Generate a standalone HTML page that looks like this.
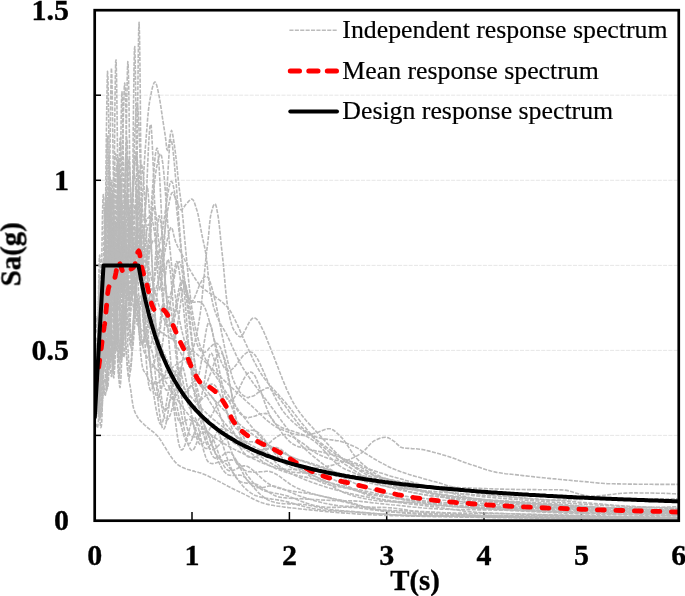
<!DOCTYPE html>
<html><head><meta charset="utf-8"><title>Response spectrum</title>
<style>
html,body{margin:0;padding:0;background:#fff;}
svg{display:block;font-family:"Liberation Serif",serif;}
.b{font-weight:bold;font-size:30px;fill:#000;stroke:#000;stroke-width:0.35px;}
.t{font-weight:bold;font-size:28.8px;fill:#000;stroke:#000;stroke-width:0.35px;}
.lg{font-size:25.8px;fill:#000;stroke:#000;stroke-width:0.2px;}
</style></head><body>
<svg width="685" height="596" viewBox="0 0 685 596">
<rect width="685" height="596" fill="#fff"/>
<g stroke="#dfdfdf" stroke-width="0.8" stroke-dasharray="4 1.3" fill="none"><line x1="96" x2="678" y1="435.4" y2="435.4"/><line x1="96" x2="678" y1="350.4" y2="350.4"/><line x1="96" x2="678" y1="265.4" y2="265.4"/><line x1="96" x2="678" y1="180.3" y2="180.3"/><line x1="96" x2="678" y1="95.2" y2="95.2"/></g>
<g stroke="#000" stroke-width="1.5" fill="none"><line x1="95" x2="101" y1="435.4" y2="435.4"/><line x1="95" x2="101" y1="350.4" y2="350.4"/><line x1="95" x2="101" y1="265.4" y2="265.4"/><line x1="95" x2="101" y1="180.3" y2="180.3"/><line x1="95" x2="101" y1="95.2" y2="95.2"/><line x1="192.0" x2="192.0" y1="512" y2="520"/><line x1="289.4" x2="289.4" y1="512" y2="520"/><line x1="386.7" x2="386.7" y1="512" y2="520"/><line x1="484.0" x2="484.0" y1="512" y2="520"/><line x1="581.4" x2="581.4" y1="512" y2="520"/></g>
<filter id="gs" x="-5%" y="-5%" width="110%" height="110%" color-interpolation-filters="sRGB"><feColorMatrix type="saturate" values="0"/></filter>
<clipPath id="cp"><rect x="94.7" y="10.2" width="584.05" height="510.5"/></clipPath>
<g clip-path="url(#cp)">
<g stroke="#b9b9b9" stroke-width="1.6" stroke-dasharray="4.1 1.3" fill="none" stroke-linejoin="round">
<path d="M94.7 397.9 L95.1 397.8 L95.5 397.3 L95.9 396.7 L96.3 395.8 L96.6 395.3 L97.0 394.9 L97.4 389.5 L97.8 381.5 L98.2 370.9 L98.6 358.7 L99.0 350.7 L99.4 344.1 L99.8 339.0 L100.2 335.6 L100.5 334.1 L100.9 335.8 L101.3 339.9 L101.7 345.1 L102.1 350.3 L102.5 354.6 L102.9 357.0 L103.3 356.1 L103.7 351.0 L104.0 340.2 L104.4 324.6 L104.8 306.0 L105.2 286.4 L105.6 269.1 L106.0 258.1 L106.4 256.7 L106.8 262.9 L107.2 274.3 L107.5 288.5 L107.9 303.3 L108.3 316.9 L108.7 328.1 L109.1 335.9 L109.5 339.2 L109.9 337.5 L110.3 331.6 L110.7 322.5 L111.1 310.9 L111.4 298.1 L111.8 285.2 L112.2 274.1 L112.6 266.6 L113.0 264.4 L113.4 266.7 L113.8 272.3 L114.2 279.9 L114.6 288.5 L114.9 296.9 L115.3 304.2 L115.7 309.6 L116.1 312.4 L116.5 312.4 L116.9 310.7 L117.3 307.5 L117.7 303.3 L118.1 298.2 L118.4 292.5 L118.8 286.5 L119.2 280.6 L119.6 275.1 L120.0 270.5 L120.4 267.3 L120.8 265.7 L121.2 266.5 L121.6 270.4 L122.0 276.4 L122.3 283.7 L122.7 291.5 L123.1 299.1 L123.5 306.0 L123.9 311.4 L124.3 314.9 L124.7 316.1 L125.1 315.3 L125.5 313.0 L125.8 309.6 L126.2 305.3 L126.6 300.2 L127.0 294.6 L127.4 288.8 L127.8 283.0 L128.2 277.5 L128.6 272.8 L129.0 269.0 L129.3 266.7 L129.7 266.1 L130.1 267.7 L130.5 270.3 L130.9 273.6 L131.3 277.1 L131.7 280.7 L132.1 284.0 L132.5 286.9 L132.9 289.2 L133.2 290.8 L133.6 291.7 L134.0 291.9 L134.4 291.3 L134.8 289.9 L135.2 287.9 L135.6 285.2 L136.0 282.5 L136.4 279.8 L136.7 277.5 L137.1 275.9 L137.5 275.0 L137.9 273.7 L138.3 271.0 L138.7 267.3 L139.1 262.8 L139.5 257.7 L139.9 248.9 L140.3 239.6 L140.6 230.4 L141.0 221.8 L141.4 214.3 L141.8 207.6 L142.2 200.8 L142.6 194.6 L143.0 189.0 L143.4 180.1 L143.8 173.3 L144.1 166.7 L144.5 160.3 L144.9 154.2 L145.3 148.5 L145.7 143.2 L146.1 138.2 L146.5 133.2 L146.9 128.4 L147.3 123.6 L147.6 119.1 L148.0 114.8 L148.4 110.8 L148.8 107.3 L149.2 104.1 L149.6 101.5 L150.0 99.3 L150.4 97.3 L150.8 95.2 L151.2 93.3 L151.5 91.4 L151.9 89.7 L152.3 88.0 L152.7 86.6 L153.1 85.3 L153.5 84.1 L153.9 83.2 L154.3 82.5 L154.7 82.1 L155.0 82.0 L155.4 82.2 L155.8 82.8 L156.2 83.8 L156.6 85.0 L157.0 86.4 L157.4 88.1 L157.8 89.8 L158.2 91.6 L158.5 93.5 L158.9 95.2 L159.3 97.2 L159.7 99.4 L160.1 101.8 L160.5 104.4 L160.9 107.0 L161.3 109.7 L161.7 112.3 L162.1 114.9 L162.4 117.4 L162.8 119.9 L163.8 126.3 L164.8 132.9 L165.8 139.8 L166.7 149.0 L167.7 150.5 L168.7 145.6 L169.6 139.9 L170.6 133.0 L171.6 130.4 L172.6 133.9 L173.5 139.5 L174.5 145.8 L175.5 153.6 L176.5 161.9 L177.4 171.0 L178.4 180.7 L179.4 189.6 L180.4 197.1 L181.3 204.2 L182.3 212.6 L183.3 222.5 L184.2 233.3 L185.2 244.4 L186.2 255.3 L187.2 265.4 L188.1 275.2 L189.1 285.1 L190.1 294.4 L191.1 302.7 L192.0 309.6 L193.0 315.3 L194.0 320.6 L194.9 325.5 L195.9 330.0 L196.9 334.2 L197.9 338.0 L198.8 341.5 L199.8 344.7 L200.8 347.7 L201.8 350.4 L202.7 352.9 L203.7 355.2 L204.7 357.4 L205.7 359.5 L206.6 361.4 L207.6 363.2 L208.6 365.0 L209.5 366.6 L210.5 368.2 L211.5 369.8 L212.5 371.3 L213.4 372.7 L214.4 374.2 L215.4 375.6 L216.4 377.0 L217.3 378.5 L218.3 379.9 L219.3 381.4 L220.3 382.9 L221.2 384.4 L222.2 386.0 L223.2 387.5 L224.1 389.1 L225.1 390.6 L226.1 392.1 L227.1 393.6 L228.0 395.0 L229.0 396.5 L230.0 397.9 L231.0 399.4 L231.9 400.8 L232.9 402.2 L233.9 403.6 L234.9 405.0 L235.8 406.4 L236.8 407.7 L237.8 409.1 L238.7 410.4 L239.7 411.7 L240.7 413.0 L241.7 414.3 L242.6 415.6 L243.6 416.8 L244.6 418.1 L245.6 419.3 L246.5 420.5 L247.5 421.7 L248.5 422.9 L249.5 424.1 L250.4 425.2 L251.4 426.4 L252.4 427.6 L253.3 428.7 L254.3 429.8 L255.3 431.0 L256.3 432.1 L257.2 433.2 L258.2 434.4 L259.2 435.5 L260.2 436.6 L261.1 437.6 L262.1 438.7 L263.1 439.8 L264.1 440.8 L265.0 441.9 L266.0 442.9 L267.0 443.9 L267.9 444.9 L268.9 445.9 L269.9 446.8 L270.9 447.8 L271.8 448.7 L272.8 449.7 L273.8 450.6 L274.8 451.4 L275.7 452.3 L276.7 453.2 L277.7 454.0 L278.7 454.8 L279.6 455.6 L280.6 456.4 L281.6 457.2 L282.5 457.9 L283.5 458.7 L284.5 459.4 L285.5 460.1 L286.4 460.7 L287.4 461.4 L288.4 462.0 L289.4 462.7 L292.3 464.5 L295.2 466.2 L298.1 467.9 L301.0 469.5 L304.0 471.1 L306.9 472.6 L309.8 474.1 L312.7 475.5 L315.6 476.8 L318.6 478.1 L321.5 479.4 L324.4 480.5 L327.3 481.7 L330.2 482.8 L333.2 483.9 L336.1 484.9 L339.0 485.8 L341.9 486.8 L344.8 487.7 L347.8 488.5 L350.7 489.3 L353.6 490.1 L356.5 490.8 L359.4 491.5 L362.4 492.2 L365.3 492.9 L368.2 493.5 L371.1 494.1 L374.0 494.6 L377.0 495.1 L379.9 495.6 L382.8 496.1 L385.7 496.5 L388.6 497.0 L391.6 497.4 L394.5 497.7 L397.4 498.1 L400.3 498.5 L403.2 498.8 L406.2 499.1 L409.1 499.4 L412.0 499.7 L414.9 500.0 L417.8 500.3 L420.8 500.6 L423.7 500.8 L426.6 501.1 L429.5 501.3 L432.4 501.6 L435.4 501.8 L438.3 502.0 L441.2 502.2 L444.1 502.5 L447.0 502.7 L450.0 502.9 L452.9 503.1 L455.8 503.3 L458.7 503.5 L461.6 503.7 L464.6 503.9 L467.5 504.1 L470.4 504.3 L473.3 504.5 L476.2 504.7 L479.2 504.9 L482.1 505.1 L485.0 505.3 L487.9 505.4 L490.8 505.6 L493.8 505.8 L496.7 506.0 L499.6 506.2 L502.5 506.4 L505.4 506.6 L508.4 506.7 L511.3 506.9 L514.2 507.1 L517.1 507.2 L520.0 507.4 L523.0 507.6 L525.9 507.7 L528.8 507.9 L531.7 508.0 L534.6 508.2 L537.6 508.4 L540.5 508.5 L543.4 508.7 L546.3 508.8 L549.2 508.9 L552.2 509.1 L555.1 509.2 L558.0 509.4 L560.9 509.5 L563.8 509.6 L566.8 509.8 L569.7 509.9 L572.6 510.0 L575.5 510.2 L578.4 510.3 L581.3 510.4 L584.3 510.5 L587.2 510.6 L590.1 510.8 L593.0 510.9 L595.9 511.0 L598.9 511.1 L601.8 511.2 L604.7 511.3 L607.6 511.4 L610.5 511.6 L613.5 511.7 L616.4 511.8 L619.3 511.9 L622.2 512.0 L625.1 512.1 L628.1 512.2 L631.0 512.3 L633.9 512.4 L636.8 512.5 L639.7 512.6 L642.7 512.7 L645.6 512.7 L648.5 512.8 L651.4 512.9 L654.3 513.0 L657.3 513.1 L660.2 513.2 L663.1 513.3 L666.0 513.3 L668.9 513.4 L671.9 513.5 L674.8 513.6 L677.7 513.7"/>
<path d="M94.7 373.2 L95.1 371.7 L95.5 370.2 L95.9 368.9 L96.3 367.8 L96.6 365.7 L97.0 362.6 L97.4 359.8 L97.8 357.3 L98.2 357.9 L98.6 379.5 L99.0 396.6 L99.4 409.1 L99.8 417.8 L100.2 423.5 L100.5 426.7 L100.9 427.6 L101.3 426.5 L101.7 422.5 L102.1 412.5 L102.5 399.5 L102.9 384.7 L103.3 369.9 L103.7 358.0 L104.0 352.4 L104.4 355.1 L104.8 363.3 L105.2 373.1 L105.6 381.4 L106.0 385.5 L106.4 383.3 L106.8 375.1 L107.2 362.4 L107.5 346.5 L107.9 329.8 L108.3 315.2 L108.7 306.8 L109.1 305.9 L109.5 309.1 L109.9 314.8 L110.3 322.0 L110.7 329.7 L111.1 337.0 L111.4 343.3 L111.8 347.8 L112.2 350.0 L112.6 349.3 L113.0 343.6 L113.4 333.1 L113.8 319.2 L114.2 303.7 L114.6 288.9 L114.9 277.8 L115.3 273.6 L115.7 278.0 L116.1 286.8 L116.5 298.9 L116.9 312.8 L117.3 327.3 L117.7 341.4 L118.1 354.4 L118.4 365.7 L118.8 375.0 L119.2 381.9 L119.6 386.1 L120.0 387.5 L120.4 385.4 L120.8 380.2 L121.2 372.1 L121.6 361.6 L122.0 349.1 L122.3 335.2 L122.7 320.7 L123.1 306.7 L123.5 294.7 L123.9 286.3 L124.3 283.1 L124.7 284.1 L125.1 287.8 L125.5 293.6 L125.8 301.1 L126.2 309.6 L126.6 318.7 L127.0 327.9 L127.4 336.9 L127.8 345.3 L128.2 352.8 L128.6 359.3 L129.0 364.6 L129.3 368.4 L129.7 370.7 L130.1 371.2 L130.5 370.2 L130.9 367.7 L131.3 364.0 L131.7 359.3 L132.1 353.6 L132.5 347.2 L132.9 340.2 L133.2 333.0 L133.6 325.8 L134.0 318.8 L134.4 312.6 L134.8 307.4 L135.2 303.8 L135.6 302.0 L136.0 303.6 L136.4 306.2 L136.7 309.3 L137.1 312.9 L137.5 316.8 L137.9 320.7 L138.3 324.6 L138.7 328.3 L139.1 331.8 L139.5 334.9 L139.9 337.7 L140.3 340.0 L140.6 341.9 L141.0 343.3 L141.4 344.3 L141.8 344.7 L142.2 344.7 L142.6 344.3 L143.0 343.4 L143.4 342.2 L143.8 340.1 L144.1 336.6 L144.5 332.0 L144.9 326.4 L145.3 319.9 L145.7 314.7 L146.1 308.9 L146.5 302.6 L146.9 295.9 L147.3 288.8 L147.6 281.7 L148.0 274.5 L148.4 267.6 L148.8 261.1 L149.2 255.1 L149.6 249.5 L150.0 243.5 L150.4 237.4 L150.8 231.2 L151.2 224.9 L151.5 218.7 L151.9 212.6 L152.3 206.8 L152.7 201.3 L153.1 196.2 L153.5 191.7 L153.9 187.9 L154.3 184.4 L154.7 181.1 L155.0 178.0 L155.4 175.1 L155.8 172.4 L156.2 169.9 L156.6 167.6 L157.0 165.6 L157.4 163.7 L157.8 162.0 L158.2 160.3 L158.5 158.6 L158.9 157.1 L159.3 155.8 L159.7 154.7 L160.1 154.0 L160.5 153.8 L160.9 154.1 L161.3 155.2 L161.7 156.8 L162.1 158.7 L162.4 161.0 L162.8 163.3 L163.8 172.7 L164.8 184.5 L165.8 197.2 L166.7 210.4 L167.7 223.2 L168.7 234.7 L169.6 245.1 L170.6 255.2 L171.6 264.8 L172.6 273.8 L173.5 282.3 L174.5 290.1 L175.5 297.3 L176.5 303.8 L177.4 309.6 L178.4 314.8 L179.4 319.7 L180.4 324.2 L181.3 328.5 L182.3 332.6 L183.3 336.4 L184.2 340.0 L185.2 343.4 L186.2 346.7 L187.2 349.9 L188.1 352.9 L189.1 355.8 L190.1 358.6 L191.1 361.3 L192.0 364.0 L193.0 366.6 L194.0 369.1 L194.9 371.6 L195.9 374.0 L196.9 376.3 L197.9 378.5 L198.8 380.7 L199.8 382.8 L200.8 384.9 L201.8 386.9 L202.7 388.8 L203.7 390.7 L204.7 392.6 L205.7 394.4 L206.6 396.2 L207.6 397.9 L208.6 399.6 L209.5 401.2 L210.5 402.8 L211.5 404.4 L212.5 405.9 L213.4 407.4 L214.4 408.9 L215.4 410.3 L216.4 411.7 L217.3 413.1 L218.3 414.5 L219.3 415.8 L220.3 417.1 L221.2 418.4 L222.2 419.7 L223.2 421.0 L224.1 422.2 L225.1 423.4 L226.1 424.6 L227.1 425.8 L228.0 426.9 L229.0 428.0 L230.0 429.1 L231.0 430.2 L231.9 431.3 L232.9 432.4 L233.9 433.4 L234.9 434.4 L235.8 435.4 L236.8 436.4 L237.8 437.4 L238.7 438.4 L239.7 439.3 L240.7 440.2 L241.7 441.1 L242.6 442.0 L243.6 442.9 L244.6 443.8 L245.6 444.7 L246.5 445.5 L247.5 446.3 L248.5 447.2 L249.5 448.0 L250.4 448.8 L251.4 449.5 L252.4 450.3 L253.3 451.1 L254.3 451.8 L255.3 452.6 L256.3 453.3 L257.2 454.0 L258.2 454.7 L259.2 455.4 L260.2 456.1 L261.1 456.8 L262.1 457.4 L263.1 458.1 L264.1 458.8 L265.0 459.4 L266.0 460.0 L267.0 460.6 L267.9 461.3 L268.9 461.9 L269.9 462.5 L270.9 463.0 L271.8 463.6 L272.8 464.2 L273.8 464.8 L274.8 465.3 L275.7 465.9 L276.7 466.4 L277.7 467.0 L278.7 467.5 L279.6 468.0 L280.6 468.5 L281.6 469.0 L282.5 469.5 L283.5 470.0 L284.5 470.5 L285.5 471.0 L286.4 471.5 L287.4 471.9 L288.4 472.4 L289.4 472.9 L292.3 474.2 L295.2 475.5 L298.1 476.8 L301.0 478.0 L304.0 479.2 L306.9 480.4 L309.8 481.5 L312.7 482.6 L315.6 483.6 L318.6 484.6 L321.5 485.6 L324.4 486.5 L327.3 487.4 L330.2 488.3 L333.2 489.1 L336.1 489.9 L339.0 490.7 L341.9 491.5 L344.8 492.2 L347.8 492.9 L350.7 493.6 L353.6 494.2 L356.5 494.9 L359.4 495.5 L362.4 496.1 L365.3 496.6 L368.2 497.2 L371.1 497.7 L374.0 498.2 L377.0 498.6 L379.9 499.1 L382.8 499.5 L385.7 500.0 L388.6 500.4 L391.6 500.7 L394.5 501.1 L397.4 501.5 L400.3 501.8 L403.2 502.2 L406.2 502.5 L409.1 502.8 L412.0 503.1 L414.9 503.4 L417.8 503.7 L420.8 504.0 L423.7 504.2 L426.6 504.5 L429.5 504.8 L432.4 505.0 L435.4 505.3 L438.3 505.5 L441.2 505.7 L444.1 505.9 L447.0 506.2 L450.0 506.4 L452.9 506.6 L455.8 506.8 L458.7 507.0 L461.6 507.2 L464.6 507.4 L467.5 507.6 L470.4 507.8 L473.3 507.9 L476.2 508.1 L479.2 508.3 L482.1 508.5 L485.0 508.7 L487.9 508.8 L490.8 509.0 L493.8 509.1 L496.7 509.3 L499.6 509.5 L502.5 509.6 L505.4 509.8 L508.4 509.9 L511.3 510.1 L514.2 510.2 L517.1 510.4 L520.0 510.5 L523.0 510.6 L525.9 510.8 L528.8 510.9 L531.7 511.0 L534.6 511.2 L537.6 511.3 L540.5 511.4 L543.4 511.5 L546.3 511.7 L549.2 511.8 L552.2 511.9 L555.1 512.0 L558.0 512.1 L560.9 512.2 L563.8 512.3 L566.8 512.5 L569.7 512.6 L572.6 512.7 L575.5 512.8 L578.4 512.9 L581.3 513.0 L584.3 513.1 L587.2 513.2 L590.1 513.2 L593.0 513.3 L595.9 513.4 L598.9 513.5 L601.8 513.6 L604.7 513.7 L607.6 513.8 L610.5 513.9 L613.5 513.9 L616.4 514.0 L619.3 514.1 L622.2 514.2 L625.1 514.2 L628.1 514.3 L631.0 514.4 L633.9 514.5 L636.8 514.5 L639.7 514.6 L642.7 514.7 L645.6 514.7 L648.5 514.8 L651.4 514.9 L654.3 514.9 L657.3 515.0 L660.2 515.0 L663.1 515.1 L666.0 515.2 L668.9 515.2 L671.9 515.3 L674.8 515.3 L677.7 515.4"/>
<path d="M94.7 376.2 L95.1 375.7 L95.5 375.0 L95.9 374.2 L96.3 373.2 L96.6 374.1 L97.0 376.7 L97.4 379.2 L97.8 364.3 L98.2 335.9 L98.6 303.1 L99.0 285.2 L99.4 278.1 L99.8 281.7 L100.2 290.9 L100.5 299.4 L100.9 310.2 L101.3 322.2 L101.7 334.8 L102.1 346.4 L102.5 356.2 L102.9 363.9 L103.3 368.7 L103.7 370.5 L104.0 368.0 L104.4 357.7 L104.8 341.2 L105.2 321.5 L105.6 302.8 L106.0 291.1 L106.4 292.2 L106.8 304.0 L107.2 320.0 L107.5 334.9 L107.9 344.4 L108.3 345.1 L108.7 333.3 L109.1 309.3 L109.5 276.1 L109.9 238.7 L110.3 206.2 L110.7 192.7 L111.1 194.5 L111.4 204.1 L111.8 219.8 L112.2 238.3 L112.6 257.2 L113.0 274.7 L113.4 289.5 L113.8 300.5 L114.2 306.8 L114.6 307.7 L114.9 304.3 L115.3 297.3 L115.7 287.8 L116.1 276.6 L116.5 264.5 L116.9 253.0 L117.3 243.3 L117.7 237.1 L118.1 236.1 L118.4 243.1 L118.8 258.8 L119.2 279.1 L119.6 300.6 L120.0 320.9 L120.4 337.9 L120.8 350.7 L121.2 358.4 L121.6 360.0 L122.0 357.0 L122.3 350.3 L122.7 340.4 L123.1 328.2 L123.5 314.3 L123.9 300.1 L124.3 286.8 L124.7 276.4 L125.1 271.0 L125.5 269.9 L125.8 271.7 L126.2 275.6 L126.6 281.0 L127.0 287.0 L127.4 292.9 L127.8 298.2 L128.2 302.1 L128.6 304.3 L129.0 304.0 L129.3 301.3 L129.7 297.7 L130.1 292.9 L130.5 286.8 L130.9 279.8 L131.3 271.9 L131.7 263.1 L132.1 254.1 L132.5 245.0 L132.9 236.2 L133.2 228.0 L133.6 220.6 L134.0 214.2 L134.4 209.3 L134.8 206.2 L135.2 205.0 L135.6 206.1 L136.0 213.7 L136.4 223.5 L136.7 235.0 L137.1 247.3 L137.5 259.9 L137.9 272.2 L138.3 284.1 L138.7 295.1 L139.1 305.1 L139.5 314.0 L139.9 321.7 L140.3 328.3 L140.6 333.7 L141.0 337.9 L141.4 341.1 L141.8 343.2 L142.2 344.3 L142.6 344.4 L143.0 343.7 L143.4 342.3 L143.8 340.6 L144.1 338.6 L144.5 336.6 L144.9 334.6 L145.3 332.5 L145.7 332.1 L146.1 331.7 L146.5 331.2 L146.9 330.7 L147.3 330.1 L147.6 329.5 L148.0 328.8 L148.4 328.0 L148.8 327.2 L149.2 326.4 L149.6 325.5 L150.0 324.6 L150.4 323.7 L150.8 322.7 L151.2 321.7 L151.5 320.7 L151.9 319.7 L152.3 318.6 L152.7 317.5 L153.1 316.4 L153.5 315.1 L153.9 313.6 L154.3 311.9 L154.7 309.9 L155.0 307.7 L155.4 305.3 L155.8 302.7 L156.2 300.0 L156.6 297.1 L157.0 294.1 L157.4 291.0 L157.8 287.8 L158.2 284.5 L158.5 281.2 L158.9 277.9 L159.3 274.5 L159.7 271.3 L160.1 268.1 L160.5 264.9 L160.9 261.9 L161.3 259.0 L161.7 256.0 L162.1 252.9 L162.4 249.7 L162.8 246.6 L163.8 238.6 L164.8 230.7 L165.8 223.2 L166.7 216.4 L167.7 210.1 L168.7 204.8 L169.6 200.4 L170.6 196.1 L171.6 193.1 L172.6 192.5 L173.5 193.7 L174.5 195.9 L175.5 198.4 L176.5 200.7 L177.4 203.0 L178.4 205.6 L179.4 207.9 L180.4 209.5 L181.3 209.9 L182.3 209.3 L183.3 208.1 L184.2 206.7 L185.2 205.3 L186.2 204.1 L187.2 203.1 L188.1 201.9 L189.1 200.8 L190.1 199.9 L191.1 199.2 L192.0 199.0 L193.0 199.8 L194.0 201.5 L194.9 204.1 L195.9 207.1 L196.9 210.3 L197.9 213.7 L198.8 218.2 L199.8 223.4 L200.8 228.9 L201.8 234.1 L202.7 238.6 L203.7 243.0 L204.7 247.5 L205.7 252.8 L206.6 259.5 L207.6 269.0 L208.6 278.5 L209.5 285.7 L210.5 291.9 L211.5 297.4 L212.5 302.2 L213.4 306.2 L214.4 309.5 L215.4 312.3 L216.4 314.9 L217.3 317.2 L218.3 319.4 L219.3 321.5 L220.3 323.4 L221.2 325.2 L222.2 326.8 L223.2 328.4 L224.1 330.0 L225.1 331.6 L226.1 333.4 L227.1 335.3 L228.0 337.3 L229.0 339.4 L230.0 341.5 L231.0 343.6 L231.9 345.8 L232.9 348.0 L233.9 350.1 L234.9 352.3 L235.8 354.4 L236.8 356.4 L237.8 358.4 L238.7 360.4 L239.7 362.2 L240.7 364.0 L241.7 365.7 L242.6 367.4 L243.6 369.0 L244.6 370.5 L245.6 372.0 L246.5 373.5 L247.5 375.0 L248.5 376.4 L249.5 377.8 L250.4 379.2 L251.4 380.5 L252.4 381.9 L253.3 383.2 L254.3 384.5 L255.3 385.8 L256.3 387.1 L257.2 388.3 L258.2 389.6 L259.2 390.8 L260.2 392.1 L261.1 393.3 L262.1 394.6 L263.1 395.9 L264.1 397.1 L265.0 398.4 L266.0 399.7 L267.0 400.9 L267.9 402.2 L268.9 403.5 L269.9 404.8 L270.9 406.2 L271.8 407.5 L272.8 408.8 L273.8 410.2 L274.8 411.5 L275.7 412.9 L276.7 414.2 L277.7 415.6 L278.7 416.9 L279.6 418.3 L280.6 419.6 L281.6 421.0 L282.5 422.3 L283.5 423.6 L284.5 424.9 L285.5 426.2 L286.4 427.5 L287.4 428.8 L288.4 430.1 L289.4 431.3 L292.3 435.0 L295.2 438.5 L298.1 441.8 L301.0 445.0 L304.0 448.0 L306.9 450.7 L309.8 453.3 L312.7 455.8 L315.6 458.2 L318.6 460.6 L321.5 462.9 L324.4 465.1 L327.3 467.2 L330.2 469.3 L333.2 471.2 L336.1 473.1 L339.0 474.9 L341.9 476.6 L344.8 478.3 L347.8 479.8 L350.7 481.3 L353.6 482.7 L356.5 484.0 L359.4 485.2 L362.4 486.4 L365.3 487.5 L368.2 488.5 L371.1 489.4 L374.0 490.3 L377.0 491.1 L379.9 491.8 L382.8 492.5 L385.7 493.1 L388.6 493.6 L391.6 494.2 L394.5 494.7 L397.4 495.1 L400.3 495.6 L403.2 496.0 L406.2 496.4 L409.1 496.8 L412.0 497.1 L414.9 497.5 L417.8 497.8 L420.8 498.1 L423.7 498.4 L426.6 498.7 L429.5 499.0 L432.4 499.3 L435.4 499.5 L438.3 499.8 L441.2 500.1 L444.1 500.3 L447.0 500.6 L450.0 500.8 L452.9 501.0 L455.8 501.3 L458.7 501.5 L461.6 501.7 L464.6 501.9 L467.5 502.2 L470.4 502.4 L473.3 502.6 L476.2 502.9 L479.2 503.1 L482.1 503.3 L485.0 503.6 L487.9 503.8 L490.8 504.0 L493.8 504.3 L496.7 504.5 L499.6 504.7 L502.5 504.9 L505.4 505.1 L508.4 505.4 L511.3 505.6 L514.2 505.8 L517.1 506.0 L520.0 506.2 L523.0 506.4 L525.9 506.6 L528.8 506.8 L531.7 506.9 L534.6 507.1 L537.6 507.3 L540.5 507.5 L543.4 507.7 L546.3 507.9 L549.2 508.0 L552.2 508.2 L555.1 508.4 L558.0 508.5 L560.9 508.7 L563.8 508.9 L566.8 509.0 L569.7 509.2 L572.6 509.3 L575.5 509.5 L578.4 509.6 L581.3 509.8 L584.3 509.9 L587.2 510.1 L590.1 510.2 L593.0 510.4 L595.9 510.5 L598.9 510.6 L601.8 510.8 L604.7 510.9 L607.6 511.0 L610.5 511.2 L613.5 511.3 L616.4 511.4 L619.3 511.5 L622.2 511.7 L625.1 511.8 L628.1 511.9 L631.0 512.0 L633.9 512.1 L636.8 512.2 L639.7 512.3 L642.7 512.5 L645.6 512.6 L648.5 512.7 L651.4 512.8 L654.3 512.9 L657.3 513.0 L660.2 513.1 L663.1 513.2 L666.0 513.3 L668.9 513.4 L671.9 513.5 L674.8 513.6 L677.7 513.7"/>
<path d="M94.7 415.9 L95.1 415.8 L95.5 415.4 L95.9 414.8 L96.3 414.1 L96.6 411.8 L97.0 407.9 L97.4 403.8 L97.8 399.4 L98.2 403.7 L98.6 408.8 L99.0 412.2 L99.4 413.4 L99.8 412.9 L100.2 410.6 L100.5 406.8 L100.9 401.8 L101.3 396.3 L101.7 390.0 L102.1 383.4 L102.5 377.0 L102.9 371.1 L103.3 365.5 L103.7 360.7 L104.0 357.0 L104.4 354.9 L104.8 354.4 L105.2 355.4 L105.6 357.2 L106.0 359.4 L106.4 361.7 L106.8 363.5 L107.2 364.5 L107.5 364.1 L107.9 362.1 L108.3 356.8 L108.7 348.7 L109.1 339.0 L109.5 329.1 L109.9 320.5 L110.3 315.3 L110.7 315.4 L111.1 322.2 L111.4 333.2 L111.8 345.5 L112.2 356.4 L112.6 364.1 L113.0 366.9 L113.4 363.1 L113.8 352.4 L114.2 336.5 L114.6 317.7 L114.9 299.2 L115.3 285.6 L115.7 281.7 L116.1 285.9 L116.5 294.6 L116.9 306.1 L117.3 318.8 L117.7 331.4 L118.1 342.7 L118.4 352.1 L118.8 358.7 L119.2 362.0 L119.6 361.9 L120.0 359.4 L120.4 354.9 L120.8 348.9 L121.2 341.8 L121.6 334.2 L122.0 326.6 L122.3 319.8 L122.7 314.5 L123.1 311.6 L123.5 311.8 L123.9 314.2 L124.3 318.2 L124.7 323.4 L125.1 329.5 L125.5 336.2 L125.8 343.0 L126.2 349.8 L126.6 356.2 L127.0 362.1 L127.4 367.3 L127.8 371.6 L128.2 374.9 L128.6 377.1 L129.0 377.9 L129.3 377.4 L129.7 375.7 L130.1 372.9 L130.5 369.2 L130.9 364.7 L131.3 359.3 L131.7 353.1 L132.1 346.4 L132.5 339.3 L132.9 332.0 L133.2 324.6 L133.6 317.3 L134.0 310.3 L134.4 303.8 L134.8 298.1 L135.2 293.4 L135.6 290.1 L136.0 290.6 L136.4 293.0 L136.7 297.0 L137.1 302.0 L137.5 307.6 L137.9 313.6 L138.3 319.7 L138.7 325.9 L139.1 331.9 L139.5 337.7 L139.9 343.1 L140.3 348.0 L140.6 352.6 L141.0 356.6 L141.4 360.1 L141.8 363.1 L142.2 365.6 L142.6 367.6 L143.0 369.1 L143.4 370.2 L143.8 370.9 L144.1 371.4 L144.5 371.7 L144.9 371.9 L145.3 372.0 L145.7 373.0 L146.1 373.9 L146.5 374.8 L146.9 375.7 L147.3 376.6 L147.6 377.5 L148.0 378.3 L148.4 379.1 L148.8 379.9 L149.2 380.6 L149.6 381.3 L150.0 381.9 L150.4 382.4 L150.8 382.9 L151.2 383.4 L151.5 383.7 L151.9 384.0 L152.3 384.2 L152.7 384.4 L153.1 384.4 L153.5 384.4 L153.9 384.4 L154.3 384.3 L154.7 384.2 L155.0 384.1 L155.4 384.0 L155.8 383.8 L156.2 383.6 L156.6 383.4 L157.0 383.2 L157.4 383.0 L157.8 382.7 L158.2 382.5 L158.5 382.2 L158.9 381.9 L159.3 381.6 L159.7 381.2 L160.1 380.9 L160.5 380.5 L160.9 380.2 L161.3 379.8 L161.7 379.4 L162.1 379.0 L162.4 378.6 L162.8 378.2 L163.8 377.1 L164.8 376.0 L165.8 374.8 L166.7 373.7 L167.7 372.5 L168.7 371.4 L169.6 370.3 L170.6 369.3 L171.6 368.3 L172.6 367.4 L173.5 366.6 L174.5 365.8 L175.5 365.1 L176.5 364.4 L177.4 363.8 L178.4 363.2 L179.4 362.6 L180.4 361.9 L181.3 361.3 L182.3 360.7 L183.3 360.0 L184.2 359.3 L185.2 358.5 L186.2 357.6 L187.2 356.7 L188.1 355.7 L189.1 354.5 L190.1 353.3 L191.1 351.9 L192.0 350.4 L193.0 348.4 L194.0 345.6 L194.9 342.0 L195.9 337.8 L196.9 333.1 L197.9 327.9 L198.8 322.3 L199.8 316.4 L200.8 309.5 L201.8 301.0 L202.7 291.3 L203.7 280.9 L204.7 270.4 L205.7 260.4 L206.6 251.6 L207.6 243.9 L208.6 235.3 L209.5 224.5 L210.5 216.4 L211.5 212.1 L212.5 208.4 L213.4 205.6 L214.4 204.1 L215.4 204.1 L216.4 207.0 L217.3 211.9 L218.3 217.5 L219.3 225.5 L220.3 235.3 L221.2 244.9 L222.2 253.8 L223.2 262.9 L224.1 272.9 L225.1 284.3 L226.1 294.9 L227.1 302.8 L228.0 308.5 L229.0 313.6 L230.0 318.2 L231.0 322.1 L231.9 325.4 L232.9 328.1 L233.9 330.0 L234.9 331.5 L235.8 332.9 L236.8 334.2 L237.8 335.3 L238.7 336.1 L239.7 336.6 L240.7 336.8 L241.7 336.3 L242.6 334.9 L243.6 333.1 L244.6 331.1 L245.6 329.3 L246.5 327.5 L247.5 325.5 L248.5 323.6 L249.5 321.8 L250.4 320.5 L251.4 319.4 L252.4 318.4 L253.3 317.8 L254.3 317.8 L255.3 318.2 L256.3 318.9 L257.2 319.8 L258.2 320.9 L259.2 322.5 L260.2 324.3 L261.1 326.3 L262.1 328.3 L263.1 330.3 L264.1 332.5 L265.0 334.7 L266.0 337.0 L267.0 339.4 L267.9 341.9 L268.9 344.3 L269.9 346.8 L270.9 349.2 L271.8 351.6 L272.8 354.0 L273.8 356.5 L274.8 359.1 L275.7 361.6 L276.7 364.1 L277.7 366.7 L278.7 369.2 L279.6 371.8 L280.6 374.3 L281.6 376.8 L282.5 379.2 L283.5 381.6 L284.5 384.0 L285.5 386.3 L286.4 388.6 L287.4 390.8 L288.4 392.9 L289.4 395.0 L292.3 400.8 L295.2 405.9 L298.1 410.3 L301.0 414.3 L304.0 418.0 L306.9 421.4 L309.8 424.6 L312.7 427.8 L315.6 430.9 L318.6 434.0 L321.5 437.2 L324.4 440.4 L327.3 443.6 L330.2 446.7 L333.2 449.8 L336.1 452.7 L339.0 455.5 L341.9 458.1 L344.8 460.5 L347.8 462.7 L350.7 464.7 L353.6 466.7 L356.5 468.6 L359.4 470.5 L362.4 472.2 L365.3 473.9 L368.2 475.4 L371.1 476.9 L374.0 478.2 L377.0 479.5 L379.9 480.7 L382.8 481.8 L385.7 482.8 L388.6 483.7 L391.6 484.5 L394.5 485.4 L397.4 486.2 L400.3 486.9 L403.2 487.7 L406.2 488.4 L409.1 489.0 L412.0 489.7 L414.9 490.3 L417.8 490.9 L420.8 491.5 L423.7 492.0 L426.6 492.6 L429.5 493.1 L432.4 493.6 L435.4 494.1 L438.3 494.5 L441.2 495.0 L444.1 495.4 L447.0 495.8 L450.0 496.2 L452.9 496.6 L455.8 497.0 L458.7 497.4 L461.6 497.7 L464.6 498.0 L467.5 498.4 L470.4 498.7 L473.3 499.0 L476.2 499.3 L479.2 499.6 L482.1 499.9 L485.0 500.2 L487.9 500.5 L490.8 500.7 L493.8 501.0 L496.7 501.3 L499.6 501.5 L502.5 501.8 L505.4 502.0 L508.4 502.3 L511.3 502.5 L514.2 502.7 L517.1 503.0 L520.0 503.2 L523.0 503.4 L525.9 503.6 L528.8 503.8 L531.7 504.0 L534.6 504.3 L537.6 504.5 L540.5 504.7 L543.4 504.9 L546.3 505.0 L549.2 505.2 L552.2 505.4 L555.1 505.6 L558.0 505.8 L560.9 505.9 L563.8 506.1 L566.8 506.3 L569.7 506.4 L572.6 506.6 L575.5 506.7 L578.4 506.9 L581.3 507.0 L584.3 507.2 L587.2 507.3 L590.1 507.5 L593.0 507.6 L595.9 507.7 L598.9 507.9 L601.8 508.0 L604.7 508.1 L607.6 508.2 L610.5 508.4 L613.5 508.5 L616.4 508.6 L619.3 508.7 L622.2 508.8 L625.1 508.9 L628.1 509.0 L631.0 509.1 L633.9 509.2 L636.8 509.3 L639.7 509.4 L642.7 509.4 L645.6 509.5 L648.5 509.6 L651.4 509.7 L654.3 509.8 L657.3 509.8 L660.2 509.9 L663.1 510.0 L666.0 510.0 L668.9 510.1 L671.9 510.2 L674.8 510.2 L677.7 510.3"/>
<path d="M94.7 357.6 L95.1 355.9 L95.5 354.3 L95.9 352.8 L96.3 351.6 L96.6 349.7 L97.0 347.1 L97.4 344.8 L97.8 342.8 L98.2 352.5 L98.6 373.1 L99.0 386.2 L99.4 394.0 L99.8 397.2 L100.2 396.6 L100.5 392.6 L100.9 385.2 L101.3 375.3 L101.7 362.6 L102.1 348.6 L102.5 334.4 L102.9 321.6 L103.3 311.8 L103.7 307.3 L104.0 309.9 L104.4 320.5 L104.8 335.6 L105.2 351.9 L105.6 366.7 L106.0 378.3 L106.4 385.4 L106.8 386.8 L107.2 382.5 L107.5 373.7 L107.9 361.3 L108.3 346.1 L108.7 329.2 L109.1 312.6 L109.5 298.6 L109.9 289.5 L110.3 288.4 L110.7 296.6 L111.1 310.9 L111.4 327.5 L111.8 343.6 L112.2 357.0 L112.6 366.0 L113.0 369.5 L113.4 367.2 L113.8 360.6 L114.2 350.4 L114.6 337.3 L114.9 322.3 L115.3 306.7 L115.7 292.2 L116.1 280.9 L116.5 275.7 L116.9 275.0 L117.3 277.0 L117.7 281.3 L118.1 287.1 L118.4 293.8 L118.8 300.7 L119.2 307.5 L119.6 313.5 L120.0 318.4 L120.4 321.8 L120.8 323.3 L121.2 322.6 L121.6 319.8 L122.0 315.3 L122.3 309.3 L122.7 302.2 L123.1 294.1 L123.5 285.5 L123.9 276.8 L124.3 268.6 L124.7 261.2 L125.1 255.4 L125.5 251.7 L125.8 250.8 L126.2 252.9 L126.6 257.5 L127.0 264.2 L127.4 272.4 L127.8 281.6 L128.2 291.4 L128.6 301.2 L129.0 310.8 L129.3 319.8 L129.7 328.1 L130.1 335.3 L130.5 341.3 L130.9 345.9 L131.3 349.0 L131.7 350.5 L132.1 350.3 L132.5 348.9 L132.9 346.5 L133.2 343.1 L133.6 339.0 L134.0 334.2 L134.4 328.8 L134.8 323.1 L135.2 317.1 L135.6 311.0 L136.0 305.9 L136.4 301.8 L136.7 298.9 L137.1 297.3 L137.5 297.0 L137.9 298.2 L138.3 300.9 L138.7 304.5 L139.1 308.6 L139.5 313.0 L139.9 317.5 L140.3 322.0 L140.6 326.4 L141.0 330.7 L141.4 334.6 L141.8 338.2 L142.2 341.5 L142.6 344.3 L143.0 346.7 L143.4 348.7 L143.8 350.4 L144.1 351.7 L144.5 352.7 L144.9 353.5 L145.3 354.1 L145.7 354.7 L146.1 355.4 L146.5 356.0 L146.9 356.7 L147.3 357.3 L147.6 357.9 L148.0 358.5 L148.4 359.1 L148.8 359.6 L149.2 360.2 L149.6 360.7 L150.0 361.3 L150.4 361.8 L150.8 362.3 L151.2 362.8 L151.5 363.3 L151.9 363.8 L152.3 364.3 L152.7 364.8 L153.1 365.3 L153.5 365.8 L153.9 366.2 L154.3 366.7 L154.7 367.2 L155.0 367.7 L155.4 368.1 L155.8 368.6 L156.2 369.1 L156.6 369.5 L157.0 370.0 L157.4 370.5 L157.8 371.0 L158.2 371.5 L158.5 371.9 L158.9 372.4 L159.3 372.9 L159.7 373.4 L160.1 373.9 L160.5 374.4 L160.9 374.9 L161.3 375.5 L161.7 376.0 L162.1 376.5 L162.4 377.1 L162.8 377.6 L163.8 379.0 L164.8 380.5 L165.8 381.9 L166.7 383.4 L167.7 384.9 L168.7 386.4 L169.6 387.9 L170.6 389.4 L171.6 390.9 L172.6 392.4 L173.5 393.9 L174.5 395.4 L175.5 396.9 L176.5 398.4 L177.4 399.8 L178.4 401.3 L179.4 402.7 L180.4 404.1 L181.3 405.5 L182.3 406.8 L183.3 408.1 L184.2 409.4 L185.2 410.7 L186.2 411.9 L187.2 413.1 L188.1 414.2 L189.1 415.3 L190.1 416.4 L191.1 417.4 L192.0 418.4 L193.0 419.4 L194.0 420.4 L194.9 421.3 L195.9 422.2 L196.9 423.1 L197.9 424.0 L198.8 424.9 L199.8 425.8 L200.8 426.6 L201.8 427.5 L202.7 428.3 L203.7 429.1 L204.7 429.9 L205.7 430.7 L206.6 431.5 L207.6 432.2 L208.6 433.0 L209.5 433.7 L210.5 434.5 L211.5 435.2 L212.5 435.9 L213.4 436.6 L214.4 437.3 L215.4 438.0 L216.4 438.6 L217.3 439.3 L218.3 439.9 L219.3 440.6 L220.3 441.2 L221.2 441.8 L222.2 442.4 L223.2 443.0 L224.1 443.6 L225.1 444.2 L226.1 444.8 L227.1 445.3 L228.0 445.9 L229.0 446.5 L230.0 447.0 L231.0 447.5 L231.9 448.1 L232.9 448.6 L233.9 449.1 L234.9 449.6 L235.8 450.1 L236.8 450.6 L237.8 451.1 L238.7 451.5 L239.7 452.0 L240.7 452.5 L241.7 452.9 L242.6 453.4 L243.6 453.9 L244.6 454.3 L245.6 454.8 L246.5 455.3 L247.5 455.8 L248.5 456.3 L249.5 456.8 L250.4 457.2 L251.4 457.7 L252.4 458.2 L253.3 458.7 L254.3 459.2 L255.3 459.6 L256.3 460.1 L257.2 460.6 L258.2 461.0 L259.2 461.5 L260.2 461.9 L261.1 462.4 L262.1 462.8 L263.1 463.2 L264.1 463.6 L265.0 464.0 L266.0 464.4 L267.0 464.8 L267.9 465.1 L268.9 465.5 L269.9 465.8 L270.9 466.2 L271.8 466.5 L272.8 466.8 L273.8 467.1 L274.8 467.3 L275.7 467.6 L276.7 467.8 L277.7 468.1 L278.7 468.3 L279.6 468.5 L280.6 468.7 L281.6 468.8 L282.5 469.0 L283.5 469.1 L284.5 469.2 L285.5 469.3 L286.4 469.4 L287.4 469.4 L288.4 469.5 L289.4 469.5 L292.3 469.4 L295.2 469.4 L298.1 469.3 L301.0 469.1 L304.0 468.9 L306.9 468.7 L309.8 468.5 L312.7 468.2 L315.6 467.9 L318.6 467.6 L321.5 467.3 L324.4 466.9 L327.3 466.3 L330.2 465.7 L333.2 464.9 L336.1 464.1 L339.0 463.2 L341.9 462.3 L344.8 461.3 L347.8 460.2 L350.7 459.0 L353.6 457.6 L356.5 456.1 L359.4 454.4 L362.4 452.4 L365.3 449.6 L368.2 446.3 L371.1 443.1 L374.0 440.9 L377.0 439.5 L379.9 438.3 L382.8 437.5 L385.7 437.2 L388.6 437.9 L391.6 439.6 L394.5 441.6 L397.4 444.3 L400.3 447.1 L403.2 447.9 L406.2 448.2 L409.1 448.4 L412.0 448.6 L414.9 448.7 L417.8 449.0 L420.8 449.3 L423.7 449.8 L426.6 450.4 L429.5 451.1 L432.4 451.9 L435.4 452.7 L438.3 453.5 L441.2 454.4 L444.1 455.2 L447.0 456.1 L450.0 457.1 L452.9 458.1 L455.8 459.1 L458.7 460.2 L461.6 461.3 L464.6 462.4 L467.5 463.4 L470.4 464.4 L473.3 465.3 L476.2 466.3 L479.2 467.3 L482.1 468.3 L485.0 469.3 L487.9 470.2 L490.8 471.0 L493.8 471.7 L496.7 472.4 L499.6 472.8 L502.5 473.3 L505.4 473.7 L508.4 474.0 L511.3 474.3 L514.2 474.6 L517.1 474.9 L520.0 475.3 L523.0 475.6 L525.9 475.9 L528.8 476.2 L531.7 476.5 L534.6 476.9 L537.6 477.2 L540.5 477.5 L543.4 477.8 L546.3 478.1 L549.2 478.4 L552.2 478.7 L555.1 478.9 L558.0 479.2 L560.9 479.5 L563.8 479.8 L566.8 480.1 L569.7 480.3 L572.6 480.6 L575.5 480.9 L578.4 481.1 L581.3 481.4 L584.3 481.6 L587.2 481.9 L590.1 482.2 L593.0 482.5 L595.9 482.8 L598.9 483.1 L601.8 483.3 L604.7 483.5 L607.6 483.7 L610.5 483.8 L613.5 483.8 L616.4 483.9 L619.3 483.9 L622.2 484.0 L625.1 484.0 L628.1 484.1 L631.0 484.1 L633.9 484.1 L636.8 484.2 L639.7 484.2 L642.7 484.2 L645.6 484.3 L648.5 484.3 L651.4 484.3 L654.3 484.4 L657.3 484.4 L660.2 484.4 L663.1 484.4 L666.0 484.4 L668.9 484.4 L671.9 484.4 L674.8 484.4 L677.7 484.4"/>
<path d="M94.7 370.2 L95.1 369.9 L95.5 369.4 L95.9 368.6 L96.3 367.5 L96.6 368.4 L97.0 371.1 L97.4 373.8 L97.8 375.9 L98.2 363.1 L98.6 345.9 L99.0 329.1 L99.4 314.3 L99.8 302.1 L100.2 293.2 L100.5 288.0 L100.9 286.4 L101.3 289.5 L101.7 298.0 L102.1 308.4 L102.5 318.6 L102.9 326.9 L103.3 331.9 L103.7 332.3 L104.0 326.7 L104.4 314.9 L104.8 298.6 L105.2 280.3 L105.6 263.1 L106.0 251.1 L106.4 248.6 L106.8 253.6 L107.2 263.7 L107.5 276.3 L107.9 289.4 L108.3 301.2 L108.7 310.4 L109.1 315.7 L109.5 315.8 L109.9 310.7 L110.3 301.1 L110.7 288.2 L111.1 272.8 L111.4 256.3 L111.8 240.5 L112.2 227.4 L112.6 219.4 L113.0 219.0 L113.4 229.2 L113.8 248.7 L114.2 272.5 L114.6 296.7 L114.9 318.3 L115.3 335.3 L115.7 346.7 L116.1 351.3 L116.5 348.7 L116.9 340.8 L117.3 328.2 L117.7 311.2 L118.1 290.4 L118.4 266.7 L118.8 241.3 L119.2 216.3 L119.6 194.8 L120.0 182.1 L120.4 176.8 L120.8 181.2 L121.2 193.1 L121.6 212.6 L122.0 235.1 L122.3 256.7 L122.7 275.2 L123.1 289.1 L123.5 297.0 L123.9 298.4 L124.3 296.7 L124.7 292.6 L125.1 286.4 L125.5 278.5 L125.8 269.2 L126.2 259.0 L126.6 248.4 L127.0 237.9 L127.4 228.1 L127.8 219.9 L128.2 213.9 L128.6 211.1 L129.0 212.0 L129.3 216.4 L129.7 223.6 L130.1 232.8 L130.5 243.2 L130.9 254.3 L131.3 265.4 L131.7 276.1 L132.1 285.8 L132.5 294.4 L132.9 301.5 L133.2 306.8 L133.6 310.1 L134.0 310.9 L134.4 309.8 L134.8 307.7 L135.2 304.6 L135.6 300.4 L136.0 294.0 L136.4 287.2 L136.7 280.3 L137.1 273.4 L137.5 266.8 L137.9 260.6 L138.3 255.0 L138.7 250.2 L139.1 246.3 L139.5 243.5 L139.9 241.7 L140.3 241.0 L140.6 241.5 L141.0 243.0 L141.4 245.6 L141.8 248.9 L142.2 253.0 L142.6 257.7 L143.0 262.8 L143.4 268.1 L143.8 273.3 L144.1 278.1 L144.5 282.4 L144.9 286.0 L145.3 288.8 L145.7 290.2 L146.1 291.6 L146.5 293.0 L146.9 294.4 L147.3 295.9 L147.6 297.4 L148.0 298.9 L148.4 300.4 L148.8 301.9 L149.2 303.4 L149.6 305.0 L150.0 306.5 L150.4 308.1 L150.8 309.6 L151.2 311.1 L151.5 312.7 L151.9 314.2 L152.3 315.8 L152.7 317.3 L153.1 318.8 L153.5 320.3 L153.9 321.8 L154.3 323.3 L154.7 324.7 L155.0 326.2 L155.4 327.6 L155.8 329.1 L156.2 330.5 L156.6 331.8 L157.0 333.2 L157.4 334.5 L157.8 335.8 L158.2 337.1 L158.5 338.4 L158.9 339.6 L159.3 340.8 L159.7 342.0 L160.1 343.2 L160.5 344.3 L160.9 345.4 L161.3 346.5 L161.7 347.5 L162.1 348.5 L162.4 349.5 L162.8 350.4 L163.8 352.7 L164.8 354.8 L165.8 357.0 L166.7 359.0 L167.7 361.0 L168.7 363.0 L169.6 364.9 L170.6 366.7 L171.6 368.5 L172.6 370.2 L173.5 371.9 L174.5 373.6 L175.5 375.2 L176.5 376.8 L177.4 378.3 L178.4 379.8 L179.4 381.3 L180.4 382.7 L181.3 384.1 L182.3 385.5 L183.3 386.9 L184.2 388.2 L185.2 389.5 L186.2 390.8 L187.2 392.0 L188.1 393.3 L189.1 394.5 L190.1 395.7 L191.1 396.9 L192.0 398.0 L193.0 399.2 L194.0 400.3 L194.9 401.4 L195.9 402.5 L196.9 403.6 L197.9 404.6 L198.8 405.6 L199.8 406.7 L200.8 407.7 L201.8 408.6 L202.7 409.6 L203.7 410.6 L204.7 411.5 L205.7 412.4 L206.6 413.3 L207.6 414.2 L208.6 415.1 L209.5 416.0 L210.5 416.8 L211.5 417.7 L212.5 418.5 L213.4 419.3 L214.4 420.1 L215.4 420.9 L216.4 421.7 L217.3 422.5 L218.3 423.3 L219.3 424.0 L220.3 424.8 L221.2 425.5 L222.2 426.3 L223.2 427.0 L224.1 427.7 L225.1 428.4 L226.1 429.1 L227.1 429.8 L228.0 430.5 L229.0 431.2 L230.0 431.8 L231.0 432.5 L231.9 433.2 L232.9 433.8 L233.9 434.5 L234.9 435.1 L235.8 435.7 L236.8 436.4 L237.8 437.0 L238.7 437.6 L239.7 438.2 L240.7 438.9 L241.7 439.5 L242.6 440.1 L243.6 440.7 L244.6 441.2 L245.6 441.8 L246.5 442.4 L247.5 443.0 L248.5 443.5 L249.5 444.1 L250.4 444.7 L251.4 445.2 L252.4 445.8 L253.3 446.3 L254.3 446.8 L255.3 447.4 L256.3 447.9 L257.2 448.4 L258.2 448.9 L259.2 449.4 L260.2 449.9 L261.1 450.4 L262.1 450.9 L263.1 451.4 L264.1 451.9 L265.0 452.4 L266.0 452.9 L267.0 453.3 L267.9 453.8 L268.9 454.2 L269.9 454.7 L270.9 455.1 L271.8 455.6 L272.8 456.0 L273.8 456.5 L274.8 456.9 L275.7 457.3 L276.7 457.7 L277.7 458.1 L278.7 458.5 L279.6 458.9 L280.6 459.3 L281.6 459.7 L282.5 460.1 L283.5 460.5 L284.5 460.9 L285.5 461.2 L286.4 461.6 L287.4 462.0 L288.4 462.3 L289.4 462.7 L292.3 463.7 L295.2 464.7 L298.1 465.7 L301.0 466.7 L304.0 467.6 L306.9 468.5 L309.8 469.4 L312.7 470.3 L315.6 471.1 L318.6 471.9 L321.5 472.6 L324.4 473.3 L327.3 474.0 L330.2 474.7 L333.2 475.3 L336.1 475.9 L339.0 476.5 L341.9 477.0 L344.8 477.5 L347.8 478.0 L350.7 478.5 L353.6 478.9 L356.5 479.4 L359.4 479.8 L362.4 480.2 L365.3 480.6 L368.2 481.0 L371.1 481.4 L374.0 481.7 L377.0 482.1 L379.9 482.4 L382.8 482.7 L385.7 483.0 L388.6 483.3 L391.6 483.5 L394.5 483.8 L397.4 484.0 L400.3 484.3 L403.2 484.5 L406.2 484.7 L409.1 484.9 L412.0 485.1 L414.9 485.3 L417.8 485.5 L420.8 485.7 L423.7 485.9 L426.6 486.0 L429.5 486.2 L432.4 486.3 L435.4 486.5 L438.3 486.6 L441.2 486.8 L444.1 486.9 L447.0 487.0 L450.0 487.2 L452.9 487.3 L455.8 487.4 L458.7 487.6 L461.6 487.7 L464.6 487.8 L467.5 487.9 L470.4 488.1 L473.3 488.2 L476.2 488.3 L479.2 488.4 L482.1 488.5 L485.0 488.6 L487.9 488.7 L490.8 488.8 L493.8 488.9 L496.7 489.0 L499.6 489.1 L502.5 489.1 L505.4 489.2 L508.4 489.3 L511.3 489.3 L514.2 489.4 L517.1 489.5 L520.0 489.5 L523.0 489.5 L525.9 489.6 L528.8 489.6 L531.7 489.6 L534.6 489.6 L537.6 489.7 L540.5 489.7 L543.4 489.7 L546.3 489.7 L549.2 489.7 L552.2 489.8 L555.1 489.8 L558.0 489.8 L560.9 489.9 L563.8 490.0 L566.8 490.4 L569.7 491.1 L572.6 492.0 L575.5 492.9 L578.4 493.8 L581.3 494.6 L584.3 495.3 L587.2 495.7 L590.1 496.0 L593.0 496.0 L595.9 495.9 L598.9 495.7 L601.8 495.5 L604.7 495.2 L607.6 494.9 L610.5 494.5 L613.5 494.2 L616.4 493.8 L619.3 493.5 L622.2 493.3 L625.1 493.1 L628.1 493.0 L631.0 492.9 L633.9 492.9 L636.8 492.9 L639.7 493.0 L642.7 493.0 L645.6 493.0 L648.5 493.0 L651.4 493.0 L654.3 493.1 L657.3 493.2 L660.2 493.2 L663.1 493.3 L666.0 493.4 L668.9 493.5 L671.9 493.7 L674.8 493.8 L677.7 494.0"/>
<path d="M94.7 341.8 L95.1 340.6 L95.5 339.4 L95.9 338.3 L96.3 337.1 L96.6 339.5 L97.0 345.3 L97.4 351.0 L97.8 347.6 L98.2 321.2 L98.6 289.6 L99.0 267.7 L99.4 256.1 L99.8 255.1 L100.2 263.4 L100.5 278.1 L100.9 296.2 L101.3 314.9 L101.7 331.3 L102.1 343.0 L102.5 348.6 L102.9 347.0 L103.3 340.2 L103.7 329.3 L104.0 315.1 L104.4 298.5 L104.8 280.8 L105.2 263.7 L105.6 249.5 L106.0 240.7 L106.4 239.3 L106.8 244.2 L107.2 253.5 L107.5 265.3 L107.9 278.0 L108.3 290.0 L108.7 300.1 L109.1 307.3 L109.5 310.6 L109.9 308.6 L110.3 301.0 L110.7 289.2 L111.1 275.0 L111.4 260.3 L111.8 247.7 L112.2 240.1 L112.6 240.0 L113.0 246.4 L113.4 257.2 L113.8 270.3 L114.2 284.1 L114.6 297.1 L114.9 308.1 L115.3 316.2 L115.7 320.6 L116.1 320.5 L116.5 316.9 L116.9 310.4 L117.3 301.6 L117.7 290.9 L118.1 278.9 L118.4 266.4 L118.8 254.2 L119.2 243.6 L119.6 235.6 L120.0 231.5 L120.4 232.2 L120.8 236.9 L121.2 244.6 L121.6 254.4 L122.0 265.3 L122.3 276.5 L122.7 287.2 L123.1 296.9 L123.5 305.0 L123.9 311.2 L124.3 315.0 L124.7 315.9 L125.1 314.2 L125.5 310.3 L125.8 304.5 L126.2 297.0 L126.6 288.0 L127.0 278.1 L127.4 267.4 L127.8 256.4 L128.2 245.6 L128.6 235.7 L129.0 227.3 L129.3 221.2 L129.7 218.0 L130.1 217.7 L130.5 218.6 L130.9 220.8 L131.3 223.9 L131.7 227.9 L132.1 232.7 L132.5 238.4 L132.9 244.7 L133.2 251.4 L133.6 258.3 L134.0 265.3 L134.4 272.2 L134.8 278.9 L135.2 285.2 L135.6 290.9 L136.0 295.4 L136.4 298.9 L136.7 301.7 L137.1 303.6 L137.5 304.8 L137.9 304.7 L138.3 303.8 L138.7 302.3 L139.1 300.6 L139.5 298.8 L139.9 297.1 L140.3 295.8 L140.6 295.0 L141.0 294.8 L141.4 295.2 L141.8 296.3 L142.2 298.0 L142.6 300.2 L143.0 302.8 L143.4 305.6 L143.8 308.6 L144.1 311.6 L144.5 314.5 L144.9 317.1 L145.3 319.2 L145.7 319.7 L146.1 320.2 L146.5 320.7 L146.9 321.2 L147.3 321.6 L147.6 322.1 L148.0 322.5 L148.4 322.9 L148.8 323.3 L149.2 323.7 L149.6 324.1 L150.0 324.4 L150.4 324.8 L150.8 325.1 L151.2 325.4 L151.5 325.8 L151.9 326.1 L152.3 326.4 L152.7 326.7 L153.1 327.0 L153.5 327.2 L153.9 327.5 L154.3 327.8 L154.7 328.1 L155.0 328.3 L155.4 328.6 L155.8 328.8 L156.2 329.1 L156.6 329.3 L157.0 329.6 L157.4 329.8 L157.8 330.1 L158.2 330.3 L158.5 330.6 L158.9 330.8 L159.3 331.1 L159.7 331.3 L160.1 331.6 L160.5 331.8 L160.9 332.1 L161.3 332.3 L161.7 332.6 L162.1 332.8 L162.4 333.1 L162.8 333.4 L163.8 334.1 L164.8 334.7 L165.8 335.4 L166.7 336.0 L167.7 336.6 L168.7 337.1 L169.6 337.7 L170.6 338.2 L171.6 338.8 L172.6 339.3 L173.5 339.8 L174.5 340.3 L175.5 340.8 L176.5 341.3 L177.4 341.8 L178.4 342.3 L179.4 342.8 L180.4 343.4 L181.3 343.9 L182.3 344.4 L183.3 344.9 L184.2 345.5 L185.2 346.0 L186.2 346.6 L187.2 347.2 L188.1 347.8 L189.1 348.4 L190.1 349.0 L191.1 349.7 L192.0 350.4 L193.0 351.1 L194.0 351.9 L194.9 352.6 L195.9 353.4 L196.9 354.2 L197.9 355.1 L198.8 355.9 L199.8 356.8 L200.8 357.7 L201.8 358.6 L202.7 359.5 L203.7 360.4 L204.7 361.4 L205.7 362.3 L206.6 363.3 L207.6 364.2 L208.6 365.2 L209.5 366.2 L210.5 367.1 L211.5 368.1 L212.5 369.1 L213.4 370.1 L214.4 371.0 L215.4 372.0 L216.4 372.9 L217.3 373.9 L218.3 374.8 L219.3 375.8 L220.3 376.7 L221.2 377.6 L222.2 378.5 L223.2 379.4 L224.1 380.4 L225.1 381.3 L226.1 382.2 L227.1 383.1 L228.0 384.1 L229.0 385.0 L230.0 385.9 L231.0 386.8 L231.9 387.8 L232.9 388.7 L233.9 389.6 L234.9 390.5 L235.8 391.5 L236.8 392.4 L237.8 393.3 L238.7 394.2 L239.7 395.1 L240.7 396.0 L241.7 396.9 L242.6 397.8 L243.6 398.7 L244.6 399.6 L245.6 400.5 L246.5 401.4 L247.5 402.3 L248.5 403.1 L249.5 404.0 L250.4 404.8 L251.4 405.7 L252.4 406.6 L253.3 407.5 L254.3 408.4 L255.3 409.3 L256.3 410.3 L257.2 411.2 L258.2 412.1 L259.2 413.1 L260.2 414.0 L261.1 415.0 L262.1 415.9 L263.1 416.8 L264.1 417.7 L265.0 418.6 L266.0 419.4 L267.0 420.3 L267.9 421.1 L268.9 421.9 L269.9 422.7 L270.9 423.4 L271.8 424.2 L272.8 424.9 L273.8 425.5 L274.8 426.1 L275.7 426.7 L276.7 427.3 L277.7 427.8 L278.7 428.2 L279.6 428.6 L280.6 429.0 L281.6 429.4 L282.5 429.8 L283.5 430.2 L284.5 430.6 L285.5 431.0 L286.4 431.4 L287.4 431.8 L288.4 432.1 L289.4 432.5 L292.3 433.5 L295.2 434.3 L298.1 434.9 L301.0 435.3 L304.0 435.5 L306.9 435.2 L309.8 434.6 L312.7 433.8 L315.6 433.0 L318.6 432.1 L321.5 430.9 L324.4 429.7 L327.3 428.8 L330.2 428.7 L333.2 430.0 L336.1 432.2 L339.0 435.0 L341.9 437.8 L344.8 441.5 L347.8 445.9 L350.7 450.4 L353.6 454.6 L356.5 458.2 L359.4 461.2 L362.4 463.8 L365.3 466.3 L368.2 468.7 L371.1 470.8 L374.0 472.8 L377.0 474.7 L379.9 476.3 L382.8 477.9 L385.7 479.2 L388.6 480.5 L391.6 481.7 L394.5 482.8 L397.4 483.9 L400.3 484.8 L403.2 485.8 L406.2 486.7 L409.1 487.5 L412.0 488.3 L414.9 489.0 L417.8 489.7 L420.8 490.4 L423.7 491.1 L426.6 491.7 L429.5 492.2 L432.4 492.8 L435.4 493.3 L438.3 493.8 L441.2 494.2 L444.1 494.7 L447.0 495.1 L450.0 495.6 L452.9 496.0 L455.8 496.4 L458.7 496.7 L461.6 497.1 L464.6 497.5 L467.5 497.8 L470.4 498.1 L473.3 498.5 L476.2 498.8 L479.2 499.1 L482.1 499.4 L485.0 499.6 L487.9 499.9 L490.8 500.2 L493.8 500.5 L496.7 500.7 L499.6 501.0 L502.5 501.2 L505.4 501.5 L508.4 501.7 L511.3 501.9 L514.2 502.1 L517.1 502.4 L520.0 502.6 L523.0 502.8 L525.9 503.0 L528.8 503.2 L531.7 503.4 L534.6 503.6 L537.6 503.8 L540.5 504.0 L543.4 504.2 L546.3 504.4 L549.2 504.6 L552.2 504.8 L555.1 505.0 L558.0 505.1 L560.9 505.3 L563.8 505.5 L566.8 505.7 L569.7 505.8 L572.6 506.0 L575.5 506.1 L578.4 506.3 L581.3 506.5 L584.3 506.6 L587.2 506.8 L590.1 506.9 L593.0 507.1 L595.9 507.2 L598.9 507.3 L601.8 507.5 L604.7 507.6 L607.6 507.7 L610.5 507.9 L613.5 508.0 L616.4 508.1 L619.3 508.3 L622.2 508.4 L625.1 508.5 L628.1 508.6 L631.0 508.7 L633.9 508.8 L636.8 508.9 L639.7 509.1 L642.7 509.2 L645.6 509.3 L648.5 509.4 L651.4 509.5 L654.3 509.6 L657.3 509.7 L660.2 509.7 L663.1 509.8 L666.0 509.9 L668.9 510.0 L671.9 510.1 L674.8 510.2 L677.7 510.3"/>
<path d="M94.7 338.5 L95.1 336.2 L95.5 334.2 L95.9 332.6 L96.3 331.3 L96.6 326.2 L97.0 316.9 L97.4 320.1 L97.8 331.4 L98.2 345.3 L98.6 358.5 L99.0 365.4 L99.4 368.8 L99.8 369.3 L100.2 367.6 L100.5 364.5 L100.9 359.9 L101.3 353.9 L101.7 346.9 L102.1 339.7 L102.5 332.7 L102.9 327.0 L103.3 323.5 L103.7 322.9 L104.0 324.9 L104.4 328.7 L104.8 333.8 L105.2 339.4 L105.6 345.0 L106.0 349.9 L106.4 353.7 L106.8 356.0 L107.2 356.4 L107.5 353.9 L107.9 348.1 L108.3 340.1 L108.7 331.4 L109.1 323.5 L109.5 318.4 L109.9 317.6 L110.3 321.8 L110.7 329.0 L111.1 336.9 L111.4 343.6 L111.8 347.4 L112.2 346.7 L112.6 339.8 L113.0 327.5 L113.4 311.6 L113.8 294.9 L114.2 280.8 L114.6 273.6 L114.9 276.5 L115.3 284.5 L115.7 296.1 L116.1 309.7 L116.5 324.0 L116.9 337.9 L117.3 350.5 L117.7 361.3 L118.1 369.8 L118.4 375.6 L118.8 378.4 L119.2 377.7 L119.6 373.4 L120.0 366.3 L120.4 356.8 L120.8 345.8 L121.2 334.0 L121.6 322.8 L122.0 313.6 L122.3 308.0 L122.7 307.2 L123.1 308.2 L123.5 310.6 L123.9 313.7 L124.3 318.0 L124.7 323.7 L125.1 330.2 L125.5 337.0 L125.8 343.8 L126.2 350.4 L126.6 356.4 L127.0 361.8 L127.4 366.6 L127.8 370.6 L128.2 374.1 L128.6 377.0 L129.0 379.6 L129.3 381.9 L129.7 383.8 L130.1 385.8 L130.5 388.2 L130.9 391.0 L131.3 394.0 L131.7 397.3 L132.1 400.1 L132.5 402.6 L132.9 404.9 L133.2 406.7 L133.6 408.2 L134.0 409.5 L134.4 410.6 L134.8 411.6 L135.2 412.6 L135.6 413.5 L136.0 414.3 L136.4 415.0 L136.7 415.7 L137.1 416.4 L137.5 417.0 L137.9 417.6 L138.3 418.2 L138.7 418.7 L139.1 419.2 L139.5 419.7 L139.9 420.2 L140.3 420.7 L140.6 421.1 L141.0 421.5 L141.4 421.9 L141.8 422.3 L142.2 422.7 L142.6 423.1 L143.0 423.4 L143.4 423.8 L143.8 424.1 L144.1 424.5 L144.5 424.9 L144.9 425.2 L145.3 425.6 L145.7 425.9 L146.1 426.3 L146.5 426.6 L146.9 427.0 L147.3 427.3 L147.6 427.6 L148.0 428.0 L148.4 428.3 L148.8 428.6 L149.2 428.9 L149.6 429.2 L150.0 429.5 L150.4 429.8 L150.8 430.1 L151.2 430.4 L151.5 430.7 L151.9 431.0 L152.3 431.3 L152.7 431.6 L153.1 431.9 L153.5 432.2 L153.9 432.5 L154.3 432.9 L154.7 433.2 L155.0 433.6 L155.4 433.9 L155.8 434.3 L156.2 434.7 L156.6 435.1 L157.0 435.4 L157.4 435.9 L157.8 436.3 L158.2 436.8 L158.5 437.2 L158.9 437.8 L159.3 438.3 L159.7 438.8 L160.1 439.4 L160.5 439.9 L160.9 440.5 L161.3 441.1 L161.7 441.7 L162.1 442.3 L162.4 442.9 L162.8 443.6 L163.8 445.2 L164.8 446.8 L165.8 448.4 L166.7 450.0 L167.7 451.6 L168.7 453.2 L169.6 454.7 L170.6 456.1 L171.6 457.5 L172.6 458.9 L173.5 460.1 L174.5 461.3 L175.5 462.4 L176.5 463.4 L177.4 464.3 L178.4 465.1 L179.4 465.7 L180.4 466.3 L181.3 466.8 L182.3 467.3 L183.3 467.7 L184.2 468.1 L185.2 468.5 L186.2 468.8 L187.2 469.2 L188.1 469.5 L189.1 469.8 L190.1 470.1 L191.1 470.3 L192.0 470.6 L193.0 470.9 L194.0 471.1 L194.9 471.4 L195.9 471.7 L196.9 471.9 L197.9 472.2 L198.8 472.5 L199.8 472.8 L200.8 473.1 L201.8 473.5 L202.7 473.8 L203.7 474.2 L204.7 474.6 L205.7 475.0 L206.6 475.4 L207.6 475.8 L208.6 476.3 L209.5 476.7 L210.5 477.2 L211.5 477.6 L212.5 478.1 L213.4 478.6 L214.4 479.1 L215.4 479.6 L216.4 480.1 L217.3 480.6 L218.3 481.1 L219.3 481.6 L220.3 482.1 L221.2 482.6 L222.2 483.1 L223.2 483.6 L224.1 484.1 L225.1 484.6 L226.1 485.2 L227.1 485.7 L228.0 486.2 L229.0 486.7 L230.0 487.2 L231.0 487.7 L231.9 488.2 L232.9 488.7 L233.9 489.2 L234.9 489.7 L235.8 490.1 L236.8 490.6 L237.8 491.1 L238.7 491.6 L239.7 492.0 L240.7 492.5 L241.7 492.9 L242.6 493.4 L243.6 493.9 L244.6 494.4 L245.6 494.9 L246.5 495.4 L247.5 495.9 L248.5 496.4 L249.5 497.0 L250.4 497.5 L251.4 498.0 L252.4 498.5 L253.3 499.0 L254.3 499.5 L255.3 500.0 L256.3 500.4 L257.2 500.8 L258.2 501.3 L259.2 501.7 L260.2 502.1 L261.1 502.4 L262.1 502.8 L263.1 503.1 L264.1 503.4 L265.0 503.7 L266.0 503.9 L267.0 504.2 L267.9 504.4 L268.9 504.6 L269.9 504.8 L270.9 505.0 L271.8 505.2 L272.8 505.3 L273.8 505.5 L274.8 505.7 L275.7 505.8 L276.7 506.0 L277.7 506.2 L278.7 506.3 L279.6 506.4 L280.6 506.6 L281.6 506.7 L282.5 506.8 L283.5 507.0 L284.5 507.1 L285.5 507.2 L286.4 507.3 L287.4 507.4 L288.4 507.6 L289.4 507.7 L292.3 508.0 L295.2 508.3 L298.1 508.6 L301.0 509.0 L304.0 509.3 L306.9 509.6 L309.8 509.9 L312.7 510.2 L315.6 510.5 L318.6 510.8 L321.5 511.1 L324.4 511.4 L327.3 511.7 L330.2 511.9 L333.2 512.2 L336.1 512.4 L339.0 512.7 L341.9 512.9 L344.8 513.1 L347.8 513.3 L350.7 513.5 L353.6 513.7 L356.5 513.9 L359.4 514.1 L362.4 514.3 L365.3 514.4 L368.2 514.6 L371.1 514.7 L374.0 514.9 L377.0 515.0 L379.9 515.1 L382.8 515.3 L385.7 515.4 L388.6 515.5 L391.6 515.6 L394.5 515.7 L397.4 515.7 L400.3 515.8 L403.2 515.9 L406.2 516.0 L409.1 516.1 L412.0 516.1 L414.9 516.2 L417.8 516.3 L420.8 516.3 L423.7 516.4 L426.6 516.5 L429.5 516.5 L432.4 516.6 L435.4 516.6 L438.3 516.7 L441.2 516.8 L444.1 516.8 L447.0 516.9 L450.0 516.9 L452.9 517.0 L455.8 517.0 L458.7 517.1 L461.6 517.1 L464.6 517.1 L467.5 517.2 L470.4 517.2 L473.3 517.3 L476.2 517.3 L479.2 517.4 L482.1 517.4 L485.0 517.5 L487.9 517.5 L490.8 517.5 L493.8 517.6 L496.7 517.6 L499.6 517.7 L502.5 517.7 L505.4 517.7 L508.4 517.8 L511.3 517.8 L514.2 517.8 L517.1 517.9 L520.0 517.9 L523.0 517.9 L525.9 518.0 L528.8 518.0 L531.7 518.0 L534.6 518.1 L537.6 518.1 L540.5 518.1 L543.4 518.2 L546.3 518.2 L549.2 518.2 L552.2 518.3 L555.1 518.3 L558.0 518.3 L560.9 518.3 L563.8 518.4 L566.8 518.4 L569.7 518.4 L572.6 518.4 L575.5 518.5 L578.4 518.5 L581.3 518.5 L584.3 518.5 L587.2 518.6 L590.1 518.6 L593.0 518.6 L595.9 518.6 L598.9 518.7 L601.8 518.7 L604.7 518.7 L607.6 518.7 L610.5 518.7 L613.5 518.8 L616.4 518.8 L619.3 518.8 L622.2 518.8 L625.1 518.8 L628.1 518.9 L631.0 518.9 L633.9 518.9 L636.8 518.9 L639.7 518.9 L642.7 519.0 L645.6 519.0 L648.5 519.0 L651.4 519.0 L654.3 519.0 L657.3 519.0 L660.2 519.0 L663.1 519.1 L666.0 519.1 L668.9 519.1 L671.9 519.1 L674.8 519.1 L677.7 519.1"/>
<path d="M94.7 395.1 L95.1 394.9 L95.5 394.5 L95.9 393.8 L96.3 392.9 L96.6 393.6 L97.0 395.9 L97.4 388.4 L97.8 375.5 L98.2 358.6 L98.6 339.6 L99.0 329.3 L99.4 322.9 L99.8 320.7 L100.2 322.2 L100.5 326.5 L100.9 333.0 L101.3 340.7 L101.7 348.7 L102.1 355.5 L102.5 360.3 L102.9 362.1 L103.3 359.8 L103.7 353.3 L104.0 343.3 L104.4 330.5 L104.8 315.6 L105.2 300.0 L105.6 285.1 L106.0 272.9 L106.4 265.5 L106.8 265.7 L107.2 276.0 L107.5 292.4 L107.9 310.9 L108.3 328.1 L108.7 341.8 L109.1 350.3 L109.5 351.9 L109.9 346.2 L110.3 334.5 L110.7 318.4 L111.1 299.9 L111.4 281.5 L111.8 267.2 L112.2 261.1 L112.6 264.8 L113.0 275.3 L113.4 289.6 L113.8 305.2 L114.2 319.7 L114.6 331.7 L114.9 339.8 L115.3 342.9 L115.7 341.1 L116.1 336.3 L116.5 328.9 L116.9 319.4 L117.3 308.1 L117.7 295.7 L118.1 282.8 L118.4 270.4 L118.8 259.5 L119.2 251.4 L119.6 247.3 L120.0 248.5 L120.4 256.8 L120.8 270.2 L121.2 286.6 L121.6 303.8 L122.0 320.1 L122.3 334.5 L122.7 345.9 L123.1 353.9 L123.5 357.6 L123.9 357.0 L124.3 354.2 L124.7 349.4 L125.1 342.8 L125.5 334.6 L125.8 324.8 L126.2 313.7 L126.6 301.3 L127.0 288.0 L127.4 274.0 L127.8 259.9 L128.2 246.1 L128.6 233.2 L129.0 222.0 L129.3 213.1 L129.7 207.4 L130.1 205.4 L130.5 206.1 L130.9 209.0 L131.3 213.8 L131.7 220.2 L132.1 227.9 L132.5 236.7 L132.9 246.1 L133.2 255.9 L133.6 265.9 L134.0 275.7 L134.4 285.1 L134.8 294.0 L135.2 302.2 L135.6 309.6 L136.0 315.3 L136.4 319.6 L136.7 322.6 L137.1 324.3 L137.5 324.8 L137.9 323.9 L138.3 321.8 L138.7 319.1 L139.1 315.9 L139.5 312.5 L139.9 309.3 L140.3 306.3 L140.6 303.8 L141.0 301.8 L141.4 300.6 L141.8 300.1 L142.2 300.3 L142.6 301.1 L143.0 302.4 L143.4 304.0 L143.8 305.5 L144.1 306.8 L144.5 307.9 L144.9 308.6 L145.3 308.8 L145.7 308.5 L146.1 308.1 L146.5 307.7 L146.9 307.2 L147.3 306.7 L147.6 306.1 L148.0 305.5 L148.4 304.9 L148.8 304.3 L149.2 303.6 L149.6 302.9 L150.0 302.2 L150.4 301.4 L150.8 300.7 L151.2 299.9 L151.5 299.1 L151.9 298.3 L152.3 297.5 L152.7 296.7 L153.1 296.0 L153.5 295.2 L153.9 294.3 L154.3 293.3 L154.7 292.3 L155.0 291.3 L155.4 290.2 L155.8 289.0 L156.2 287.8 L156.6 286.5 L157.0 285.2 L157.4 283.8 L157.8 282.4 L158.2 281.0 L158.5 279.5 L158.9 278.0 L159.3 276.5 L159.7 274.9 L160.1 273.4 L160.5 271.8 L160.9 270.1 L161.3 268.5 L161.7 266.9 L162.1 265.2 L162.4 263.6 L162.8 261.9 L163.8 257.5 L164.8 252.4 L165.8 247.2 L166.7 242.3 L167.7 238.1 L168.7 234.2 L169.6 230.4 L170.6 227.8 L171.6 227.5 L172.6 229.9 L173.5 233.9 L174.5 238.2 L175.5 241.5 L176.5 243.9 L177.4 246.0 L178.4 247.9 L179.4 249.7 L180.4 251.5 L181.3 253.3 L182.3 255.1 L183.3 257.1 L184.2 259.0 L185.2 261.0 L186.2 262.9 L187.2 264.8 L188.1 266.6 L189.1 268.4 L190.1 270.1 L191.1 271.8 L192.0 273.4 L193.0 275.0 L194.0 276.6 L194.9 278.2 L195.9 279.7 L196.9 281.1 L197.9 282.5 L198.8 283.8 L199.8 285.0 L200.8 286.1 L201.8 287.1 L202.7 288.0 L203.7 288.8 L204.7 289.6 L205.7 290.3 L206.6 291.0 L207.6 291.7 L208.6 292.3 L209.5 293.0 L210.5 293.6 L211.5 294.2 L212.5 294.9 L213.4 295.5 L214.4 296.2 L215.4 296.9 L216.4 297.7 L217.3 298.4 L218.3 299.2 L219.3 299.9 L220.3 300.7 L221.2 301.4 L222.2 302.2 L223.2 303.0 L224.1 303.9 L225.1 304.8 L226.1 305.7 L227.1 306.8 L228.0 307.9 L229.0 309.1 L230.0 310.5 L231.0 312.1 L231.9 313.9 L232.9 315.7 L233.9 317.6 L234.9 319.6 L235.8 321.5 L236.8 323.5 L237.8 325.6 L238.7 327.7 L239.7 329.9 L240.7 332.2 L241.7 334.4 L242.6 336.7 L243.6 338.8 L244.6 341.0 L245.6 343.1 L246.5 345.2 L247.5 347.3 L248.5 349.4 L249.5 351.6 L250.4 353.6 L251.4 355.7 L252.4 357.8 L253.3 359.8 L254.3 361.7 L255.3 363.6 L256.3 365.5 L257.2 367.3 L258.2 369.0 L259.2 370.7 L260.2 372.2 L261.1 373.8 L262.1 375.2 L263.1 376.6 L264.1 378.0 L265.0 379.3 L266.0 380.5 L267.0 381.8 L267.9 383.0 L268.9 384.1 L269.9 385.3 L270.9 386.4 L271.8 387.5 L272.8 388.6 L273.8 389.6 L274.8 390.7 L275.7 391.7 L276.7 392.8 L277.7 393.8 L278.7 394.9 L279.6 396.0 L280.6 397.0 L281.6 398.1 L282.5 399.2 L283.5 400.3 L284.5 401.4 L285.5 402.5 L286.4 403.7 L287.4 404.8 L288.4 406.0 L289.4 407.2 L292.3 410.9 L295.2 414.7 L298.1 418.4 L301.0 422.2 L304.0 425.8 L306.9 429.4 L309.8 432.9 L312.7 436.2 L315.6 439.3 L318.6 442.3 L321.5 445.1 L324.4 447.8 L327.3 450.4 L330.2 452.9 L333.2 455.3 L336.1 457.6 L339.0 459.9 L341.9 462.0 L344.8 464.1 L347.8 466.1 L350.7 468.0 L353.6 469.9 L356.5 471.8 L359.4 473.7 L362.4 475.5 L365.3 477.2 L368.2 478.8 L371.1 480.3 L374.0 481.7 L377.0 483.0 L379.9 484.2 L382.8 485.2 L385.7 486.2 L388.6 487.0 L391.6 487.8 L394.5 488.6 L397.4 489.3 L400.3 490.0 L403.2 490.7 L406.2 491.3 L409.1 491.9 L412.0 492.5 L414.9 493.0 L417.8 493.6 L420.8 494.1 L423.7 494.6 L426.6 495.0 L429.5 495.5 L432.4 495.9 L435.4 496.3 L438.3 496.7 L441.2 497.1 L444.1 497.5 L447.0 497.9 L450.0 498.2 L452.9 498.6 L455.8 498.9 L458.7 499.2 L461.6 499.6 L464.6 499.9 L467.5 500.2 L470.4 500.5 L473.3 500.8 L476.2 501.0 L479.2 501.3 L482.1 501.6 L485.0 501.9 L487.9 502.1 L490.8 502.4 L493.8 502.7 L496.7 502.9 L499.6 503.2 L502.5 503.4 L505.4 503.7 L508.4 503.9 L511.3 504.1 L514.2 504.4 L517.1 504.6 L520.0 504.8 L523.0 505.0 L525.9 505.2 L528.8 505.4 L531.7 505.7 L534.6 505.9 L537.6 506.0 L540.5 506.2 L543.4 506.4 L546.3 506.6 L549.2 506.8 L552.2 507.0 L555.1 507.2 L558.0 507.3 L560.9 507.5 L563.8 507.7 L566.8 507.8 L569.7 508.0 L572.6 508.1 L575.5 508.3 L578.4 508.4 L581.3 508.6 L584.3 508.7 L587.2 508.9 L590.1 509.0 L593.0 509.1 L595.9 509.3 L598.9 509.4 L601.8 509.5 L604.7 509.7 L607.6 509.8 L610.5 509.9 L613.5 510.0 L616.4 510.1 L619.3 510.2 L622.2 510.3 L625.1 510.4 L628.1 510.5 L631.0 510.6 L633.9 510.7 L636.8 510.8 L639.7 510.9 L642.7 511.0 L645.6 511.1 L648.5 511.2 L651.4 511.3 L654.3 511.4 L657.3 511.5 L660.2 511.5 L663.1 511.6 L666.0 511.7 L668.9 511.8 L671.9 511.8 L674.8 511.9 L677.7 512.0"/>
<path d="M94.7 385.7 L95.1 385.6 L95.5 385.1 L95.9 384.4 L96.3 383.5 L96.6 384.9 L97.0 388.5 L97.4 384.5 L97.8 374.8 L98.2 359.8 L98.6 340.7 L99.0 324.9 L99.4 310.5 L99.8 298.4 L100.2 289.3 L100.5 283.8 L100.9 282.1 L101.3 285.9 L101.7 293.6 L102.1 303.4 L102.5 314.1 L102.9 323.9 L103.3 330.8 L103.7 334.3 L104.0 333.5 L104.4 327.5 L104.8 313.6 L105.2 292.0 L105.6 263.6 L106.0 230.0 L106.4 194.5 L106.8 167.0 L107.2 145.7 L107.5 136.1 L107.9 144.0 L108.3 165.9 L108.7 194.3 L109.1 229.0 L109.5 259.2 L109.9 280.4 L110.3 290.4 L110.7 287.5 L111.1 273.5 L111.4 252.1 L111.8 227.4 L112.2 205.3 L112.6 194.1 L113.0 197.7 L113.4 214.5 L113.8 237.0 L114.2 259.1 L114.6 276.4 L114.9 285.5 L115.3 283.6 L115.7 270.9 L116.1 250.0 L116.5 223.6 L116.9 196.0 L117.3 177.0 L117.7 166.9 L118.1 169.1 L118.4 178.0 L118.8 191.4 L119.2 209.6 L119.6 229.9 L120.0 249.0 L120.4 265.7 L120.8 278.7 L121.2 287.4 L121.6 290.7 L122.0 288.4 L122.3 281.7 L122.7 271.3 L123.1 257.6 L123.5 241.3 L123.9 223.0 L124.3 203.7 L124.7 187.3 L125.1 173.5 L125.5 162.7 L125.8 156.2 L126.2 155.6 L126.6 161.3 L127.0 172.1 L127.4 186.7 L127.8 205.0 L128.2 227.2 L128.6 249.3 L129.0 270.2 L129.3 289.2 L129.7 305.8 L130.1 319.5 L130.5 330.3 L130.9 337.8 L131.3 341.9 L131.7 342.5 L132.1 341.3 L132.5 338.8 L132.9 334.9 L133.2 329.9 L133.6 323.8 L134.0 316.5 L134.4 308.3 L134.8 299.0 L135.2 288.9 L135.6 278.0 L136.0 264.8 L136.4 252.0 L136.7 239.9 L137.1 228.9 L137.5 219.3 L137.9 211.3 L138.3 205.2 L138.7 200.9 L139.1 198.7 L139.5 198.7 L139.9 200.4 L140.3 203.2 L140.6 206.8 L141.0 211.0 L141.4 215.6 L141.8 220.4 L142.2 225.2 L142.6 229.9 L143.0 234.4 L143.4 238.7 L143.8 242.6 L144.1 246.3 L144.5 249.6 L144.9 252.5 L145.3 255.1 L145.7 256.5 L146.1 257.9 L146.5 259.3 L146.9 260.8 L147.3 262.2 L147.6 263.7 L148.0 265.2 L148.4 266.7 L148.8 268.2 L149.2 269.7 L149.6 271.2 L150.0 272.7 L150.4 274.2 L150.8 275.7 L151.2 277.2 L151.5 278.7 L151.9 280.2 L152.3 281.7 L152.7 283.1 L153.1 284.6 L153.5 286.1 L153.9 287.5 L154.3 289.0 L154.7 290.4 L155.0 291.8 L155.4 293.2 L155.8 294.6 L156.2 296.0 L156.6 297.4 L157.0 298.7 L157.4 300.0 L157.8 301.4 L158.2 302.6 L158.5 303.9 L158.9 305.2 L159.3 306.4 L159.7 307.6 L160.1 308.8 L160.5 309.9 L160.9 311.1 L161.3 312.2 L161.7 313.3 L162.1 314.3 L162.4 315.4 L162.8 316.4 L163.8 318.8 L164.8 321.2 L165.8 323.5 L166.7 325.8 L167.7 328.0 L168.7 330.1 L169.6 332.2 L170.6 334.2 L171.6 336.2 L172.6 338.2 L173.5 340.1 L174.5 341.9 L175.5 343.8 L176.5 345.6 L177.4 347.3 L178.4 349.0 L179.4 350.7 L180.4 352.4 L181.3 354.0 L182.3 355.6 L183.3 357.2 L184.2 358.8 L185.2 360.4 L186.2 361.9 L187.2 363.4 L188.1 364.9 L189.1 366.4 L190.1 367.9 L191.1 369.4 L192.0 370.8 L193.0 372.3 L194.0 373.7 L194.9 375.1 L195.9 376.5 L196.9 377.9 L197.9 379.2 L198.8 380.6 L199.8 381.9 L200.8 383.2 L201.8 384.5 L202.7 385.8 L203.7 387.0 L204.7 388.3 L205.7 389.5 L206.6 390.7 L207.6 391.9 L208.6 393.1 L209.5 394.3 L210.5 395.4 L211.5 396.6 L212.5 397.7 L213.4 398.8 L214.4 399.9 L215.4 401.0 L216.4 402.1 L217.3 403.2 L218.3 404.2 L219.3 405.3 L220.3 406.3 L221.2 407.3 L222.2 408.3 L223.2 409.3 L224.1 410.3 L225.1 411.2 L226.1 412.2 L227.1 413.1 L228.0 414.1 L229.0 415.0 L230.0 415.9 L231.0 416.8 L231.9 417.7 L232.9 418.6 L233.9 419.4 L234.9 420.3 L235.8 421.1 L236.8 422.0 L237.8 422.8 L238.7 423.6 L239.7 424.4 L240.7 425.2 L241.7 426.0 L242.6 426.8 L243.6 427.6 L244.6 428.4 L245.6 429.1 L246.5 429.9 L247.5 430.6 L248.5 431.4 L249.5 432.1 L250.4 432.8 L251.4 433.5 L252.4 434.2 L253.3 434.9 L254.3 435.6 L255.3 436.3 L256.3 437.0 L257.2 437.7 L258.2 438.3 L259.2 439.0 L260.2 439.6 L261.1 440.3 L262.1 440.9 L263.1 441.5 L264.1 442.2 L265.0 442.8 L266.0 443.4 L267.0 444.0 L267.9 444.6 L268.9 445.2 L269.9 445.7 L270.9 446.3 L271.8 446.9 L272.8 447.4 L273.8 448.0 L274.8 448.5 L275.7 449.0 L276.7 449.6 L277.7 450.1 L278.7 450.6 L279.6 451.1 L280.6 451.6 L281.6 452.1 L282.5 452.6 L283.5 453.1 L284.5 453.6 L285.5 454.0 L286.4 454.5 L287.4 455.0 L288.4 455.4 L289.4 455.9 L292.3 457.2 L295.2 458.4 L298.1 459.6 L301.0 460.7 L304.0 461.8 L306.9 462.8 L309.8 463.8 L312.7 464.8 L315.6 465.8 L318.6 466.8 L321.5 467.7 L324.4 468.6 L327.3 469.5 L330.2 470.4 L333.2 471.4 L336.1 472.3 L339.0 473.2 L341.9 474.1 L344.8 475.1 L347.8 476.0 L350.7 477.0 L353.6 478.0 L356.5 478.9 L359.4 479.9 L362.4 480.8 L365.3 481.6 L368.2 482.4 L371.1 483.2 L374.0 484.0 L377.0 484.6 L379.9 485.3 L382.8 485.8 L385.7 486.3 L388.6 486.8 L391.6 487.2 L394.5 487.6 L397.4 487.9 L400.3 488.3 L403.2 488.6 L406.2 488.9 L409.1 489.2 L412.0 489.5 L414.9 489.8 L417.8 490.0 L420.8 490.3 L423.7 490.6 L426.6 490.8 L429.5 491.1 L432.4 491.3 L435.4 491.6 L438.3 491.8 L441.2 492.1 L444.1 492.3 L447.0 492.6 L450.0 492.8 L452.9 493.0 L455.8 493.3 L458.7 493.5 L461.6 493.7 L464.6 493.9 L467.5 494.1 L470.4 494.3 L473.3 494.6 L476.2 494.8 L479.2 495.0 L482.1 495.2 L485.0 495.4 L487.9 495.6 L490.8 495.8 L493.8 496.0 L496.7 496.2 L499.6 496.4 L502.5 496.6 L505.4 496.8 L508.4 497.1 L511.3 497.3 L514.2 497.6 L517.1 497.9 L520.0 498.1 L523.0 498.4 L525.9 498.7 L528.8 498.9 L531.7 499.2 L534.6 499.4 L537.6 499.6 L540.5 499.8 L543.4 499.9 L546.3 500.0 L549.2 500.1 L552.2 500.1 L555.1 500.1 L558.0 500.1 L560.9 500.0 L563.8 500.0 L566.8 499.9 L569.7 499.8 L572.6 499.7 L575.5 499.6 L578.4 499.5 L581.3 499.4 L584.3 499.3 L587.2 499.2 L590.1 499.1 L593.0 499.0 L595.9 498.9 L598.9 498.9 L601.8 498.8 L604.7 498.8 L607.6 498.7 L610.5 498.7 L613.5 498.7 L616.4 498.7 L619.3 498.7 L622.2 498.7 L625.1 498.7 L628.1 498.7 L631.0 498.7 L633.9 498.7 L636.8 498.7 L639.7 498.7 L642.7 498.7 L645.6 498.7 L648.5 498.7 L651.4 498.7 L654.3 498.7 L657.3 498.7 L660.2 498.7 L663.1 498.7 L666.0 498.7 L668.9 498.7 L671.9 498.7 L674.8 498.7 L677.7 498.7"/>
<path d="M94.7 356.8 L95.1 356.5 L95.5 355.8 L95.9 354.9 L96.3 353.8 L96.6 350.1 L97.0 343.8 L97.4 338.8 L97.8 342.3 L98.2 348.7 L98.6 356.8 L99.0 362.6 L99.4 366.9 L99.8 369.7 L100.2 371.2 L100.5 371.5 L100.9 370.7 L101.3 368.7 L101.7 364.9 L102.1 359.3 L102.5 352.9 L102.9 345.5 L103.3 336.7 L103.7 326.6 L104.0 315.1 L104.4 294.7 L104.8 267.5 L105.2 236.3 L105.6 202.1 L106.0 167.0 L106.4 132.6 L106.8 102.5 L107.2 80.9 L107.5 71.4 L107.9 76.9 L108.3 95.5 L108.7 122.8 L109.1 154.5 L109.5 186.4 L109.9 215.8 L110.3 241.2 L110.7 261.0 L111.1 274.6 L111.4 280.2 L111.8 281.7 L112.2 280.7 L112.6 277.5 L113.0 272.5 L113.4 266.2 L113.8 258.8 L114.2 250.9 L114.6 243.0 L114.9 235.7 L115.3 229.6 L115.7 225.3 L116.1 223.5 L116.5 226.1 L116.9 233.6 L117.3 244.3 L117.7 256.4 L118.1 268.4 L118.4 279.0 L118.8 287.3 L119.2 292.1 L119.6 292.9 L120.0 291.2 L120.4 287.9 L120.8 283.2 L121.2 277.3 L121.6 270.6 L122.0 263.3 L122.3 255.9 L122.7 248.6 L123.1 242.0 L123.5 236.5 L123.9 232.5 L124.3 230.7 L124.7 231.4 L125.1 234.3 L125.5 239.2 L125.8 245.4 L126.2 252.6 L126.6 260.1 L127.0 267.8 L127.4 275.1 L127.8 281.8 L128.2 287.5 L128.6 292.0 L129.0 295.1 L129.3 296.4 L129.7 295.7 L130.1 292.7 L130.5 287.2 L130.9 279.3 L131.3 269.4 L131.7 257.6 L132.1 244.3 L132.5 229.8 L132.9 214.4 L133.2 198.7 L133.6 186.2 L134.0 174.9 L134.4 165.1 L134.8 157.6 L135.2 153.1 L135.6 152.2 L136.0 153.3 L136.4 155.7 L136.7 159.2 L137.1 163.8 L137.5 169.2 L137.9 175.3 L138.3 181.9 L138.7 188.9 L139.1 196.4 L139.5 206.1 L139.9 216.2 L140.3 226.5 L140.6 236.7 L141.0 246.7 L141.4 256.4 L141.8 265.6 L142.2 274.4 L142.6 282.6 L143.0 290.1 L143.4 296.9 L143.8 303.0 L144.1 308.4 L144.5 312.9 L144.9 316.7 L145.3 319.2 L145.7 320.4 L146.1 320.6 L146.5 319.9 L146.9 318.5 L147.3 316.4 L147.6 313.8 L148.0 310.9 L148.4 307.7 L148.8 304.4 L149.2 301.2 L149.6 298.3 L150.0 295.8 L150.4 294.0 L150.8 293.0 L151.2 293.0 L151.5 294.3 L151.9 296.2 L152.3 298.3 L152.7 300.7 L153.1 303.2 L153.5 305.8 L153.9 308.8 L154.3 311.8 L154.7 315.1 L155.0 318.5 L155.4 321.9 L155.8 325.4 L156.2 329.0 L156.6 332.6 L157.0 336.1 L157.4 339.6 L157.8 343.1 L158.2 346.4 L158.5 349.7 L158.9 352.9 L159.3 355.9 L159.7 358.8 L160.1 361.5 L160.5 364.0 L160.9 366.4 L161.3 368.5 L161.7 370.4 L162.1 372.2 L162.4 373.6 L162.8 374.9 L163.8 376.9 L164.8 378.1 L165.8 378.5 L166.7 378.3 L167.7 377.6 L168.7 376.6 L169.6 375.4 L170.6 374.1 L171.6 372.9 L172.6 371.8 L173.5 371.3 L174.5 371.3 L175.5 372.1 L176.5 373.8 L177.4 376.3 L178.4 379.8 L179.4 384.4 L180.4 389.9 L181.3 395.9 L182.3 402.1 L183.3 408.2 L184.2 414.0 L185.2 419.4 L186.2 424.1 L187.2 428.1 L188.1 431.3 L189.1 433.6 L190.1 435.1 L191.1 436.0 L192.0 436.7 L193.0 436.9 L194.0 437.0 L194.9 436.9 L195.9 436.6 L196.9 436.2 L197.9 435.7 L198.8 435.2 L199.8 434.6 L200.8 434.0 L201.8 433.4 L202.7 432.9 L203.7 432.5 L204.7 432.2 L205.7 432.1 L206.6 432.1 L207.6 432.3 L208.6 432.8 L209.5 433.5 L210.5 434.4 L211.5 435.7 L212.5 437.4 L213.4 439.5 L214.4 441.9 L215.4 444.5 L216.4 447.3 L217.3 450.0 L218.3 452.8 L219.3 455.4 L220.3 457.9 L221.2 460.3 L222.2 462.5 L223.2 464.4 L224.1 466.1 L225.1 467.6 L226.1 468.8 L227.1 469.7 L228.0 470.3 L229.0 470.7 L230.0 470.9 L231.0 470.9 L231.9 470.7 L232.9 470.5 L233.9 470.1 L234.9 469.7 L235.8 469.3 L236.8 468.8 L237.8 468.2 L238.7 467.7 L239.7 467.3 L240.7 466.8 L241.7 466.4 L242.6 466.1 L243.6 465.9 L244.6 465.9 L245.6 465.9 L246.5 466.1 L247.5 466.4 L248.5 467.0 L249.5 467.6 L250.4 468.2 L251.4 469.0 L252.4 469.8 L253.3 470.6 L254.3 471.4 L255.3 472.3 L256.3 473.2 L257.2 474.2 L258.2 475.1 L259.2 476.0 L260.2 476.9 L261.1 477.8 L262.1 478.7 L263.1 479.5 L264.1 480.3 L265.0 481.1 L266.0 481.9 L267.0 482.6 L267.9 483.3 L268.9 483.9 L269.9 484.5 L270.9 485.1 L271.8 485.6 L272.8 486.1 L273.8 486.6 L274.8 487.0 L275.7 487.3 L276.7 487.6 L277.7 487.9 L278.7 488.2 L279.6 488.5 L280.6 488.7 L281.6 489.0 L282.5 489.2 L283.5 489.4 L284.5 489.6 L285.5 489.8 L286.4 490.0 L287.4 490.2 L288.4 490.4 L289.4 490.5 L292.3 491.1 L295.2 491.6 L298.1 492.0 L301.0 492.5 L304.0 492.9 L306.9 493.3 L309.8 493.8 L312.7 494.2 L315.6 494.7 L318.6 495.3 L321.5 495.9 L324.4 496.7 L327.3 497.4 L330.2 498.2 L333.2 499.0 L336.1 499.8 L339.0 500.6 L341.9 501.4 L344.8 502.1 L347.8 502.8 L350.7 503.6 L353.6 504.3 L356.5 505.1 L359.4 505.8 L362.4 506.5 L365.3 507.1 L368.2 507.7 L371.1 508.3 L374.0 508.8 L377.0 509.2 L379.9 509.6 L382.8 509.9 L385.7 510.1 L388.6 510.3 L391.6 510.4 L394.5 510.6 L397.4 510.7 L400.3 510.8 L403.2 510.9 L406.2 511.0 L409.1 511.1 L412.0 511.2 L414.9 511.3 L417.8 511.4 L420.8 511.5 L423.7 511.6 L426.6 511.7 L429.5 511.9 L432.4 512.0 L435.4 512.1 L438.3 512.3 L441.2 512.5 L444.1 512.8 L447.0 513.0 L450.0 513.3 L452.9 513.6 L455.8 513.9 L458.7 514.2 L461.6 514.4 L464.6 514.7 L467.5 514.9 L470.4 515.1 L473.3 515.3 L476.2 515.4 L479.2 515.6 L482.1 515.7 L485.0 515.7 L487.9 515.8 L490.8 515.8 L493.8 515.9 L496.7 515.9 L499.6 516.0 L502.5 516.0 L505.4 516.0 L508.4 516.1 L511.3 516.1 L514.2 516.2 L517.1 516.2 L520.0 516.2 L523.0 516.3 L525.9 516.3 L528.8 516.3 L531.7 516.3 L534.6 516.4 L537.6 516.4 L540.5 516.4 L543.4 516.4 L546.3 516.5 L549.2 516.5 L552.2 516.5 L555.1 516.5 L558.0 516.6 L560.9 516.6 L563.8 516.6 L566.8 516.6 L569.7 516.7 L572.6 516.7 L575.5 516.7 L578.4 516.8 L581.3 516.8 L584.3 516.8 L587.2 516.8 L590.1 516.9 L593.0 516.9 L595.9 516.9 L598.9 517.0 L601.8 517.0 L604.7 517.0 L607.6 517.1 L610.5 517.1 L613.5 517.1 L616.4 517.1 L619.3 517.2 L622.2 517.2 L625.1 517.2 L628.1 517.2 L631.0 517.3 L633.9 517.3 L636.8 517.3 L639.7 517.3 L642.7 517.4 L645.6 517.4 L648.5 517.4 L651.4 517.5 L654.3 517.5 L657.3 517.5 L660.2 517.5 L663.1 517.6 L666.0 517.6 L668.9 517.6 L671.9 517.6 L674.8 517.7 L677.7 517.7"/>
<path d="M94.7 359.8 L95.1 359.6 L95.5 359.0 L95.9 358.1 L96.3 357.0 L96.6 353.5 L97.0 347.5 L97.4 349.9 L97.8 358.1 L98.2 367.8 L98.6 377.1 L99.0 380.1 L99.4 380.4 L99.8 378.1 L100.2 373.6 L100.5 366.7 L100.9 356.9 L101.3 344.9 L101.7 330.7 L102.1 315.9 L102.5 302.1 L102.9 290.6 L103.3 282.4 L103.7 278.9 L104.0 278.2 L104.4 279.5 L104.8 282.2 L105.2 285.7 L105.6 289.2 L106.0 292.4 L106.4 294.6 L106.8 295.4 L107.2 294.1 L107.5 290.2 L107.9 283.0 L108.3 268.7 L108.7 248.2 L109.1 222.5 L109.5 192.7 L109.9 160.4 L110.3 127.7 L110.7 98.4 L111.1 77.0 L111.4 68.0 L111.8 74.2 L112.2 93.1 L112.6 120.1 L113.0 151.1 L113.4 182.0 L113.8 210.2 L114.2 234.4 L114.6 253.2 L114.9 265.4 L115.3 271.2 L115.7 266.3 L116.1 254.6 L116.5 239.8 L116.9 226.3 L117.3 219.5 L117.7 220.9 L118.1 225.1 L118.4 231.4 L118.8 239.2 L119.2 247.9 L119.6 257.0 L120.0 265.9 L120.4 274.2 L120.8 281.6 L121.2 287.7 L121.6 292.2 L122.0 294.8 L122.3 295.2 L122.7 293.1 L123.1 288.5 L123.5 281.9 L123.9 273.6 L124.3 263.9 L124.7 253.2 L125.1 242.0 L125.5 230.9 L125.8 220.4 L126.2 211.4 L126.6 204.5 L127.0 200.7 L127.4 200.2 L127.8 201.8 L128.2 205.0 L128.6 209.6 L129.0 215.3 L129.3 221.6 L129.7 228.4 L130.1 235.3 L130.5 242.0 L130.9 248.4 L131.3 254.2 L131.7 259.2 L132.1 263.3 L132.5 266.2 L132.9 267.8 L133.2 267.9 L133.6 266.6 L134.0 264.2 L134.4 260.9 L134.8 256.6 L135.2 251.4 L135.6 245.6 L136.0 239.0 L136.4 231.9 L136.7 224.4 L137.1 216.4 L137.5 208.3 L137.9 200.1 L138.3 193.1 L138.7 186.9 L139.1 181.0 L139.5 175.7 L139.9 171.2 L140.3 167.6 L140.6 165.0 L141.0 163.8 L141.4 163.9 L141.8 165.2 L142.2 167.6 L142.6 170.8 L143.0 174.9 L143.4 175.3 L143.8 181.7 L144.1 188.8 L144.5 196.2 L144.9 204.0 L145.3 212.0 L145.7 220.0 L146.1 227.9 L146.5 235.7 L146.9 243.3 L147.3 250.5 L147.6 257.2 L148.0 263.5 L148.4 269.3 L148.8 274.4 L149.2 278.9 L149.6 282.6 L150.0 285.6 L150.4 287.6 L150.8 288.9 L151.2 289.6 L151.5 289.9 L151.9 289.6 L152.3 289.0 L152.7 287.9 L153.1 286.4 L153.5 284.6 L153.9 282.6 L154.3 280.3 L154.7 277.9 L155.0 275.3 L155.4 272.6 L155.8 269.8 L156.2 267.0 L156.6 264.3 L157.0 261.6 L157.4 259.0 L157.8 256.6 L158.2 254.4 L158.5 252.5 L158.9 250.9 L159.3 249.8 L159.7 249.1 L160.1 249.0 L160.5 249.4 L160.9 250.5 L161.3 252.0 L161.7 253.8 L162.1 256.1 L162.4 258.6 L162.8 261.4 L163.8 269.5 L164.8 278.6 L165.8 288.2 L166.7 297.9 L167.7 307.2 L168.7 315.9 L169.6 323.6 L170.6 330.0 L171.6 335.0 L172.6 338.2 L173.5 339.2 L174.5 338.2 L175.5 335.3 L176.5 330.9 L177.4 325.3 L178.4 318.9 L179.4 311.9 L180.4 304.8 L181.3 298.0 L182.3 292.2 L183.3 288.0 L184.2 285.9 L185.2 286.4 L186.2 289.7 L187.2 295.4 L188.1 302.8 L189.1 311.4 L190.1 320.7 L191.1 330.2 L192.0 339.6 L193.0 348.6 L194.0 357.0 L194.9 364.5 L195.9 371.0 L196.9 376.3 L197.9 380.4 L198.8 383.2 L199.8 385.1 L200.8 386.4 L201.8 387.2 L202.7 387.6 L203.7 387.7 L204.7 387.5 L205.7 387.1 L206.6 386.6 L207.6 386.0 L208.6 385.4 L209.5 384.8 L210.5 384.4 L211.5 384.1 L212.5 384.1 L213.4 384.3 L214.4 385.0 L215.4 385.9 L216.4 387.4 L217.3 389.1 L218.3 391.0 L219.3 393.2 L220.3 395.5 L221.2 397.9 L222.2 400.4 L223.2 402.9 L224.1 405.5 L225.1 407.9 L226.1 410.4 L227.1 412.8 L228.0 415.0 L229.0 417.2 L230.0 419.2 L231.0 421.1 L231.9 422.9 L232.9 424.4 L233.9 425.9 L234.9 427.1 L235.8 428.2 L236.8 429.0 L237.8 429.7 L238.7 430.2 L239.7 430.6 L240.7 430.9 L241.7 431.0 L242.6 431.1 L243.6 431.0 L244.6 430.9 L245.6 430.8 L246.5 430.7 L247.5 430.5 L248.5 430.4 L249.5 430.3 L250.4 430.2 L251.4 430.2 L252.4 430.3 L253.3 430.4 L254.3 430.6 L255.3 430.9 L256.3 431.3 L257.2 431.9 L258.2 432.6 L259.2 433.4 L260.2 434.3 L261.1 435.4 L262.1 436.6 L263.1 437.7 L264.1 439.0 L265.0 440.3 L266.0 441.6 L267.0 442.9 L267.9 444.2 L268.9 445.6 L269.9 446.9 L270.9 448.2 L271.8 449.5 L272.8 450.8 L273.8 452.0 L274.8 453.3 L275.7 454.4 L276.7 455.6 L277.7 456.7 L278.7 457.8 L279.6 458.8 L280.6 459.8 L281.6 460.7 L282.5 461.6 L283.5 462.5 L284.5 463.3 L285.5 464.0 L286.4 464.8 L287.4 465.4 L288.4 466.1 L289.4 466.6 L292.3 468.1 L295.2 469.4 L298.1 470.4 L301.0 471.4 L304.0 472.3 L306.9 473.1 L309.8 474.1 L312.7 475.2 L315.6 476.5 L318.6 478.0 L321.5 479.6 L324.4 481.4 L327.3 483.2 L330.2 485.0 L333.2 486.8 L336.1 488.5 L339.0 490.1 L341.9 491.6 L344.8 492.9 L347.8 494.0 L350.7 494.9 L353.6 495.9 L356.5 496.7 L359.4 497.5 L362.4 498.2 L365.3 498.8 L368.2 499.3 L371.1 499.8 L374.0 500.3 L377.0 500.6 L379.9 500.9 L382.8 501.2 L385.7 501.4 L388.6 501.6 L391.6 501.7 L394.5 501.9 L397.4 502.0 L400.3 502.1 L403.2 502.1 L406.2 502.2 L409.1 502.3 L412.0 502.3 L414.9 502.4 L417.8 502.5 L420.8 502.6 L423.7 502.7 L426.6 502.8 L429.5 502.9 L432.4 503.1 L435.4 503.3 L438.3 503.5 L441.2 503.8 L444.1 504.0 L447.0 504.3 L450.0 504.6 L452.9 504.9 L455.8 505.2 L458.7 505.5 L461.6 505.7 L464.6 506.0 L467.5 506.3 L470.4 506.5 L473.3 506.7 L476.2 506.9 L479.2 507.0 L482.1 507.1 L485.0 507.2 L487.9 507.2 L490.8 507.3 L493.8 507.4 L496.7 507.4 L499.6 507.5 L502.5 507.5 L505.4 507.5 L508.4 507.6 L511.3 507.6 L514.2 507.6 L517.1 507.6 L520.0 507.6 L523.0 507.6 L525.9 507.6 L528.8 507.6 L531.7 507.6 L534.6 507.6 L537.6 507.6 L540.5 507.6 L543.4 507.6 L546.3 507.6 L549.2 507.6 L552.2 507.6 L555.1 507.6 L558.0 507.6 L560.9 507.6 L563.8 507.6 L566.8 507.6 L569.7 507.6 L572.6 507.6 L575.5 507.6 L578.4 507.6 L581.3 507.6 L584.3 507.7 L587.2 507.7 L590.1 507.7 L593.0 507.8 L595.9 507.8 L598.9 507.9 L601.8 508.0 L604.7 508.0 L607.6 508.1 L610.5 508.2 L613.5 508.3 L616.4 508.4 L619.3 508.5 L622.2 508.6 L625.1 508.7 L628.1 508.8 L631.0 508.9 L633.9 509.0 L636.8 509.1 L639.7 509.2 L642.7 509.3 L645.6 509.5 L648.5 509.6 L651.4 509.7 L654.3 509.8 L657.3 510.0 L660.2 510.1 L663.1 510.2 L666.0 510.3 L668.9 510.4 L671.9 510.6 L674.8 510.7 L677.7 510.8"/>
<path d="M94.7 400.7 L95.1 400.6 L95.5 400.2 L95.9 399.6 L96.3 398.8 L96.6 399.5 L97.0 401.7 L97.4 403.7 L97.8 405.5 L98.2 400.7 L98.6 370.9 L99.0 340.7 L99.4 315.4 L99.8 297.7 L100.2 288.8 L100.5 287.9 L100.9 292.1 L101.3 300.3 L101.7 310.0 L102.1 318.2 L102.5 322.8 L102.9 320.8 L103.3 313.1 L103.7 301.7 L104.0 287.1 L104.4 269.9 L104.8 251.0 L105.2 231.6 L105.6 213.3 L106.0 198.0 L106.4 189.7 L106.8 187.1 L107.2 188.1 L107.5 191.8 L107.9 197.6 L108.3 206.7 L108.7 217.0 L109.1 227.9 L109.5 238.8 L109.9 249.1 L110.3 258.3 L110.7 266.1 L111.1 272.3 L111.4 276.5 L111.8 278.3 L112.2 277.6 L112.6 272.1 L113.0 258.1 L113.4 236.8 L113.8 209.1 L114.2 176.9 L114.6 141.8 L114.9 107.5 L115.3 78.8 L115.7 61.2 L116.1 59.9 L116.5 74.9 L116.9 101.5 L117.3 134.4 L117.7 168.8 L118.1 200.8 L118.4 229.0 L118.8 251.4 L119.2 266.8 L119.6 273.3 L120.0 275.1 L120.4 275.3 L120.8 274.1 L121.2 271.5 L121.6 267.7 L122.0 263.0 L122.3 257.4 L122.7 251.0 L123.1 244.1 L123.5 236.8 L123.9 229.4 L124.3 221.9 L124.7 214.8 L125.1 208.1 L125.5 202.3 L125.8 197.6 L126.2 194.9 L126.6 193.6 L127.0 194.3 L127.4 197.4 L127.8 203.7 L128.2 211.7 L128.6 220.9 L129.0 230.6 L129.3 240.4 L129.7 249.7 L130.1 258.1 L130.5 265.4 L130.9 271.2 L131.3 275.2 L131.7 277.1 L132.1 276.5 L132.5 273.1 L132.9 267.4 L133.2 259.7 L133.6 250.4 L134.0 240.0 L134.4 228.9 L134.8 217.7 L135.2 207.0 L135.6 197.7 L136.0 191.9 L136.4 188.6 L136.7 188.3 L137.1 190.2 L137.5 193.8 L137.9 199.2 L138.3 206.8 L138.7 215.5 L139.1 225.3 L139.5 236.0 L139.9 247.1 L140.3 258.4 L140.6 269.4 L141.0 280.0 L141.4 290.0 L141.8 299.1 L142.2 307.1 L142.6 314.1 L143.0 319.9 L143.4 324.3 L143.8 328.0 L144.1 331.1 L144.5 333.9 L144.9 336.2 L145.3 338.1 L145.7 339.7 L146.1 341.1 L146.5 342.2 L146.9 343.1 L147.3 343.8 L147.6 344.4 L148.0 344.9 L148.4 345.3 L148.8 345.7 L149.2 346.0 L149.6 346.4 L150.0 346.8 L150.4 347.3 L150.8 348.0 L151.2 348.8 L151.5 349.7 L151.9 350.9 L152.3 352.3 L152.7 354.0 L153.1 356.0 L153.5 358.3 L153.9 361.0 L154.3 364.1 L154.7 367.4 L155.0 371.0 L155.4 374.8 L155.8 378.7 L156.2 382.6 L156.6 386.6 L157.0 390.5 L157.4 394.4 L157.8 398.2 L158.2 401.8 L158.5 405.3 L158.9 408.7 L159.3 411.8 L159.7 414.7 L160.1 417.4 L160.5 419.9 L160.9 422.1 L161.3 424.0 L161.7 425.6 L162.1 427.0 L162.4 428.0 L162.8 428.7 L163.8 429.1 L164.8 427.6 L165.8 424.5 L166.7 420.1 L167.7 414.6 L168.7 408.3 L169.6 401.6 L170.6 394.8 L171.6 388.6 L172.6 383.8 L173.5 381.1 L174.5 381.1 L175.5 383.3 L176.5 386.8 L177.4 391.1 L178.4 396.1 L179.4 401.6 L180.4 407.3 L181.3 413.1 L182.3 418.7 L183.3 424.1 L184.2 429.1 L185.2 433.7 L186.2 437.8 L187.2 441.4 L188.1 444.4 L189.1 446.8 L190.1 448.7 L191.1 449.9 L192.0 450.4 L193.0 450.0 L194.0 448.9 L194.9 447.1 L195.9 444.8 L196.9 442.1 L197.9 439.1 L198.8 436.1 L199.8 433.1 L200.8 430.4 L201.8 428.1 L202.7 426.6 L203.7 425.9 L204.7 426.4 L205.7 427.8 L206.6 429.6 L207.6 431.8 L208.6 434.2 L209.5 436.9 L210.5 439.6 L211.5 442.5 L212.5 445.4 L213.4 448.2 L214.4 451.0 L215.4 453.7 L216.4 456.3 L217.3 458.8 L218.3 461.1 L219.3 463.2 L220.3 465.2 L221.2 467.0 L222.2 468.7 L223.2 470.1 L224.1 471.4 L225.1 472.5 L226.1 473.4 L227.1 474.2 L228.0 474.7 L229.0 475.1 L230.0 475.3 L231.0 475.4 L231.9 475.5 L232.9 475.5 L233.9 475.4 L234.9 475.3 L235.8 475.2 L236.8 475.1 L237.8 475.1 L238.7 475.1 L239.7 475.1 L240.7 475.3 L241.7 475.5 L242.6 475.9 L243.6 476.5 L244.6 477.2 L245.6 478.0 L246.5 479.0 L247.5 480.1 L248.5 481.2 L249.5 482.3 L250.4 483.5 L251.4 484.7 L252.4 485.8 L253.3 487.0 L254.3 488.1 L255.3 489.2 L256.3 490.3 L257.2 491.4 L258.2 492.4 L259.2 493.3 L260.2 494.3 L261.1 495.1 L262.1 496.0 L263.1 496.7 L264.1 497.5 L265.0 498.1 L266.0 498.8 L267.0 499.3 L267.9 499.9 L268.9 500.3 L269.9 500.8 L270.9 501.2 L271.8 501.5 L272.8 501.8 L273.8 502.1 L274.8 502.4 L275.7 502.6 L276.7 502.8 L277.7 503.0 L278.7 503.2 L279.6 503.3 L280.6 503.4 L281.6 503.5 L282.5 503.6 L283.5 503.7 L284.5 503.7 L285.5 503.8 L286.4 503.8 L287.4 503.8 L288.4 503.9 L289.4 503.9 L292.3 503.9 L295.2 504.0 L298.1 504.1 L301.0 504.3 L304.0 504.5 L306.9 505.0 L309.8 505.5 L312.7 506.1 L315.6 506.7 L318.6 507.3 L321.5 507.9 L324.4 508.5 L327.3 509.0 L330.2 509.5 L333.2 509.9 L336.1 510.2 L339.0 510.4 L341.9 510.7 L344.8 510.9 L347.8 511.2 L350.7 511.4 L353.6 511.6 L356.5 511.9 L359.4 512.1 L362.4 512.4 L365.3 512.6 L368.2 512.9 L371.1 513.1 L374.0 513.4 L377.0 513.6 L379.9 513.9 L382.8 514.1 L385.7 514.3 L388.6 514.5 L391.6 514.7 L394.5 514.8 L397.4 515.0 L400.3 515.1 L403.2 515.3 L406.2 515.4 L409.1 515.5 L412.0 515.6 L414.9 515.6 L417.8 515.7 L420.8 515.8 L423.7 515.8 L426.6 515.9 L429.5 515.9 L432.4 516.0 L435.4 516.0 L438.3 516.0 L441.2 516.1 L444.1 516.1 L447.0 516.2 L450.0 516.2 L452.9 516.3 L455.8 516.3 L458.7 516.4 L461.6 516.4 L464.6 516.5 L467.5 516.5 L470.4 516.6 L473.3 516.6 L476.2 516.7 L479.2 516.7 L482.1 516.8 L485.0 516.8 L487.9 516.9 L490.8 516.9 L493.8 517.0 L496.7 517.0 L499.6 517.1 L502.5 517.1 L505.4 517.2 L508.4 517.2 L511.3 517.3 L514.2 517.3 L517.1 517.4 L520.0 517.4 L523.0 517.4 L525.9 517.5 L528.8 517.5 L531.7 517.6 L534.6 517.6 L537.6 517.7 L540.5 517.7 L543.4 517.7 L546.3 517.8 L549.2 517.8 L552.2 517.8 L555.1 517.9 L558.0 517.9 L560.9 517.9 L563.8 518.0 L566.8 518.0 L569.7 518.0 L572.6 518.1 L575.5 518.1 L578.4 518.1 L581.3 518.1 L584.3 518.2 L587.2 518.2 L590.1 518.2 L593.0 518.3 L595.9 518.3 L598.9 518.3 L601.8 518.3 L604.7 518.3 L607.6 518.4 L610.5 518.4 L613.5 518.4 L616.4 518.4 L619.3 518.5 L622.2 518.5 L625.1 518.5 L628.1 518.5 L631.0 518.5 L633.9 518.6 L636.8 518.6 L639.7 518.6 L642.7 518.6 L645.6 518.6 L648.5 518.7 L651.4 518.7 L654.3 518.7 L657.3 518.7 L660.2 518.7 L663.1 518.8 L666.0 518.8 L668.9 518.8 L671.9 518.8 L674.8 518.8 L677.7 518.9"/>
<path d="M94.7 371.1 L95.1 370.9 L95.5 370.4 L95.9 369.6 L96.3 368.5 L96.6 368.8 L97.0 369.9 L97.4 361.1 L97.8 348.0 L98.2 332.5 L98.6 317.5 L99.0 311.9 L99.4 310.6 L99.8 313.1 L100.2 318.7 L100.5 325.4 L100.9 331.4 L101.3 335.0 L101.7 333.8 L102.1 326.0 L102.5 313.4 L102.9 296.8 L103.3 276.6 L103.7 254.6 L104.0 233.5 L104.4 216.4 L104.8 207.2 L105.2 208.9 L105.6 219.9 L106.0 236.8 L106.4 256.1 L106.8 275.1 L107.2 291.5 L107.5 303.8 L107.9 310.6 L108.3 310.2 L108.7 299.8 L109.1 280.9 L109.5 256.2 L109.9 229.6 L110.3 206.5 L110.7 194.8 L111.1 193.7 L111.4 193.9 L111.8 195.4 L112.2 198.2 L112.6 202.5 L113.0 207.7 L113.4 213.6 L113.8 220.0 L114.2 226.6 L114.6 233.2 L114.9 239.7 L115.3 246.0 L115.7 251.8 L116.1 257.1 L116.5 261.6 L116.9 265.3 L117.3 267.8 L117.7 269.3 L118.1 269.4 L118.4 268.1 L118.8 259.7 L119.2 244.5 L119.6 223.6 L120.0 198.3 L120.4 170.4 L120.8 142.0 L121.2 116.7 L121.6 98.5 L122.0 91.8 L122.3 99.2 L122.7 117.9 L123.1 143.7 L123.5 172.2 L123.9 200.1 L124.3 225.2 L124.7 245.8 L125.1 260.4 L125.5 268.1 L125.8 268.9 L126.2 268.9 L126.6 268.1 L127.0 266.5 L127.4 264.2 L127.8 261.3 L128.2 257.8 L128.6 253.8 L129.0 249.2 L129.3 244.1 L129.7 238.5 L130.1 232.6 L130.5 226.4 L130.9 219.8 L131.3 213.1 L131.7 206.2 L132.1 199.2 L132.5 193.2 L132.9 187.7 L133.2 182.3 L133.6 177.2 L134.0 172.3 L134.4 167.9 L134.8 164.0 L135.2 160.6 L135.6 157.9 L136.0 155.9 L136.4 154.7 L136.7 155.3 L137.1 157.7 L137.5 161.3 L137.9 166.2 L138.3 171.8 L138.7 178.2 L139.1 185.8 L139.5 194.3 L139.9 205.1 L140.3 216.9 L140.6 228.8 L141.0 240.4 L141.4 251.5 L141.8 261.9 L142.2 271.3 L142.6 279.6 L143.0 286.9 L143.4 293.4 L143.8 299.3 L144.1 304.7 L144.5 309.5 L144.9 314.0 L145.3 318.2 L145.7 322.0 L146.1 325.7 L146.5 329.3 L146.9 332.7 L147.3 336.1 L147.6 339.5 L148.0 343.0 L148.4 346.6 L148.8 350.3 L149.2 354.2 L149.6 358.3 L150.0 362.6 L150.4 367.0 L150.8 371.2 L151.2 375.2 L151.5 379.0 L151.9 382.5 L152.3 385.7 L152.7 388.6 L153.1 391.1 L153.5 393.5 L153.9 395.9 L154.3 398.3 L154.7 400.6 L155.0 403.0 L155.4 405.3 L155.8 407.5 L156.2 409.6 L156.6 411.6 L157.0 413.6 L157.4 415.4 L157.8 417.0 L158.2 418.6 L158.5 419.9 L158.9 421.2 L159.3 422.2 L159.7 423.1 L160.1 423.7 L160.5 424.2 L160.9 424.4 L161.3 424.4 L161.7 424.1 L162.1 423.4 L162.4 422.5 L162.8 421.3 L163.8 417.5 L164.8 412.5 L165.8 406.8 L166.7 400.9 L167.7 395.4 L168.7 391.0 L169.6 388.5 L170.6 388.9 L171.6 392.2 L172.6 398.0 L173.5 405.6 L174.5 413.7 L175.5 421.9 L176.5 429.5 L177.4 436.2 L178.4 441.8 L179.4 446.0 L180.4 448.8 L181.3 450.0 L182.3 449.8 L183.3 448.7 L184.2 446.8 L185.2 444.3 L186.2 441.2 L187.2 437.7 L188.1 433.9 L189.1 430.1 L190.1 426.3 L191.1 422.9 L192.0 420.1 L193.0 418.1 L194.0 417.2 L194.9 417.5 L195.9 419.2 L196.9 422.0 L197.9 425.6 L198.8 429.7 L199.8 434.0 L200.8 438.5 L201.8 442.8 L202.7 447.0 L203.7 450.7 L204.7 454.1 L205.7 457.0 L206.6 459.3 L207.6 461.1 L208.6 462.2 L209.5 462.9 L210.5 463.3 L211.5 463.5 L212.5 463.6 L213.4 463.5 L214.4 463.3 L215.4 463.1 L216.4 462.8 L217.3 462.5 L218.3 462.2 L219.3 462.0 L220.3 461.8 L221.2 461.8 L222.2 461.8 L223.2 462.1 L224.1 462.5 L225.1 463.0 L226.1 463.8 L227.1 464.8 L228.0 466.0 L229.0 467.2 L230.0 468.5 L231.0 469.8 L231.9 471.2 L232.9 472.6 L233.9 474.0 L234.9 475.4 L235.8 476.9 L236.8 478.2 L237.8 479.6 L238.7 480.9 L239.7 482.2 L240.7 483.4 L241.7 484.6 L242.6 485.7 L243.6 486.7 L244.6 487.8 L245.6 488.7 L246.5 489.6 L247.5 490.5 L248.5 491.3 L249.5 492.0 L250.4 492.7 L251.4 493.4 L252.4 493.9 L253.3 494.5 L254.3 495.0 L255.3 495.4 L256.3 495.8 L257.2 496.1 L258.2 496.4 L259.2 496.7 L260.2 497.0 L261.1 497.3 L262.1 497.5 L263.1 497.7 L264.1 497.9 L265.0 498.1 L266.0 498.3 L267.0 498.4 L267.9 498.6 L268.9 498.7 L269.9 498.8 L270.9 498.9 L271.8 499.1 L272.8 499.2 L273.8 499.3 L274.8 499.5 L275.7 499.6 L276.7 499.7 L277.7 499.9 L278.7 500.1 L279.6 500.2 L280.6 500.4 L281.6 500.6 L282.5 500.8 L283.5 501.0 L284.5 501.2 L285.5 501.4 L286.4 501.6 L287.4 501.9 L288.4 502.1 L289.4 502.4 L292.3 503.2 L295.2 504.0 L298.1 504.9 L301.0 505.7 L304.0 506.5 L306.9 507.3 L309.8 507.9 L312.7 508.5 L315.6 509.0 L318.6 509.5 L321.5 509.8 L324.4 510.2 L327.3 510.4 L330.2 510.6 L333.2 510.8 L336.1 511.0 L339.0 511.1 L341.9 511.3 L344.8 511.5 L347.8 511.6 L350.7 511.8 L353.6 512.0 L356.5 512.2 L359.4 512.4 L362.4 512.6 L365.3 512.8 L368.2 513.0 L371.1 513.3 L374.0 513.5 L377.0 513.7 L379.9 513.9 L382.8 514.1 L385.7 514.3 L388.6 514.5 L391.6 514.7 L394.5 514.9 L397.4 515.0 L400.3 515.2 L403.2 515.3 L406.2 515.4 L409.1 515.5 L412.0 515.6 L414.9 515.7 L417.8 515.7 L420.8 515.8 L423.7 515.8 L426.6 515.9 L429.5 515.9 L432.4 515.9 L435.4 516.0 L438.3 516.0 L441.2 516.1 L444.1 516.1 L447.0 516.1 L450.0 516.2 L452.9 516.2 L455.8 516.3 L458.7 516.3 L461.6 516.4 L464.6 516.5 L467.5 516.5 L470.4 516.6 L473.3 516.7 L476.2 516.7 L479.2 516.8 L482.1 516.9 L485.0 516.9 L487.9 517.0 L490.8 517.0 L493.8 517.1 L496.7 517.2 L499.6 517.2 L502.5 517.3 L505.4 517.3 L508.4 517.3 L511.3 517.4 L514.2 517.4 L517.1 517.4 L520.0 517.5 L523.0 517.5 L525.9 517.5 L528.8 517.6 L531.7 517.6 L534.6 517.6 L537.6 517.7 L540.5 517.7 L543.4 517.7 L546.3 517.7 L549.2 517.8 L552.2 517.8 L555.1 517.8 L558.0 517.9 L560.9 517.9 L563.8 517.9 L566.8 517.9 L569.7 518.0 L572.6 518.0 L575.5 518.0 L578.4 518.0 L581.3 518.1 L584.3 518.1 L587.2 518.1 L590.1 518.1 L593.0 518.2 L595.9 518.2 L598.9 518.2 L601.8 518.3 L604.7 518.3 L607.6 518.3 L610.5 518.3 L613.5 518.4 L616.4 518.4 L619.3 518.4 L622.2 518.5 L625.1 518.5 L628.1 518.5 L631.0 518.5 L633.9 518.6 L636.8 518.6 L639.7 518.6 L642.7 518.6 L645.6 518.7 L648.5 518.7 L651.4 518.7 L654.3 518.7 L657.3 518.8 L660.2 518.8 L663.1 518.8 L666.0 518.8 L668.9 518.8 L671.9 518.9 L674.8 518.9 L677.7 518.9"/>
<path d="M94.7 416.8 L95.1 416.7 L95.5 416.3 L95.9 415.8 L96.3 415.1 L96.6 413.9 L97.0 412.2 L97.4 410.4 L97.8 408.1 L98.2 412.7 L98.6 416.9 L99.0 415.1 L99.4 408.5 L99.8 397.0 L100.2 380.3 L100.5 358.4 L100.9 331.8 L101.3 301.1 L101.7 268.2 L102.1 237.5 L102.5 214.1 L102.9 199.6 L103.3 194.5 L103.7 196.1 L104.0 203.3 L104.4 214.4 L104.8 227.0 L105.2 239.3 L105.6 249.9 L106.0 257.5 L106.4 260.9 L106.8 258.1 L107.2 243.4 L107.5 219.0 L107.9 191.3 L108.3 169.5 L108.7 156.6 L109.1 156.9 L109.5 163.9 L109.9 175.2 L110.3 188.7 L110.7 204.2 L111.1 220.7 L111.4 234.5 L111.8 244.4 L112.2 249.4 L112.6 248.0 L113.0 239.1 L113.4 224.3 L113.8 205.5 L114.2 187.3 L114.6 171.5 L114.9 159.2 L115.3 153.6 L115.7 153.9 L116.1 155.3 L116.5 157.7 L116.9 161.0 L117.3 164.9 L117.7 169.3 L118.1 174.1 L118.4 179.2 L118.8 184.5 L119.2 189.9 L119.6 195.2 L120.0 201.2 L120.4 207.4 L120.8 213.3 L121.2 218.7 L121.6 223.6 L122.0 227.9 L122.3 231.5 L122.7 234.3 L123.1 236.3 L123.5 237.4 L123.9 237.4 L124.3 236.3 L124.7 228.3 L125.1 213.5 L125.5 193.4 L125.8 169.2 L126.2 141.8 L126.6 113.9 L127.0 88.7 L127.4 70.0 L127.8 61.6 L128.2 65.9 L128.6 81.1 L129.0 103.7 L129.3 130.4 L129.7 157.9 L130.1 183.5 L130.5 205.5 L130.9 223.7 L131.3 236.3 L131.7 238.0 L132.1 239.4 L132.5 240.7 L132.9 241.7 L133.2 242.6 L133.6 243.3 L134.0 243.8 L134.4 244.2 L134.8 244.4 L135.2 244.5 L135.6 244.4 L136.0 244.3 L136.4 243.9 L136.7 243.5 L137.1 242.9 L137.5 242.3 L137.9 241.5 L138.3 240.6 L138.7 239.7 L139.1 238.7 L139.5 237.7 L139.9 236.7 L140.3 235.6 L140.6 234.6 L141.0 233.5 L141.4 232.4 L141.8 231.4 L142.2 230.3 L142.6 229.3 L143.0 228.2 L143.4 227.2 L143.8 226.3 L144.1 225.3 L144.5 224.4 L144.9 223.6 L145.3 222.7 L145.7 221.9 L146.1 221.1 L146.5 220.4 L146.9 219.7 L147.3 219.1 L147.6 218.5 L148.0 218.0 L148.4 217.6 L148.8 217.2 L149.2 216.9 L149.6 216.7 L150.0 216.6 L150.4 216.4 L150.8 216.0 L151.2 216.2 L151.5 216.9 L151.9 218.1 L152.3 219.7 L152.7 221.6 L153.1 223.8 L153.5 226.1 L153.9 228.6 L154.3 231.2 L154.7 233.8 L155.0 236.3 L155.4 238.7 L155.8 240.9 L156.2 242.8 L156.6 244.4 L157.0 245.7 L157.4 246.4 L157.8 246.7 L158.2 246.4 L158.5 245.9 L158.9 245.3 L159.3 244.4 L159.7 243.3 L160.1 242.0 L160.5 240.6 L160.9 238.9 L161.3 237.1 L161.7 235.1 L162.1 232.9 L162.4 230.7 L162.8 228.3 L163.8 221.8 L164.8 215.0 L165.8 207.9 L166.7 201.0 L167.7 194.6 L168.7 189.0 L169.6 184.7 L170.6 182.0 L171.6 181.4 L172.6 182.9 L173.5 186.7 L174.5 192.2 L175.5 199.1 L176.5 207.1 L177.4 215.9 L178.4 225.1 L179.4 234.5 L180.4 243.9 L181.3 253.0 L182.3 261.7 L183.3 269.7 L184.2 277.0 L185.2 283.3 L186.2 288.6 L187.2 292.7 L188.1 295.8 L189.1 298.2 L190.1 300.0 L191.1 301.2 L192.0 301.9 L193.0 302.1 L194.0 302.2 L194.9 302.1 L195.9 302.0 L196.9 301.8 L197.9 301.7 L198.8 301.7 L199.8 301.9 L200.8 302.3 L201.8 303.0 L202.7 304.1 L203.7 305.5 L204.7 307.4 L205.7 309.7 L206.6 312.3 L207.6 315.3 L208.6 318.5 L209.5 321.9 L210.5 325.4 L211.5 329.1 L212.5 332.8 L213.4 336.5 L214.4 340.2 L215.4 343.8 L216.4 347.3 L217.3 350.6 L218.3 353.7 L219.3 356.7 L220.3 359.3 L221.2 361.8 L222.2 363.9 L223.2 365.8 L224.1 367.4 L225.1 368.7 L226.1 369.7 L227.1 370.3 L228.0 370.6 L229.0 370.6 L230.0 370.4 L231.0 369.9 L231.9 369.3 L232.9 368.5 L233.9 367.5 L234.9 366.4 L235.8 365.2 L236.8 364.0 L237.8 362.7 L238.7 361.3 L239.7 360.0 L240.7 358.7 L241.7 357.5 L242.6 356.3 L243.6 355.2 L244.6 354.3 L245.6 353.5 L246.5 352.8 L247.5 352.3 L248.5 352.0 L249.5 351.9 L250.4 351.9 L251.4 352.2 L252.4 352.6 L253.3 353.3 L254.3 354.3 L255.3 355.4 L256.3 356.9 L257.2 358.4 L258.2 360.2 L259.2 362.1 L260.2 364.0 L261.1 366.1 L262.1 368.3 L263.1 370.5 L264.1 372.8 L265.0 375.0 L266.0 377.3 L267.0 379.6 L267.9 381.9 L268.9 384.1 L269.9 386.3 L270.9 388.5 L271.8 390.6 L272.8 392.7 L273.8 394.8 L274.8 396.8 L275.7 398.7 L276.7 400.6 L277.7 402.4 L278.7 404.2 L279.6 405.8 L280.6 407.4 L281.6 409.0 L282.5 410.4 L283.5 411.8 L284.5 413.0 L285.5 414.2 L286.4 415.3 L287.4 416.4 L288.4 417.5 L289.4 418.5 L292.3 421.4 L295.2 424.0 L298.1 426.5 L301.0 428.8 L304.0 431.0 L306.9 433.2 L309.8 435.2 L312.7 437.2 L315.6 439.3 L318.6 441.4 L321.5 443.5 L324.4 445.7 L327.3 447.9 L330.2 450.1 L333.2 452.3 L336.1 454.5 L339.0 456.5 L341.9 458.6 L344.8 460.5 L347.8 462.3 L350.7 464.1 L353.6 465.8 L356.5 467.5 L359.4 469.1 L362.4 470.5 L365.3 471.9 L368.2 473.2 L371.1 474.3 L374.0 475.4 L377.0 476.3 L379.9 477.2 L382.8 478.0 L385.7 478.7 L388.6 479.4 L391.6 480.0 L394.5 480.6 L397.4 481.1 L400.3 481.7 L403.2 482.2 L406.2 482.7 L409.1 483.3 L412.0 483.9 L414.9 484.5 L417.8 485.1 L420.8 485.7 L423.7 486.4 L426.6 487.0 L429.5 487.7 L432.4 488.3 L435.4 489.0 L438.3 489.6 L441.2 490.2 L444.1 490.8 L447.0 491.4 L450.0 492.0 L452.9 492.5 L455.8 493.0 L458.7 493.4 L461.6 493.9 L464.6 494.3 L467.5 494.8 L470.4 495.2 L473.3 495.6 L476.2 495.9 L479.2 496.3 L482.1 496.6 L485.0 496.9 L487.9 497.1 L490.8 497.4 L493.8 497.7 L496.7 497.9 L499.6 498.2 L502.5 498.4 L505.4 498.7 L508.4 498.9 L511.3 499.1 L514.2 499.3 L517.1 499.5 L520.0 499.8 L523.0 500.0 L525.9 500.2 L528.8 500.4 L531.7 500.6 L534.6 500.8 L537.6 501.0 L540.5 501.2 L543.4 501.4 L546.3 501.6 L549.2 501.9 L552.2 502.1 L555.1 502.3 L558.0 502.5 L560.9 502.7 L563.8 502.9 L566.8 503.1 L569.7 503.3 L572.6 503.5 L575.5 503.7 L578.4 503.9 L581.3 504.1 L584.3 504.3 L587.2 504.4 L590.1 504.6 L593.0 504.8 L595.9 505.0 L598.9 505.1 L601.8 505.3 L604.7 505.4 L607.6 505.6 L610.5 505.7 L613.5 505.9 L616.4 506.0 L619.3 506.2 L622.2 506.3 L625.1 506.4 L628.1 506.6 L631.0 506.7 L633.9 506.8 L636.8 506.9 L639.7 507.1 L642.7 507.2 L645.6 507.3 L648.5 507.4 L651.4 507.5 L654.3 507.7 L657.3 507.8 L660.2 507.9 L663.1 508.0 L666.0 508.1 L668.9 508.2 L671.9 508.3 L674.8 508.4 L677.7 508.5"/>
<path d="M94.7 360.2 L95.1 360.0 L95.5 359.4 L95.9 358.6 L96.3 357.4 L96.6 357.8 L97.0 359.7 L97.4 361.4 L97.8 363.0 L98.2 361.9 L98.6 345.9 L99.0 329.6 L99.4 316.1 L99.8 306.1 L100.2 299.8 L100.5 297.3 L100.9 298.2 L101.3 302.1 L101.7 307.4 L102.1 312.6 L102.5 316.3 L102.9 317.1 L103.3 313.2 L103.7 305.7 L104.0 295.7 L104.4 283.5 L104.8 269.5 L105.2 254.4 L105.6 239.1 L106.0 224.5 L106.4 211.9 L106.8 202.6 L107.2 198.1 L107.5 204.6 L107.9 220.4 L108.3 239.2 L108.7 255.7 L109.1 265.9 L109.5 266.1 L109.9 256.3 L110.3 239.5 L110.7 218.6 L111.1 197.6 L111.4 184.6 L111.8 180.2 L112.2 183.8 L112.6 191.9 L113.0 204.5 L113.4 220.0 L113.8 235.4 L114.2 249.2 L114.6 260.2 L114.9 267.6 L115.3 270.1 L115.7 266.2 L116.1 254.9 L116.5 237.7 L116.9 216.4 L117.3 194.1 L117.7 176.7 L118.1 163.5 L118.4 158.0 L118.8 160.6 L119.2 167.9 L119.6 178.5 L120.0 191.1 L120.4 206.2 L120.8 222.4 L121.2 237.0 L121.6 249.1 L122.0 258.1 L122.3 263.2 L122.7 263.7 L123.1 258.9 L123.5 249.4 L123.9 235.7 L124.3 218.8 L124.7 199.6 L125.1 182.9 L125.5 167.0 L125.8 153.0 L126.2 142.6 L126.6 137.7 L127.0 139.7 L127.4 147.8 L127.8 160.5 L128.2 175.8 L128.6 192.1 L129.0 210.9 L129.3 229.3 L129.7 244.9 L130.1 257.0 L130.5 264.8 L130.9 267.5 L131.3 263.7 L131.7 250.9 L132.1 230.1 L132.5 202.6 L132.9 170.1 L133.2 134.2 L133.6 98.7 L134.0 68.5 L134.4 49.3 L134.8 46.6 L135.2 60.9 L135.6 87.5 L136.0 121.0 L136.4 156.6 L136.7 190.1 L137.1 219.7 L137.5 243.7 L137.9 261.0 L138.3 267.8 L138.7 269.5 L139.1 270.9 L139.5 272.1 L139.9 273.0 L140.3 273.7 L140.6 274.2 L141.0 274.5 L141.4 274.6 L141.8 274.5 L142.2 274.3 L142.6 273.8 L143.0 273.3 L143.4 272.6 L143.8 271.8 L144.1 270.9 L144.5 269.9 L144.9 268.8 L145.3 267.6 L145.7 266.4 L146.1 265.0 L146.5 263.6 L146.9 262.1 L147.3 260.5 L147.6 259.0 L148.0 257.4 L148.4 255.8 L148.8 254.2 L149.2 252.6 L149.6 251.0 L150.0 249.5 L150.4 248.1 L150.8 246.7 L151.2 245.4 L151.5 244.2 L151.9 243.1 L152.3 242.1 L152.7 241.3 L153.1 240.7 L153.5 240.2 L153.9 240.0 L154.3 240.1 L154.7 240.4 L155.0 241.2 L155.4 242.3 L155.8 243.9 L156.2 245.8 L156.6 248.0 L157.0 250.6 L157.4 253.3 L157.8 256.3 L158.2 259.4 L158.5 262.7 L158.9 266.1 L159.3 269.6 L159.7 273.1 L160.1 276.7 L160.5 280.2 L160.9 283.7 L161.3 287.1 L161.7 290.5 L162.1 293.8 L162.4 296.9 L162.8 299.9 L163.8 306.5 L164.8 311.8 L165.8 315.5 L166.7 317.2 L167.7 316.5 L168.7 313.3 L169.6 308.1 L170.6 301.4 L171.6 293.5 L172.6 285.1 L173.5 276.8 L174.5 269.6 L175.5 264.3 L176.5 261.5 L177.4 262.2 L178.4 266.4 L179.4 272.3 L180.4 279.6 L181.3 287.8 L182.3 296.7 L183.3 306.0 L184.2 315.3 L185.2 324.5 L186.2 333.3 L187.2 341.6 L188.1 349.2 L189.1 356.2 L190.1 362.4 L191.1 367.7 L192.0 372.1 L193.0 375.7 L194.0 378.3 L194.9 380.1 L195.9 381.0 L196.9 380.4 L197.9 378.3 L198.8 374.9 L199.8 370.4 L200.8 365.0 L201.8 358.9 L202.7 352.4 L203.7 345.8 L204.7 339.3 L205.7 333.3 L206.6 328.3 L207.6 324.5 L208.6 322.5 L209.5 322.6 L210.5 324.5 L211.5 327.6 L212.5 331.6 L213.4 336.3 L214.4 341.5 L215.4 347.1 L216.4 352.8 L217.3 358.6 L218.3 364.3 L219.3 369.8 L220.3 375.0 L221.2 379.9 L222.2 384.3 L223.2 388.3 L224.1 391.8 L225.1 394.8 L226.1 397.2 L227.1 399.1 L228.0 400.3 L229.0 400.9 L230.0 401.1 L231.0 400.8 L231.9 400.2 L232.9 399.3 L233.9 398.1 L234.9 396.7 L235.8 395.0 L236.8 393.3 L237.8 391.4 L238.7 389.4 L239.7 387.3 L240.7 385.3 L241.7 383.2 L242.6 381.3 L243.6 379.4 L244.6 377.6 L245.6 376.0 L246.5 374.7 L247.5 373.6 L248.5 372.8 L249.5 372.3 L250.4 372.1 L251.4 372.2 L252.4 372.7 L253.3 373.7 L254.3 375.0 L255.3 376.7 L256.3 378.8 L257.2 381.1 L258.2 383.6 L259.2 386.3 L260.2 389.2 L261.1 392.0 L262.1 394.9 L263.1 397.8 L264.1 400.7 L265.0 403.4 L266.0 406.1 L267.0 408.7 L267.9 411.1 L268.9 413.3 L269.9 415.4 L270.9 417.3 L271.8 419.0 L272.8 420.6 L273.8 421.9 L274.8 423.0 L275.7 423.8 L276.7 424.6 L277.7 425.2 L278.7 425.8 L279.6 426.4 L280.6 426.9 L281.6 427.4 L282.5 427.8 L283.5 428.2 L284.5 428.6 L285.5 428.9 L286.4 429.3 L287.4 429.6 L288.4 429.9 L289.4 430.2 L292.3 431.1 L295.2 432.0 L298.1 432.9 L301.0 434.0 L304.0 435.2 L306.9 436.6 L309.8 438.2 L312.7 440.1 L315.6 442.2 L318.6 444.8 L321.5 447.8 L324.4 451.0 L327.3 454.3 L330.2 457.5 L333.2 460.4 L336.1 463.1 L339.0 465.4 L341.9 467.4 L344.8 469.0 L347.8 470.3 L350.7 471.5 L353.6 472.7 L356.5 473.9 L359.4 475.1 L362.4 476.4 L365.3 477.6 L368.2 478.7 L371.1 479.8 L374.0 480.9 L377.0 481.9 L379.9 482.7 L382.8 483.5 L385.7 484.2 L388.6 484.8 L391.6 485.3 L394.5 485.8 L397.4 486.3 L400.3 486.8 L403.2 487.3 L406.2 487.9 L409.1 488.5 L412.0 489.1 L414.9 489.8 L417.8 490.4 L420.8 491.1 L423.7 491.7 L426.6 492.4 L429.5 493.0 L432.4 493.6 L435.4 494.1 L438.3 494.6 L441.2 495.1 L444.1 495.6 L447.0 496.0 L450.0 496.5 L452.9 496.9 L455.8 497.4 L458.7 497.8 L461.6 498.2 L464.6 498.6 L467.5 499.0 L470.4 499.3 L473.3 499.7 L476.2 500.0 L479.2 500.3 L482.1 500.6 L485.0 500.9 L487.9 501.1 L490.8 501.4 L493.8 501.7 L496.7 501.9 L499.6 502.2 L502.5 502.5 L505.4 502.8 L508.4 503.1 L511.3 503.3 L514.2 503.6 L517.1 503.9 L520.0 504.2 L523.0 504.5 L525.9 504.7 L528.8 505.0 L531.7 505.3 L534.6 505.5 L537.6 505.8 L540.5 506.0 L543.4 506.2 L546.3 506.5 L549.2 506.7 L552.2 506.9 L555.1 507.0 L558.0 507.2 L560.9 507.4 L563.8 507.5 L566.8 507.6 L569.7 507.7 L572.6 507.8 L575.5 507.8 L578.4 507.9 L581.3 507.9 L584.3 507.9 L587.2 507.9 L590.1 507.9 L593.0 507.9 L595.9 507.9 L598.9 507.9 L601.8 507.9 L604.7 507.9 L607.6 507.9 L610.5 507.9 L613.5 507.9 L616.4 507.9 L619.3 507.8 L622.2 507.8 L625.1 507.8 L628.1 507.8 L631.0 507.7 L633.9 507.7 L636.8 507.7 L639.7 507.6 L642.7 507.6 L645.6 507.5 L648.5 507.5 L651.4 507.4 L654.3 507.4 L657.3 507.3 L660.2 507.2 L663.1 507.2 L666.0 507.1 L668.9 507.0 L671.9 506.9 L674.8 506.8 L677.7 506.7"/>
<path d="M94.7 372.9 L95.1 372.7 L95.5 372.2 L95.9 371.4 L96.3 370.4 L96.6 366.6 L97.0 359.9 L97.4 355.6 L97.8 360.8 L98.2 367.2 L98.6 372.4 L99.0 372.8 L99.4 369.7 L99.8 363.2 L100.2 353.8 L100.5 341.2 L100.9 326.0 L101.3 309.1 L101.7 292.0 L102.1 277.1 L102.5 266.6 L102.9 262.0 L103.3 262.8 L103.7 267.3 L104.0 274.2 L104.4 282.3 L104.8 290.3 L105.2 297.2 L105.6 301.9 L106.0 303.6 L106.4 301.4 L106.8 294.2 L107.2 282.4 L107.5 266.8 L107.9 248.4 L108.3 228.4 L108.7 208.5 L109.1 192.1 L109.5 181.9 L109.9 177.4 L110.3 180.0 L110.7 188.4 L111.1 201.2 L111.4 218.1 L111.8 234.8 L112.2 249.4 L112.6 260.6 L113.0 267.2 L113.4 268.0 L113.8 264.3 L114.2 257.2 L114.6 247.5 L114.9 236.1 L115.3 224.0 L115.7 212.4 L116.1 202.8 L116.5 196.7 L116.9 195.5 L117.3 198.0 L117.7 204.2 L118.1 212.7 L118.4 222.9 L118.8 233.9 L119.2 245.2 L119.6 256.2 L120.0 266.3 L120.4 275.2 L120.8 282.5 L121.2 287.9 L121.6 291.1 L122.0 291.6 L122.3 288.2 L122.7 281.6 L123.1 272.8 L123.5 262.4 L123.9 251.6 L124.3 241.4 L124.7 233.3 L125.1 228.8 L125.5 228.4 L125.8 229.1 L126.2 230.3 L126.6 232.1 L127.0 234.3 L127.4 236.8 L127.8 239.6 L128.2 242.7 L128.6 245.9 L129.0 249.1 L129.3 252.4 L129.7 255.7 L130.1 258.8 L130.5 261.8 L130.9 264.6 L131.3 267.2 L131.7 269.4 L132.1 271.3 L132.5 272.8 L132.9 273.9 L133.2 274.5 L133.6 274.6 L134.0 274.1 L134.4 272.9 L134.8 271.0 L135.2 268.4 L135.6 264.9 L136.0 249.2 L136.4 226.1 L136.7 196.5 L137.1 162.4 L137.5 124.3 L137.9 86.1 L138.3 52.7 L138.7 29.6 L139.1 22.4 L139.5 34.3 L139.9 61.3 L140.3 97.2 L140.6 136.4 L141.0 174.0 L141.4 206.9 L141.8 234.0 L142.2 253.8 L142.6 265.1 L143.0 266.5 L143.4 267.4 L143.8 267.8 L144.1 267.9 L144.5 267.4 L144.9 266.6 L145.3 265.3 L145.7 263.6 L146.1 261.5 L146.5 259.1 L146.9 256.4 L147.3 253.3 L147.6 249.8 L148.0 246.1 L148.4 242.1 L148.8 237.9 L149.2 233.3 L149.6 228.6 L150.0 223.7 L150.4 218.6 L150.8 213.3 L151.2 208.0 L151.5 202.5 L151.9 197.0 L152.3 191.5 L152.7 186.1 L153.1 180.7 L153.5 175.5 L153.9 170.6 L154.3 166.0 L154.7 161.8 L155.0 158.1 L155.4 154.9 L155.8 152.2 L156.2 150.2 L156.6 148.9 L157.0 148.1 L157.4 148.5 L157.8 150.3 L158.2 153.6 L158.5 158.1 L158.9 163.7 L159.3 170.2 L159.7 177.5 L160.1 185.4 L160.5 193.7 L160.9 202.3 L161.3 211.1 L161.7 219.8 L162.1 228.5 L162.4 237.0 L162.8 245.1 L163.8 263.7 L164.8 278.7 L165.8 289.2 L166.7 294.6 L167.7 296.9 L168.7 297.5 L169.6 296.5 L170.6 294.2 L171.6 290.7 L172.6 286.3 L173.5 281.3 L174.5 276.4 L175.5 271.6 L176.5 267.5 L177.4 264.2 L178.4 262.1 L179.4 261.6 L180.4 263.0 L181.3 266.5 L182.3 272.3 L183.3 280.9 L184.2 291.3 L185.2 302.8 L186.2 314.9 L187.2 327.1 L188.1 339.0 L189.1 350.2 L190.1 360.7 L191.1 370.1 L192.0 378.4 L193.0 385.6 L194.0 391.7 L194.9 396.6 L195.9 400.2 L196.9 402.6 L197.9 403.7 L198.8 403.3 L199.8 401.6 L200.8 398.7 L201.8 394.9 L202.7 390.3 L203.7 385.0 L204.7 379.4 L205.7 373.7 L206.6 368.0 L207.6 362.8 L208.6 358.4 L209.5 355.1 L210.5 353.2 L211.5 353.2 L212.5 354.9 L213.4 357.3 L214.4 360.2 L215.4 363.6 L216.4 367.3 L217.3 371.3 L218.3 375.5 L219.3 379.8 L220.3 384.1 L221.2 388.5 L222.2 392.8 L223.2 397.1 L224.1 401.3 L225.1 405.3 L226.1 409.1 L227.1 412.8 L228.0 416.3 L229.0 419.6 L230.0 422.6 L231.0 425.4 L231.9 428.0 L232.9 430.4 L233.9 432.5 L234.9 434.4 L235.8 436.1 L236.8 437.5 L237.8 438.6 L238.7 439.6 L239.7 440.3 L240.7 440.9 L241.7 441.2 L242.6 441.5 L243.6 441.7 L244.6 441.8 L245.6 441.9 L246.5 441.9 L247.5 441.9 L248.5 441.8 L249.5 441.8 L250.4 441.8 L251.4 441.8 L252.4 441.9 L253.3 442.0 L254.3 442.1 L255.3 442.4 L256.3 442.7 L257.2 443.0 L258.2 443.5 L259.2 444.1 L260.2 444.7 L261.1 445.5 L262.1 446.4 L263.1 447.4 L264.1 448.4 L265.0 449.6 L266.0 450.7 L267.0 451.9 L267.9 453.1 L268.9 454.4 L269.9 455.6 L270.9 456.7 L271.8 457.9 L272.8 459.1 L273.8 460.2 L274.8 461.3 L275.7 462.4 L276.7 463.4 L277.7 464.3 L278.7 465.3 L279.6 466.1 L280.6 466.9 L281.6 467.7 L282.5 468.4 L283.5 469.0 L284.5 469.6 L285.5 470.1 L286.4 470.6 L287.4 470.9 L288.4 471.2 L289.4 471.5 L292.3 472.1 L295.2 472.4 L298.1 472.7 L301.0 472.8 L304.0 472.9 L306.9 473.0 L309.8 473.2 L312.7 473.5 L315.6 474.0 L318.6 474.5 L321.5 475.2 L324.4 476.0 L327.3 476.9 L330.2 478.1 L333.2 479.3 L336.1 480.7 L339.0 482.1 L341.9 483.5 L344.8 485.0 L347.8 486.3 L350.7 487.6 L353.6 488.9 L356.5 490.1 L359.4 491.2 L362.4 492.2 L365.3 493.1 L368.2 493.9 L371.1 494.6 L374.0 495.3 L377.0 495.8 L379.9 496.3 L382.8 496.8 L385.7 497.2 L388.6 497.6 L391.6 497.9 L394.5 498.3 L397.4 498.6 L400.3 499.0 L403.2 499.4 L406.2 499.7 L409.1 500.1 L412.0 500.4 L414.9 500.8 L417.8 501.1 L420.8 501.5 L423.7 501.8 L426.6 502.2 L429.5 502.5 L432.4 502.9 L435.4 503.2 L438.3 503.6 L441.2 503.9 L444.1 504.3 L447.0 504.6 L450.0 505.0 L452.9 505.3 L455.8 505.6 L458.7 505.9 L461.6 506.2 L464.6 506.5 L467.5 506.8 L470.4 507.0 L473.3 507.2 L476.2 507.4 L479.2 507.6 L482.1 507.7 L485.0 507.8 L487.9 507.9 L490.8 507.9 L493.8 508.0 L496.7 508.1 L499.6 508.1 L502.5 508.2 L505.4 508.2 L508.4 508.3 L511.3 508.3 L514.2 508.4 L517.1 508.4 L520.0 508.5 L523.0 508.5 L525.9 508.6 L528.8 508.6 L531.7 508.7 L534.6 508.8 L537.6 508.8 L540.5 508.9 L543.4 509.0 L546.3 509.0 L549.2 509.1 L552.2 509.2 L555.1 509.2 L558.0 509.3 L560.9 509.4 L563.8 509.4 L566.8 509.5 L569.7 509.6 L572.6 509.7 L575.5 509.7 L578.4 509.8 L581.3 509.9 L584.3 510.0 L587.2 510.0 L590.1 510.1 L593.0 510.2 L595.9 510.3 L598.9 510.4 L601.8 510.4 L604.7 510.5 L607.6 510.6 L610.5 510.7 L613.5 510.7 L616.4 510.8 L619.3 510.9 L622.2 511.0 L625.1 511.0 L628.1 511.1 L631.0 511.2 L633.9 511.2 L636.8 511.3 L639.7 511.4 L642.7 511.5 L645.6 511.5 L648.5 511.6 L651.4 511.7 L654.3 511.8 L657.3 511.8 L660.2 511.9 L663.1 512.0 L666.0 512.1 L668.9 512.1 L671.9 512.2 L674.8 512.3 L677.7 512.4"/>
<path d="M94.7 383.1 L95.1 382.7 L95.5 382.3 L95.9 381.9 L96.3 381.4 L96.6 379.5 L97.0 379.7 L97.4 384.8 L97.8 390.4 L98.2 395.1 L98.6 397.6 L99.0 395.0 L99.4 390.2 L99.8 384.2 L100.2 376.8 L100.5 368.2 L100.9 358.9 L101.3 349.1 L101.7 340.9 L102.1 335.3 L102.5 333.0 L102.9 334.0 L103.3 337.4 L103.7 342.1 L104.0 346.9 L104.4 350.9 L104.8 353.2 L105.2 352.5 L105.6 349.0 L106.0 343.0 L106.4 336.0 L106.8 327.4 L107.2 318.5 L107.5 309.9 L107.9 304.0 L108.3 301.2 L108.7 301.6 L109.1 304.9 L109.5 309.2 L109.9 314.1 L110.3 317.7 L110.7 321.2 L111.1 323.1 L111.4 323.2 L111.8 322.8 L112.2 316.5 L112.6 304.9 L113.0 289.3 L113.4 271.7 L113.8 254.7 L114.2 239.8 L114.6 234.0 L114.9 237.9 L115.3 249.7 L115.7 265.5 L116.1 283.4 L116.5 301.0 L116.9 316.1 L117.3 328.2 L117.7 335.9 L118.1 338.6 L118.4 336.3 L118.8 330.7 L119.2 322.2 L119.6 310.5 L120.0 297.6 L120.4 283.4 L120.8 268.7 L121.2 254.2 L121.6 241.2 L122.0 231.3 L122.3 226.0 L122.7 223.8 L123.1 225.4 L123.5 227.4 L123.9 230.8 L124.3 235.2 L124.7 240.4 L125.1 245.9 L125.5 251.5 L125.8 256.8 L126.2 261.7 L126.6 265.6 L127.0 267.9 L127.4 268.4 L127.8 267.8 L128.2 265.5 L128.6 262.0 L129.0 257.0 L129.3 251.6 L129.7 245.5 L130.1 238.7 L130.5 231.3 L130.9 223.7 L131.3 215.5 L131.7 207.5 L132.1 199.9 L132.5 192.8 L132.9 186.6 L133.2 181.4 L133.6 176.6 L134.0 174.7 L134.4 174.7 L134.8 176.3 L135.2 179.5 L135.6 186.6 L136.0 192.0 L136.4 198.4 L136.7 204.7 L137.1 212.4 L137.5 220.4 L137.9 228.4 L138.3 236.1 L138.7 243.4 L139.1 250.0 L139.5 255.8 L139.9 260.6 L140.3 264.2 L140.6 266.4 L141.0 267.3 L141.4 267.6 L141.8 266.9 L142.2 265.5 L142.6 263.4 L143.0 260.9 L143.4 258.6 L143.8 255.8 L144.1 252.8 L144.5 249.6 L144.9 246.3 L145.3 243.0 L145.7 239.8 L146.1 236.6 L146.5 233.7 L146.9 231.0 L147.3 228.5 L147.6 226.5 L148.0 225.0 L148.4 224.3 L148.8 224.3 L149.2 225.2 L149.6 227.0 L150.0 229.8 L150.4 233.7 L150.8 239.0 L151.2 243.0 L151.5 250.2 L151.9 258.1 L152.3 266.4 L152.7 274.9 L153.1 283.5 L153.5 292.0 L153.9 300.4 L154.3 308.4 L154.7 316.0 L155.0 322.2 L155.4 329.6 L155.8 336.4 L156.2 341.5 L156.6 346.9 L157.0 350.6 L157.4 354.3 L157.8 357.2 L158.2 358.1 L158.5 359.3 L158.9 358.8 L159.3 358.9 L159.7 358.9 L160.1 357.4 L160.5 356.2 L160.9 354.0 L161.3 352.2 L161.7 349.6 L162.1 347.2 L162.4 344.5 L162.8 342.2 L163.8 333.5 L164.8 325.1 L165.8 316.7 L166.7 309.0 L167.7 303.3 L168.7 300.5 L169.6 301.7 L170.6 306.1 L171.6 313.0 L172.6 321.9 L173.5 331.2 L174.5 341.0 L175.5 350.7 L176.5 358.9 L177.4 367.5 L178.4 375.3 L179.4 382.1 L180.4 387.7 L181.3 392.2 L182.3 395.4 L183.3 397.1 L184.2 397.4 L185.2 396.9 L186.2 395.7 L187.2 394.0 L188.1 391.8 L189.1 389.4 L190.1 387.0 L191.1 384.7 L192.0 382.7 L193.0 382.0 L194.0 381.5 L194.9 382.1 L195.9 383.8 L196.9 386.7 L197.9 390.7 L198.8 395.5 L199.8 400.8 L200.8 406.4 L201.8 412.1 L202.7 417.8 L203.7 423.3 L204.7 428.5 L205.7 433.4 L206.6 437.9 L207.6 442.0 L208.6 445.4 L209.5 448.7 L210.5 451.5 L211.5 453.8 L212.5 455.7 L213.4 457.0 L214.4 457.8 L215.4 458.3 L216.4 458.4 L217.3 458.2 L218.3 458.0 L219.3 457.6 L220.3 457.0 L221.2 456.3 L222.2 455.5 L223.2 454.8 L224.1 454.0 L225.1 453.6 L226.1 453.0 L227.1 452.6 L228.0 452.3 L229.0 452.3 L230.0 452.5 L231.0 453.0 L231.9 453.8 L232.9 455.1 L233.9 456.4 L234.9 457.9 L235.8 459.5 L236.8 461.3 L237.8 463.1 L238.7 465.0 L239.7 466.9 L240.7 468.8 L241.7 470.6 L242.6 472.5 L243.6 474.3 L244.6 476.0 L245.6 477.7 L246.5 479.2 L247.5 480.6 L248.5 481.9 L249.5 482.9 L250.4 483.9 L251.4 484.8 L252.4 485.6 L253.3 486.3 L254.3 486.8 L255.3 487.3 L256.3 487.6 L257.2 487.6 L258.2 487.8 L259.2 487.8 L260.2 487.8 L261.1 487.8 L262.1 487.7 L263.1 487.5 L264.1 487.3 L265.0 487.1 L266.0 486.7 L267.0 486.5 L267.9 486.2 L268.9 486.0 L269.9 486.0 L270.9 486.0 L271.8 485.8 L272.8 485.9 L273.8 486.0 L274.8 486.3 L275.7 486.6 L276.7 486.7 L277.7 487.1 L278.7 487.4 L279.6 487.7 L280.6 488.0 L281.6 488.5 L282.5 488.9 L283.5 489.3 L284.5 489.6 L285.5 490.0 L286.4 490.4 L287.4 490.8 L288.4 491.2 L289.4 491.8 L292.3 493.0 L295.2 494.2 L298.1 495.4 L301.0 496.5 L304.0 497.4 L306.9 498.4 L309.8 499.2 L312.7 500.1 L315.6 501.0 L318.6 501.7 L321.5 502.5 L324.4 503.2 L327.3 503.8 L330.2 504.4 L333.2 504.9 L336.1 505.4 L339.0 505.7 L341.9 506.0 L344.8 506.3 L347.8 506.4 L350.7 506.4 L353.6 506.5 L356.5 506.6 L359.4 506.6 L362.4 506.8 L365.3 506.9 L368.2 507.0 L371.1 507.1 L374.0 507.2 L377.0 507.3 L379.9 507.4 L382.8 507.4 L385.7 507.5 L388.6 507.7 L391.6 507.9 L394.5 508.2 L397.4 508.6 L400.3 509.0 L403.2 509.5 L406.2 509.9 L409.1 510.4 L412.0 510.8 L414.9 511.2 L417.8 511.6 L420.8 511.9 L423.7 512.2 L426.6 512.4 L429.5 512.6 L432.4 512.7 L435.4 512.7 L438.3 512.8 L441.2 512.8 L444.1 512.9 L447.0 512.9 L450.0 512.9 L452.9 513.0 L455.8 513.0 L458.7 513.1 L461.6 513.1 L464.6 513.1 L467.5 513.2 L470.4 513.2 L473.3 513.2 L476.2 513.3 L479.2 513.3 L482.1 513.3 L485.0 513.4 L487.9 513.4 L490.8 513.4 L493.8 513.5 L496.7 513.5 L499.6 513.6 L502.5 513.6 L505.4 513.7 L508.4 513.8 L511.3 513.8 L514.2 513.9 L517.1 514.0 L520.0 514.1 L523.0 514.2 L525.9 514.2 L528.8 514.3 L531.7 514.4 L534.6 514.5 L537.6 514.6 L540.5 514.7 L543.4 514.8 L546.3 514.9 L549.2 515.0 L552.2 515.1 L555.1 515.2 L558.0 515.3 L560.9 515.4 L563.8 515.4 L566.8 515.5 L569.7 515.6 L572.6 515.7 L575.5 515.8 L578.4 515.9 L581.3 516.0 L584.3 516.0 L587.2 516.1 L590.1 516.2 L593.0 516.3 L595.9 516.4 L598.9 516.5 L601.8 516.5 L604.7 516.6 L607.6 516.7 L610.5 516.8 L613.5 516.9 L616.4 517.0 L619.3 517.0 L622.2 517.1 L625.1 517.2 L628.1 517.2 L631.0 517.3 L633.9 517.3 L636.8 517.4 L639.7 517.4 L642.7 517.5 L645.6 517.6 L648.5 517.6 L651.4 517.7 L654.3 517.7 L657.3 517.8 L660.2 517.8 L663.1 517.9 L666.0 517.9 L668.9 518.0 L671.9 518.0 L674.8 518.1 L677.7 518.2"/>
<path d="M94.7 402.3 L95.1 402.3 L95.5 402.2 L95.9 401.9 L96.3 401.4 L96.6 400.0 L97.0 398.3 L97.4 401.5 L97.8 405.1 L98.2 407.7 L98.6 408.3 L99.0 404.7 L99.4 399.8 L99.8 394.1 L100.2 387.5 L100.5 380.2 L100.9 372.4 L101.3 364.3 L101.7 357.5 L102.1 352.4 L102.5 349.6 L102.9 348.9 L103.3 349.7 L103.7 351.6 L104.0 353.7 L104.4 355.4 L104.8 356.4 L105.2 355.6 L105.6 353.0 L106.0 348.3 L106.4 342.3 L106.8 334.3 L107.2 325.0 L107.5 314.2 L107.9 303.7 L108.3 293.2 L108.7 283.8 L109.1 276.6 L109.5 271.3 L109.9 268.9 L110.3 268.2 L110.7 270.7 L111.1 274.4 L111.4 279.4 L111.8 286.9 L112.2 291.9 L112.6 296.2 L113.0 299.0 L113.4 300.0 L113.8 298.5 L114.2 291.0 L114.6 280.8 L114.9 268.6 L115.3 257.7 L115.7 249.6 L116.1 248.1 L116.5 253.0 L116.9 261.4 L117.3 272.5 L117.7 284.1 L118.1 295.0 L118.4 303.7 L118.8 309.4 L119.2 311.2 L119.6 308.1 L120.0 302.7 L120.4 294.7 L120.8 284.5 L121.2 272.4 L121.6 259.2 L122.0 245.6 L122.3 232.8 L122.7 221.8 L123.1 215.8 L123.5 212.6 L123.9 212.2 L124.3 213.8 L124.7 217.2 L125.1 222.1 L125.5 228.4 L125.8 235.9 L126.2 244.4 L126.6 253.2 L127.0 262.0 L127.4 270.5 L127.8 278.5 L128.2 285.2 L128.6 290.9 L129.0 294.8 L129.3 298.0 L129.7 299.6 L130.1 300.0 L130.5 299.3 L130.9 297.8 L131.3 295.1 L131.7 291.7 L132.1 287.6 L132.5 282.8 L132.9 277.5 L133.2 271.7 L133.6 264.7 L134.0 258.3 L134.4 251.9 L134.8 245.7 L135.2 239.9 L135.6 237.1 L136.0 232.8 L136.4 229.7 L136.7 227.0 L137.1 226.1 L137.5 226.0 L137.9 226.7 L138.3 228.0 L138.7 229.8 L139.1 232.0 L139.5 234.3 L139.9 236.8 L140.3 239.3 L140.6 241.7 L141.0 244.0 L141.4 246.7 L141.8 248.8 L142.2 250.8 L142.6 252.4 L143.0 253.9 L143.4 255.8 L143.8 257.5 L144.1 259.0 L144.5 260.3 L144.9 261.3 L145.3 261.9 L145.7 262.1 L146.1 261.8 L146.5 261.0 L146.9 259.7 L147.3 257.9 L147.6 255.6 L148.0 253.0 L148.4 250.2 L148.8 247.1 L149.2 243.8 L149.6 240.4 L150.0 236.9 L150.4 233.2 L150.8 229.6 L151.2 223.6 L151.5 220.1 L151.9 216.9 L152.3 213.9 L152.7 211.4 L153.1 209.3 L153.5 207.7 L153.9 206.8 L154.3 206.7 L154.7 207.3 L155.0 207.1 L155.4 209.9 L155.8 213.2 L156.2 215.4 L156.6 219.5 L157.0 222.3 L157.4 227.0 L157.8 231.9 L158.2 235.4 L158.5 240.6 L158.9 244.0 L159.3 249.1 L159.7 254.9 L160.1 258.7 L160.5 263.9 L160.9 268.0 L161.3 273.0 L161.7 277.3 L162.1 282.1 L162.4 286.8 L162.8 292.1 L163.8 301.6 L164.8 310.7 L165.8 317.8 L166.7 322.6 L167.7 324.9 L168.7 325.6 L169.6 325.4 L170.6 324.4 L171.6 322.7 L172.6 320.5 L173.5 316.8 L174.5 312.5 L175.5 307.9 L176.5 301.4 L177.4 296.3 L178.4 291.4 L179.4 287.0 L180.4 283.3 L181.3 280.9 L182.3 280.1 L183.3 282.1 L184.2 285.7 L185.2 291.1 L186.2 297.5 L187.2 304.7 L188.1 312.4 L189.1 320.4 L190.1 328.4 L191.1 336.2 L192.0 343.5 L193.0 351.3 L194.0 357.7 L194.9 363.6 L195.9 369.0 L196.9 373.6 L197.9 377.7 L198.8 381.0 L199.8 383.5 L200.8 385.3 L201.8 386.2 L202.7 386.5 L203.7 386.3 L204.7 385.6 L205.7 384.5 L206.6 382.9 L207.6 381.1 L208.6 378.4 L209.5 376.0 L210.5 373.5 L211.5 370.8 L212.5 368.1 L213.4 365.2 L214.4 362.4 L215.4 359.8 L216.4 357.4 L217.3 355.5 L218.3 354.2 L219.3 353.4 L220.3 353.1 L221.2 353.2 L222.2 353.9 L223.2 355.2 L224.1 357.2 L225.1 360.4 L226.1 364.0 L227.1 368.4 L228.0 373.4 L229.0 378.9 L230.0 384.7 L231.0 390.5 L231.9 396.3 L232.9 402.6 L233.9 408.0 L234.9 413.3 L235.8 418.2 L236.8 422.8 L237.8 427.0 L238.7 430.7 L239.7 434.1 L240.7 437.0 L241.7 439.3 L242.6 441.4 L243.6 443.1 L244.6 444.6 L245.6 446.0 L246.5 447.2 L247.5 448.2 L248.5 449.0 L249.5 449.3 L250.4 449.9 L251.4 450.3 L252.4 450.6 L253.3 450.9 L254.3 451.0 L255.3 451.1 L256.3 451.2 L257.2 450.7 L258.2 450.6 L259.2 450.5 L260.2 450.4 L261.1 450.2 L262.1 450.0 L263.1 449.8 L264.1 449.5 L265.0 449.3 L266.0 448.8 L267.0 448.6 L267.9 448.4 L268.9 448.2 L269.9 448.5 L270.9 448.8 L271.8 448.8 L272.8 449.1 L273.8 449.5 L274.8 449.9 L275.7 450.3 L276.7 450.4 L277.7 450.9 L278.7 451.3 L279.6 451.5 L280.6 451.9 L281.6 452.6 L282.5 453.0 L283.5 453.5 L284.5 453.7 L285.5 454.2 L286.4 454.6 L287.4 454.9 L288.4 455.3 L289.4 456.0 L292.3 457.2 L295.2 458.3 L298.1 459.5 L301.0 460.4 L304.0 461.1 L306.9 461.9 L309.8 462.7 L312.7 463.8 L315.6 464.7 L318.6 465.7 L321.5 466.8 L324.4 467.9 L327.3 469.1 L330.2 470.4 L333.2 471.6 L336.1 472.6 L339.0 473.2 L341.9 474.0 L344.8 474.6 L347.8 475.0 L350.7 475.2 L353.6 475.4 L356.5 475.5 L359.4 475.6 L362.4 476.0 L365.3 476.2 L368.2 476.3 L371.1 476.5 L374.0 476.8 L377.0 477.1 L379.9 477.4 L382.8 477.9 L385.7 478.4 L388.6 479.3 L391.6 480.1 L394.5 480.9 L397.4 481.8 L400.3 482.8 L403.2 483.9 L406.2 485.0 L409.1 486.1 L412.0 487.1 L414.9 488.1 L417.8 489.2 L420.8 490.2 L423.7 491.1 L426.6 492.1 L429.5 493.0 L432.4 493.9 L435.4 494.5 L438.3 495.3 L441.2 496.2 L444.1 497.0 L447.0 497.9 L450.0 498.7 L452.9 499.5 L455.8 500.3 L458.7 501.0 L461.6 501.7 L464.6 502.4 L467.5 503.1 L470.4 503.7 L473.3 504.2 L476.2 504.7 L479.2 505.2 L482.1 505.6 L485.0 505.9 L487.9 506.3 L490.8 506.6 L493.8 506.8 L496.7 507.1 L499.6 507.4 L502.5 507.6 L505.4 507.9 L508.4 508.2 L511.3 508.4 L514.2 508.6 L517.1 508.9 L520.0 509.1 L523.0 509.3 L525.9 509.5 L528.8 509.7 L531.7 509.9 L534.6 510.1 L537.6 510.2 L540.5 510.4 L543.4 510.5 L546.3 510.7 L549.2 510.8 L552.2 511.0 L555.1 511.1 L558.0 511.2 L560.9 511.4 L563.8 511.5 L566.8 511.6 L569.7 511.7 L572.6 511.8 L575.5 511.9 L578.4 512.0 L581.3 512.1 L584.3 512.2 L587.2 512.2 L590.1 512.3 L593.0 512.4 L595.9 512.5 L598.9 512.6 L601.8 512.7 L604.7 512.8 L607.6 512.9 L610.5 513.0 L613.5 513.1 L616.4 513.2 L619.3 513.3 L622.2 513.3 L625.1 513.4 L628.1 513.4 L631.0 513.5 L633.9 513.5 L636.8 513.6 L639.7 513.6 L642.7 513.7 L645.6 513.7 L648.5 513.8 L651.4 513.8 L654.3 513.8 L657.3 513.9 L660.2 513.9 L663.1 514.0 L666.0 514.0 L668.9 514.1 L671.9 514.1 L674.8 514.2 L677.7 514.2"/>
<path d="M94.7 395.9 L95.1 394.8 L95.5 393.8 L95.9 393.0 L96.3 392.5 L96.6 390.7 L97.0 387.3 L97.4 385.3 L97.8 386.6 L98.2 391.4 L98.6 396.8 L99.0 401.0 L99.4 404.0 L99.8 405.8 L100.2 406.4 L100.5 406.1 L100.9 405.0 L101.3 403.0 L101.7 400.8 L102.1 398.4 L102.5 396.0 L102.9 393.6 L103.3 391.4 L103.7 389.7 L104.0 388.7 L104.4 388.7 L104.8 389.3 L105.2 389.9 L105.6 390.6 L106.0 391.0 L106.4 391.1 L106.8 389.9 L107.2 387.5 L107.5 383.6 L107.9 379.4 L108.3 374.7 L108.7 369.9 L109.1 365.6 L109.5 361.4 L109.9 357.6 L110.3 353.5 L110.7 351.2 L111.1 350.1 L111.4 351.8 L111.8 356.8 L112.2 361.1 L112.6 365.4 L113.0 369.0 L113.4 371.2 L113.8 371.4 L114.2 368.3 L114.6 363.9 L114.9 358.0 L115.3 351.6 L115.7 344.9 L116.1 338.9 L116.5 334.6 L116.9 332.6 L117.3 332.9 L117.7 334.2 L118.1 336.4 L118.4 339.0 L118.8 342.0 L119.2 345.1 L119.6 347.7 L120.0 350.8 L120.4 353.6 L120.8 355.8 L121.2 357.3 L121.6 357.8 L122.0 357.2 L122.3 355.1 L122.7 351.5 L123.1 347.7 L123.5 342.1 L123.9 336.0 L124.3 329.7 L124.7 323.6 L125.1 318.2 L125.5 314.2 L125.8 312.0 L126.2 312.2 L126.6 314.0 L127.0 316.9 L127.4 320.7 L127.8 325.1 L128.2 329.4 L128.6 333.5 L129.0 337.0 L129.3 340.4 L129.7 343.0 L130.1 344.7 L130.5 345.3 L130.9 344.6 L131.3 342.8 L131.7 340.3 L132.1 337.2 L132.5 333.3 L132.9 328.8 L133.2 323.7 L133.6 317.3 L134.0 311.1 L134.4 304.7 L134.8 298.0 L135.2 291.3 L135.6 286.7 L136.0 280.4 L136.4 274.7 L136.7 269.1 L137.1 265.1 L137.5 262.3 L137.9 260.6 L138.3 260.3 L138.7 261.0 L139.1 262.8 L139.5 265.5 L139.9 269.0 L140.3 273.0 L140.6 277.6 L141.0 282.6 L141.4 288.3 L141.8 293.9 L142.2 299.7 L142.6 305.6 L143.0 311.5 L143.4 317.9 L143.8 323.9 L144.1 330.1 L144.5 336.2 L144.9 342.2 L145.3 348.0 L145.7 353.6 L146.1 358.9 L146.5 363.9 L146.9 368.5 L147.3 372.7 L147.6 376.5 L148.0 379.8 L148.4 382.6 L148.8 385.0 L149.2 386.9 L149.6 388.3 L150.0 389.4 L150.4 390.2 L150.8 390.5 L151.2 389.6 L151.5 389.4 L151.9 389.0 L152.3 388.3 L152.7 387.5 L153.1 386.5 L153.5 385.5 L153.9 384.5 L154.3 383.5 L154.7 382.7 L155.0 381.5 L155.4 381.8 L155.8 382.4 L156.2 382.9 L156.6 384.3 L157.0 385.1 L157.4 386.8 L157.8 388.7 L158.2 389.9 L158.5 391.9 L158.9 393.1 L159.3 395.1 L159.7 397.4 L160.1 398.8 L160.5 400.9 L160.9 402.4 L161.3 404.4 L161.7 406.0 L162.1 407.9 L162.4 409.7 L162.8 411.7 L163.8 415.1 L164.8 418.1 L165.8 419.9 L166.7 420.3 L167.7 419.6 L168.7 418.3 L169.6 416.3 L170.6 413.7 L171.6 410.6 L172.6 407.0 L173.5 402.6 L174.5 397.8 L175.5 392.8 L176.5 386.7 L177.4 381.5 L178.4 376.6 L179.4 372.3 L180.4 368.9 L181.3 366.8 L182.3 366.4 L183.3 368.4 L184.2 371.6 L185.2 376.0 L186.2 381.2 L187.2 386.9 L188.1 393.0 L189.1 399.2 L190.1 405.3 L191.1 411.3 L192.0 416.9 L193.0 422.6 L194.0 427.4 L194.9 431.6 L195.9 435.4 L196.9 438.5 L197.9 441.0 L198.8 443.0 L199.8 444.2 L200.8 444.8 L201.8 444.6 L202.7 443.8 L203.7 442.5 L204.7 440.8 L205.7 438.8 L206.6 436.6 L207.6 434.2 L208.6 431.6 L209.5 429.3 L210.5 427.4 L211.5 425.9 L212.5 424.8 L213.4 424.4 L214.4 424.8 L215.4 425.9 L216.4 427.5 L217.3 429.4 L218.3 431.8 L219.3 434.5 L220.3 437.3 L221.2 440.1 L222.2 443.1 L223.2 446.1 L224.1 449.1 L225.1 452.2 L226.1 455.1 L227.1 457.9 L228.0 460.6 L229.0 463.2 L230.0 465.6 L231.0 467.9 L231.9 470.0 L232.9 472.2 L233.9 474.0 L234.9 475.6 L235.8 477.0 L236.8 478.3 L237.8 479.4 L238.7 480.4 L239.7 481.1 L240.7 481.7 L241.7 482.1 L242.6 482.4 L243.6 482.6 L244.6 482.8 L245.6 483.0 L246.5 483.1 L247.5 483.2 L248.5 483.3 L249.5 483.1 L250.4 483.2 L251.4 483.2 L252.4 483.4 L253.3 483.5 L254.3 483.7 L255.3 484.0 L256.3 484.4 L257.2 484.6 L258.2 485.2 L259.2 485.8 L260.2 486.5 L261.1 487.2 L262.1 487.9 L263.1 488.6 L264.1 489.3 L265.0 489.9 L266.0 490.5 L267.0 491.1 L267.9 491.7 L268.9 492.2 L269.9 492.9 L270.9 493.5 L271.8 494.0 L272.8 494.6 L273.8 495.1 L274.8 495.6 L275.7 496.0 L276.7 496.3 L277.7 496.6 L278.7 496.9 L279.6 497.1 L280.6 497.2 L281.6 497.5 L282.5 497.6 L283.5 497.7 L284.5 497.8 L285.5 497.9 L286.4 498.0 L287.4 498.0 L288.4 498.0 L289.4 498.2 L292.3 498.4 L295.2 498.5 L298.1 498.7 L301.0 498.8 L304.0 498.9 L306.9 499.1 L309.8 499.2 L312.7 499.5 L315.6 499.6 L318.6 499.8 L321.5 500.0 L324.4 500.1 L327.3 500.3 L330.2 500.4 L333.2 500.5 L336.1 500.6 L339.0 500.6 L341.9 500.6 L344.8 500.7 L347.8 500.8 L350.7 500.8 L353.6 500.9 L356.5 501.1 L359.4 501.3 L362.4 501.6 L365.3 501.9 L368.2 502.2 L371.1 502.6 L374.0 502.9 L377.0 503.3 L379.9 503.6 L382.8 503.9 L385.7 504.2 L388.6 504.5 L391.6 504.8 L394.5 505.0 L397.4 505.3 L400.3 505.6 L403.2 505.9 L406.2 506.3 L409.1 506.6 L412.0 506.9 L414.9 507.2 L417.8 507.4 L420.8 507.7 L423.7 508.0 L426.6 508.2 L429.5 508.4 L432.4 508.6 L435.4 508.7 L438.3 508.9 L441.2 509.1 L444.1 509.2 L447.0 509.3 L450.0 509.4 L452.9 509.5 L455.8 509.6 L458.7 509.6 L461.6 509.6 L464.6 509.7 L467.5 509.7 L470.4 509.8 L473.3 509.8 L476.2 509.8 L479.2 509.9 L482.1 509.9 L485.0 509.9 L487.9 510.0 L490.8 510.0 L493.8 510.0 L496.7 510.1 L499.6 510.2 L502.5 510.2 L505.4 510.3 L508.4 510.5 L511.3 510.6 L514.2 510.7 L517.1 510.8 L520.0 511.0 L523.0 511.1 L525.9 511.3 L528.8 511.4 L531.7 511.6 L534.6 511.7 L537.6 511.9 L540.5 512.0 L543.4 512.2 L546.3 512.3 L549.2 512.4 L552.2 512.6 L555.1 512.7 L558.0 512.9 L560.9 513.0 L563.8 513.1 L566.8 513.2 L569.7 513.3 L572.6 513.4 L575.5 513.5 L578.4 513.6 L581.3 513.7 L584.3 513.8 L587.2 513.9 L590.1 514.0 L593.0 514.0 L595.9 514.1 L598.9 514.2 L601.8 514.3 L604.7 514.4 L607.6 514.5 L610.5 514.6 L613.5 514.6 L616.4 514.7 L619.3 514.8 L622.2 514.8 L625.1 514.9 L628.1 514.9 L631.0 514.9 L633.9 515.0 L636.8 515.0 L639.7 515.1 L642.7 515.1 L645.6 515.1 L648.5 515.2 L651.4 515.2 L654.3 515.2 L657.3 515.3 L660.2 515.3 L663.1 515.3 L666.0 515.4 L668.9 515.4 L671.9 515.4 L674.8 515.5 L677.7 515.5"/>
<path d="M94.7 371.3 L95.1 371.3 L95.5 371.1 L95.9 370.7 L96.3 370.1 L96.6 368.2 L97.0 364.5 L97.4 361.9 L97.8 361.0 L98.2 368.9 L98.6 376.4 L99.0 379.4 L99.4 379.0 L99.8 375.6 L100.2 369.4 L100.5 360.4 L100.9 348.4 L101.3 333.1 L101.7 316.5 L102.1 300.0 L102.5 285.4 L102.9 273.8 L103.3 266.6 L103.7 265.2 L104.0 267.5 L104.4 272.7 L104.8 279.8 L105.2 286.9 L105.6 293.9 L106.0 299.9 L106.4 304.7 L106.8 306.3 L107.2 304.5 L107.5 298.8 L107.9 291.2 L108.3 281.5 L108.7 270.5 L109.1 259.5 L109.5 248.1 L109.9 237.8 L110.3 228.0 L110.7 222.8 L111.1 221.4 L111.4 223.9 L111.8 231.3 L112.2 237.1 L112.6 242.4 L113.0 246.2 L113.4 247.4 L113.8 244.7 L114.2 235.6 L114.6 224.0 L114.9 209.7 L115.3 195.1 L115.7 180.5 L116.1 171.0 L116.5 165.8 L116.9 165.7 L117.3 171.1 L117.7 180.2 L118.1 193.5 L118.4 206.9 L118.8 219.2 L119.2 229.4 L119.6 235.2 L120.0 237.9 L120.4 235.0 L120.8 227.7 L121.2 216.1 L121.6 200.6 L122.0 182.0 L122.3 162.8 L122.7 144.5 L123.1 128.3 L123.5 111.2 L123.9 96.9 L124.3 86.9 L124.7 83.1 L125.1 86.2 L125.5 95.3 L125.8 109.0 L126.2 126.2 L126.6 144.8 L127.0 164.3 L127.4 185.9 L127.8 205.5 L128.2 221.4 L128.6 233.6 L129.0 241.0 L129.3 244.2 L129.7 244.4 L130.1 242.9 L130.5 239.8 L130.9 235.4 L131.3 229.1 L131.7 221.7 L132.1 213.2 L132.5 203.6 L132.9 193.1 L133.2 181.8 L133.6 168.6 L134.0 156.4 L134.4 144.4 L134.8 134.2 L135.2 124.8 L135.6 119.6 L136.0 112.6 L136.4 107.3 L136.7 103.2 L137.1 102.9 L137.5 105.1 L137.9 109.2 L138.3 115.1 L138.7 122.3 L139.1 131.3 L139.5 141.9 L139.9 152.7 L140.3 163.4 L140.6 173.6 L141.0 183.1 L141.4 192.3 L141.8 200.1 L142.2 206.6 L142.6 211.9 L143.0 215.7 L143.4 218.6 L143.8 219.9 L144.1 219.7 L144.5 217.9 L144.9 214.8 L145.3 210.4 L145.7 204.9 L146.1 198.5 L146.5 191.3 L146.9 183.4 L147.3 174.9 L147.6 166.2 L148.0 157.6 L148.4 149.3 L148.8 141.7 L149.2 135.1 L149.6 129.8 L150.0 126.2 L150.4 124.5 L150.8 125.3 L151.2 125.2 L151.5 130.2 L151.9 136.8 L152.3 144.7 L152.7 153.6 L153.1 163.3 L153.5 173.6 L153.9 184.1 L154.3 194.7 L154.7 205.2 L155.0 214.1 L155.4 225.3 L155.8 236.0 L156.2 244.7 L156.6 254.1 L157.0 261.3 L157.4 269.1 L157.8 275.8 L158.2 280.2 L158.5 284.8 L158.9 286.6 L159.3 288.5 L159.7 289.7 L160.1 288.3 L160.5 287.3 L160.9 284.7 L161.3 282.3 L161.7 278.6 L162.1 275.0 L162.4 270.7 L162.8 266.7 L163.8 251.5 L164.8 234.8 L165.8 216.0 L166.7 196.0 L167.7 176.4 L168.7 159.0 L169.6 146.1 L170.6 139.4 L171.6 140.9 L172.6 146.9 L173.5 154.9 L174.5 165.1 L175.5 176.9 L176.5 187.2 L177.4 200.3 L178.4 213.4 L179.4 226.3 L180.4 238.6 L181.3 250.0 L182.3 260.7 L183.3 270.2 L184.2 278.2 L185.2 285.4 L186.2 291.3 L187.2 295.8 L188.1 298.9 L189.1 300.6 L190.1 301.5 L191.1 301.5 L192.0 300.8 L193.0 300.5 L194.0 298.8 L194.9 296.7 L195.9 294.3 L196.9 291.8 L197.9 289.3 L198.8 286.8 L199.8 284.5 L200.8 282.6 L201.8 280.6 L202.7 278.9 L203.7 277.6 L204.7 276.7 L205.7 276.2 L206.6 276.3 L207.6 277.2 L208.6 277.9 L209.5 280.3 L210.5 283.2 L211.5 286.5 L212.5 290.1 L213.4 293.8 L214.4 297.7 L215.4 301.8 L216.4 306.2 L217.3 310.8 L218.3 315.9 L219.3 320.9 L220.3 325.9 L221.2 330.8 L222.2 335.5 L223.2 340.1 L224.1 344.7 L225.1 349.7 L226.1 354.0 L227.1 358.1 L228.0 362.0 L229.0 365.8 L230.0 369.3 L231.0 372.5 L231.9 375.6 L232.9 378.9 L233.9 381.4 L234.9 383.6 L235.8 385.6 L236.8 387.5 L237.8 389.1 L238.7 390.6 L239.7 391.9 L240.7 393.1 L241.7 394.0 L242.6 394.8 L243.6 395.6 L244.6 396.2 L245.6 396.8 L246.5 397.2 L247.5 397.6 L248.5 397.7 L249.5 396.9 L250.4 396.8 L251.4 396.6 L252.4 396.3 L253.3 395.9 L254.3 395.5 L255.3 395.0 L256.3 394.5 L257.2 393.1 L258.2 392.5 L259.2 392.0 L260.2 391.4 L261.1 390.9 L262.1 390.4 L263.1 389.8 L264.1 389.4 L265.0 388.9 L266.0 388.2 L267.0 388.0 L267.9 387.9 L268.9 388.0 L269.9 388.8 L270.9 389.7 L271.8 389.9 L272.8 391.0 L273.8 392.0 L274.8 393.2 L275.7 394.4 L276.7 395.0 L277.7 396.3 L278.7 397.6 L279.6 398.4 L280.6 399.7 L281.6 401.3 L282.5 402.6 L283.5 404.0 L284.5 405.0 L285.5 406.4 L286.4 407.7 L287.4 408.9 L288.4 410.2 L289.4 412.1 L292.3 415.9 L295.2 419.7 L298.1 423.5 L301.0 426.6 L304.0 429.4 L306.9 431.9 L309.8 433.8 L312.7 435.6 L315.6 436.8 L318.6 437.7 L321.5 438.4 L324.4 438.9 L327.3 439.3 L330.2 439.7 L333.2 440.1 L336.1 440.6 L339.0 440.8 L341.9 441.7 L344.8 442.7 L347.8 443.7 L350.7 444.9 L353.6 446.2 L356.5 447.6 L359.4 449.2 L362.4 451.5 L365.3 453.3 L368.2 455.1 L371.1 456.9 L374.0 458.7 L377.0 460.4 L379.9 462.1 L382.8 463.6 L385.7 465.1 L388.6 466.8 L391.6 468.1 L394.5 469.3 L397.4 470.4 L400.3 471.5 L403.2 472.5 L406.2 473.5 L409.1 474.5 L412.0 475.4 L414.9 476.2 L417.8 477.0 L420.8 477.8 L423.7 478.7 L426.6 479.5 L429.5 480.3 L432.4 481.2 L435.4 481.8 L438.3 482.7 L441.2 483.6 L444.1 484.5 L447.0 485.4 L450.0 486.3 L452.9 487.1 L455.8 487.9 L458.7 488.6 L461.6 489.3 L464.6 490.1 L467.5 490.7 L470.4 491.4 L473.3 492.0 L476.2 492.6 L479.2 493.1 L482.1 493.5 L485.0 494.0 L487.9 494.3 L490.8 494.7 L493.8 495.0 L496.7 495.3 L499.6 495.6 L502.5 495.8 L505.4 496.1 L508.4 496.4 L511.3 496.7 L514.2 497.0 L517.1 497.3 L520.0 497.5 L523.0 497.8 L525.9 498.1 L528.8 498.3 L531.7 498.6 L534.6 498.8 L537.6 499.0 L540.5 499.3 L543.4 499.5 L546.3 499.7 L549.2 499.9 L552.2 500.1 L555.1 500.4 L558.0 500.6 L560.9 500.8 L563.8 501.0 L566.8 501.2 L569.7 501.5 L572.6 501.7 L575.5 501.9 L578.4 502.2 L581.3 502.4 L584.3 502.6 L587.2 502.9 L590.1 503.1 L593.0 503.4 L595.9 503.6 L598.9 503.9 L601.8 504.1 L604.7 504.4 L607.6 504.7 L610.5 504.9 L613.5 505.2 L616.4 505.5 L619.3 505.6 L622.2 505.8 L625.1 506.0 L628.1 506.2 L631.0 506.3 L633.9 506.4 L636.8 506.6 L639.7 506.7 L642.7 506.9 L645.6 507.1 L648.5 507.2 L651.4 507.4 L654.3 507.5 L657.3 507.6 L660.2 507.8 L663.1 507.9 L666.0 508.1 L668.9 508.2 L671.9 508.4 L674.8 508.5 L677.7 508.7"/>
<path d="M94.7 395.7 L95.1 395.1 L95.5 394.6 L95.9 394.2 L96.3 393.7 L96.6 390.6 L97.0 384.2 L97.4 378.6 L97.8 372.2 L98.2 365.5 L98.6 383.3 L99.0 398.8 L99.4 408.7 L99.8 414.2 L100.2 416.0 L100.5 414.8 L100.9 410.7 L101.3 404.6 L101.7 396.6 L102.1 387.2 L102.5 377.1 L102.9 366.8 L103.3 357.2 L103.7 349.4 L104.0 344.5 L104.4 342.8 L104.8 343.4 L105.2 345.2 L105.6 348.1 L106.0 351.4 L106.4 355.1 L106.8 357.5 L107.2 358.6 L107.5 357.4 L107.9 353.9 L108.3 347.2 L108.7 338.7 L109.1 330.5 L109.5 323.6 L109.9 320.2 L110.3 321.2 L110.7 326.0 L111.1 332.9 L111.4 341.3 L111.8 351.9 L112.2 360.4 L112.6 367.7 L113.0 373.4 L113.4 376.9 L113.8 377.8 L114.2 374.5 L114.6 369.0 L114.9 360.6 L115.3 350.0 L115.7 336.9 L116.1 322.1 L116.5 306.2 L116.9 289.7 L117.3 274.2 L117.7 260.8 L118.1 251.4 L118.4 246.9 L118.8 249.7 L119.2 259.3 L119.6 272.4 L120.0 288.8 L120.4 305.4 L120.8 320.7 L121.2 333.4 L121.6 342.8 L122.0 348.1 L122.3 348.9 L122.7 347.0 L123.1 344.1 L123.5 338.7 L123.9 331.7 L124.3 323.4 L124.7 314.1 L125.1 304.0 L125.5 293.4 L125.8 283.0 L126.2 273.2 L126.6 264.4 L127.0 256.9 L127.4 251.2 L127.8 247.9 L128.2 247.0 L128.6 247.5 L129.0 248.5 L129.3 251.2 L129.7 254.6 L130.1 258.6 L130.5 263.0 L130.9 267.7 L131.3 272.1 L131.7 276.6 L132.1 280.8 L132.5 284.8 L132.9 288.3 L133.2 291.3 L133.6 292.8 L134.0 294.5 L134.4 295.4 L134.8 295.5 L135.2 294.8 L135.6 295.0 L136.0 292.6 L136.4 289.7 L136.7 285.8 L137.1 282.3 L137.5 278.6 L137.9 274.7 L138.3 270.6 L138.7 266.4 L139.1 262.2 L139.5 258.0 L139.9 253.9 L140.3 249.9 L140.6 246.0 L141.0 242.5 L141.4 239.8 L141.8 237.3 L142.2 235.5 L142.6 234.4 L143.0 234.3 L143.4 235.8 L143.8 238.2 L144.1 242.6 L144.5 248.7 L144.9 256.1 L145.3 264.6 L145.7 273.8 L146.1 283.4 L146.5 293.3 L146.9 303.0 L147.3 312.4 L147.6 321.4 L148.0 329.8 L148.4 337.6 L148.8 344.6 L149.2 350.7 L149.6 355.9 L150.0 360.1 L150.4 363.2 L150.8 365.1 L151.2 365.2 L151.5 366.2 L151.9 366.8 L152.3 367.0 L152.7 366.9 L153.1 366.4 L153.5 365.5 L153.9 364.4 L154.3 362.9 L154.7 361.1 L155.0 358.4 L155.4 356.7 L155.8 354.9 L156.2 352.1 L156.6 350.0 L157.0 346.7 L157.4 344.3 L157.8 341.7 L158.2 338.0 L158.5 335.3 L158.9 331.1 L159.3 328.1 L159.7 325.5 L160.1 321.5 L160.5 318.7 L160.9 315.1 L161.3 312.6 L161.7 309.7 L162.1 307.7 L162.4 306.0 L162.8 305.4 L163.8 303.6 L164.8 306.1 L165.8 311.4 L166.7 318.9 L167.7 328.1 L168.7 338.4 L169.6 349.3 L170.6 360.0 L171.6 370.1 L172.6 379.3 L173.5 386.4 L174.5 391.8 L175.5 395.1 L176.5 395.3 L177.4 394.0 L178.4 390.7 L179.4 385.7 L180.4 379.3 L181.3 371.8 L182.3 363.7 L183.3 355.9 L184.2 348.7 L185.2 343.4 L186.2 340.6 L187.2 340.8 L188.1 342.9 L189.1 346.2 L190.1 350.6 L191.1 355.7 L192.0 361.4 L193.0 368.4 L194.0 375.0 L194.9 382.0 L195.9 389.0 L196.9 395.9 L197.9 402.7 L198.8 409.2 L199.8 415.4 L200.8 421.1 L201.8 426.3 L202.7 431.0 L203.7 435.1 L204.7 438.6 L205.7 441.6 L206.6 444.0 L207.6 445.9 L208.6 447.0 L209.5 448.2 L210.5 449.0 L211.5 449.5 L212.5 449.6 L213.4 449.5 L214.4 449.1 L215.4 448.5 L216.4 447.6 L217.3 446.7 L218.3 445.7 L219.3 444.7 L220.3 443.7 L221.2 442.6 L222.2 441.5 L223.2 440.4 L224.1 439.4 L225.1 438.8 L226.1 438.0 L227.1 437.3 L228.0 436.9 L229.0 436.6 L230.0 436.5 L231.0 436.5 L231.9 436.8 L232.9 437.7 L233.9 438.5 L234.9 439.5 L235.8 440.8 L236.8 442.1 L237.8 443.6 L238.7 445.1 L239.7 446.7 L240.7 448.3 L241.7 449.7 L242.6 451.1 L243.6 452.4 L244.6 453.6 L245.6 454.8 L246.5 455.7 L247.5 456.5 L248.5 457.0 L249.5 457.0 L250.4 457.2 L251.4 457.3 L252.4 457.3 L253.3 457.2 L254.3 457.1 L255.3 456.9 L256.3 456.6 L257.2 455.9 L258.2 455.5 L259.2 455.0 L260.2 454.5 L261.1 454.0 L262.1 453.4 L263.1 452.8 L264.1 452.1 L265.0 451.4 L266.0 450.4 L267.0 449.7 L267.9 449.1 L268.9 448.4 L269.9 448.1 L270.9 447.9 L271.8 447.3 L272.8 447.3 L273.8 447.3 L274.8 447.4 L275.7 447.6 L276.7 447.5 L277.7 447.9 L278.7 448.3 L279.6 448.5 L280.6 449.1 L281.6 449.9 L282.5 450.6 L283.5 451.3 L284.5 452.0 L285.5 452.8 L286.4 453.7 L287.4 454.5 L288.4 455.4 L289.4 456.7 L292.3 459.6 L295.2 462.6 L298.1 465.9 L301.0 468.7 L304.0 471.4 L306.9 473.9 L309.8 476.0 L312.7 478.0 L315.6 479.6 L318.6 481.1 L321.5 482.3 L324.4 483.4 L327.3 484.3 L330.2 485.1 L333.2 485.8 L336.1 486.4 L339.0 486.7 L341.9 487.2 L344.8 487.7 L347.8 488.1 L350.7 488.4 L353.6 488.8 L356.5 489.3 L359.4 489.7 L362.4 490.5 L365.3 491.1 L368.2 491.7 L371.1 492.3 L374.0 493.0 L377.0 493.7 L379.9 494.4 L382.8 495.0 L385.7 495.7 L388.6 496.5 L391.6 497.2 L394.5 497.8 L397.4 498.4 L400.3 499.1 L403.2 499.7 L406.2 500.3 L409.1 500.8 L412.0 501.4 L414.9 501.9 L417.8 502.3 L420.8 502.8 L423.7 503.2 L426.6 503.6 L429.5 504.0 L432.4 504.4 L435.4 504.6 L438.3 504.9 L441.2 505.3 L444.1 505.6 L447.0 505.9 L450.0 506.2 L452.9 506.5 L455.8 506.7 L458.7 507.0 L461.6 507.2 L464.6 507.4 L467.5 507.7 L470.4 507.9 L473.3 508.1 L476.2 508.3 L479.2 508.4 L482.1 508.6 L485.0 508.7 L487.9 508.8 L490.8 508.9 L493.8 509.0 L496.7 509.1 L499.6 509.2 L502.5 509.3 L505.4 509.4 L508.4 509.5 L511.3 509.6 L514.2 509.7 L517.1 509.8 L520.0 509.9 L523.0 510.0 L525.9 510.1 L528.8 510.2 L531.7 510.3 L534.6 510.4 L537.6 510.5 L540.5 510.6 L543.4 510.7 L546.3 510.8 L549.2 510.8 L552.2 510.9 L555.1 511.0 L558.0 511.1 L560.9 511.2 L563.8 511.2 L566.8 511.3 L569.7 511.4 L572.6 511.5 L575.5 511.6 L578.4 511.6 L581.3 511.7 L584.3 511.8 L587.2 511.9 L590.1 511.9 L593.0 512.0 L595.9 512.1 L598.9 512.2 L601.8 512.3 L604.7 512.3 L607.6 512.4 L610.5 512.5 L613.5 512.6 L616.4 512.7 L619.3 512.8 L622.2 512.8 L625.1 512.8 L628.1 512.9 L631.0 512.9 L633.9 512.9 L636.8 513.0 L639.7 513.0 L642.7 513.1 L645.6 513.1 L648.5 513.2 L651.4 513.2 L654.3 513.2 L657.3 513.3 L660.2 513.3 L663.1 513.4 L666.0 513.4 L668.9 513.5 L671.9 513.5 L674.8 513.6 L677.7 513.6"/>
<path d="M94.7 401.8 L95.1 401.0 L95.5 400.3 L95.9 399.7 L96.3 399.2 L96.6 397.9 L97.0 395.4 L97.4 394.1 L97.8 392.4 L98.2 397.7 L98.6 404.7 L99.0 410.1 L99.4 413.9 L99.8 416.3 L100.2 417.4 L100.5 417.2 L100.9 415.9 L101.3 413.4 L101.7 409.9 L102.1 405.6 L102.5 401.0 L102.9 396.2 L103.3 391.2 L103.7 386.6 L104.0 382.7 L104.4 379.9 L104.8 378.7 L105.2 378.8 L105.6 380.2 L106.0 382.3 L106.4 385.1 L106.8 387.1 L107.2 388.4 L107.5 388.1 L107.9 386.7 L108.3 382.2 L108.7 375.6 L109.1 368.2 L109.5 360.8 L109.9 355.0 L110.3 351.5 L110.7 351.3 L111.1 352.6 L111.4 354.9 L111.8 358.8 L112.2 360.6 L112.6 361.0 L113.0 359.3 L113.4 355.7 L113.8 350.9 L114.2 344.1 L114.6 337.7 L114.9 331.1 L115.3 325.0 L115.7 319.0 L116.1 314.1 L116.5 310.6 L116.9 308.6 L117.3 309.2 L117.7 313.5 L118.1 320.7 L118.4 329.0 L118.8 337.5 L119.2 345.1 L119.6 350.4 L120.0 353.8 L120.4 354.2 L120.8 353.2 L121.2 351.0 L121.6 347.7 L122.0 343.5 L122.3 338.6 L122.7 333.1 L123.1 328.4 L123.5 322.5 L123.9 316.7 L124.3 311.3 L124.7 306.8 L125.1 303.3 L125.5 301.4 L125.8 301.1 L126.2 302.0 L126.6 303.9 L127.0 306.5 L127.4 309.5 L127.8 313.1 L128.2 316.5 L128.6 319.9 L129.0 322.7 L129.3 325.9 L129.7 328.7 L130.1 331.2 L130.5 333.1 L130.9 334.5 L131.3 335.1 L131.7 335.0 L132.1 334.2 L132.5 332.4 L132.9 329.6 L133.2 325.9 L133.6 320.7 L134.0 315.5 L134.4 309.8 L134.8 303.6 L135.2 297.1 L135.6 292.4 L136.0 286.0 L136.4 279.9 L136.7 273.7 L137.1 269.1 L137.5 265.4 L137.9 262.9 L138.3 261.7 L138.7 262.0 L139.1 263.3 L139.5 265.5 L139.9 268.5 L140.3 272.0 L140.6 276.0 L141.0 280.4 L141.4 285.4 L141.8 290.2 L142.2 295.1 L142.6 300.0 L143.0 304.8 L143.4 310.0 L143.8 314.8 L144.1 319.6 L144.5 324.2 L144.9 328.6 L145.3 332.6 L145.7 336.2 L146.1 339.4 L146.5 342.0 L146.9 344.0 L147.3 345.6 L147.6 346.7 L148.0 347.5 L148.4 348.0 L148.8 348.2 L149.2 348.2 L149.6 347.9 L150.0 347.4 L150.4 346.8 L150.8 346.0 L151.2 343.7 L151.5 342.8 L151.9 341.8 L152.3 340.8 L152.7 340.0 L153.1 339.2 L153.5 338.6 L153.9 338.3 L154.3 338.3 L154.7 338.8 L155.0 339.0 L155.4 341.2 L155.8 344.0 L156.2 346.4 L156.6 350.1 L157.0 353.1 L157.4 357.4 L157.8 361.8 L158.2 365.3 L158.5 369.9 L158.9 373.3 L159.3 377.6 L159.7 382.1 L160.1 385.5 L160.5 389.4 L160.9 392.5 L161.3 395.9 L161.7 398.6 L162.1 401.4 L162.4 403.8 L162.8 406.2 L163.8 409.1 L164.8 410.4 L165.8 410.3 L166.7 409.1 L167.7 407.0 L168.7 404.5 L169.6 401.9 L170.6 399.5 L171.6 397.6 L172.6 396.9 L173.5 397.0 L174.5 398.7 L175.5 401.7 L176.5 404.5 L177.4 408.6 L178.4 413.0 L179.4 417.4 L180.4 421.8 L181.3 426.1 L182.3 430.1 L183.3 433.6 L184.2 436.5 L185.2 439.1 L186.2 441.2 L187.2 442.7 L188.1 443.6 L189.1 443.8 L190.1 443.1 L191.1 441.6 L192.0 439.3 L193.0 437.0 L194.0 433.9 L194.9 430.5 L195.9 427.2 L196.9 424.0 L197.9 421.2 L198.8 419.2 L199.8 418.0 L200.8 418.1 L201.8 419.3 L202.7 421.0 L203.7 423.1 L204.7 425.6 L205.7 428.1 L206.6 430.8 L207.6 433.6 L208.6 436.1 L209.5 438.9 L210.5 441.6 L211.5 444.2 L212.5 446.6 L213.4 448.9 L214.4 450.9 L215.4 452.8 L216.4 454.4 L217.3 456.0 L218.3 457.4 L219.3 458.5 L220.3 459.4 L221.2 460.0 L222.2 460.4 L223.2 460.6 L224.1 460.7 L225.1 460.9 L226.1 460.7 L227.1 460.6 L228.0 460.4 L229.0 460.2 L230.0 460.1 L231.0 459.9 L231.9 459.9 L232.9 460.2 L233.9 460.3 L234.9 460.6 L235.8 461.0 L236.8 461.5 L237.8 462.3 L238.7 463.1 L239.7 464.2 L240.7 465.4 L241.7 466.7 L242.6 468.1 L243.6 469.6 L244.6 471.1 L245.6 472.6 L246.5 474.1 L247.5 475.5 L248.5 476.9 L249.5 478.0 L250.4 479.3 L251.4 480.5 L252.4 481.7 L253.3 482.7 L254.3 483.8 L255.3 484.8 L256.3 485.7 L257.2 486.3 L258.2 487.1 L259.2 487.9 L260.2 488.5 L261.1 489.2 L262.1 489.7 L263.1 490.2 L264.1 490.6 L265.0 491.0 L266.0 491.2 L267.0 491.4 L267.9 491.6 L268.9 491.8 L269.9 492.1 L270.9 492.4 L271.8 492.5 L272.8 492.8 L273.8 493.0 L274.8 493.2 L275.7 493.4 L276.7 493.5 L277.7 493.7 L278.7 493.9 L279.6 494.0 L280.6 494.2 L281.6 494.5 L282.5 494.7 L283.5 495.0 L284.5 495.2 L285.5 495.4 L286.4 495.7 L287.4 495.9 L288.4 496.2 L289.4 496.7 L292.3 497.7 L295.2 498.8 L298.1 500.1 L301.0 501.2 L304.0 502.3 L306.9 503.3 L309.8 504.2 L312.7 505.1 L315.6 505.8 L318.6 506.3 L321.5 506.7 L324.4 507.1 L327.3 507.3 L330.2 507.4 L333.2 507.4 L336.1 507.4 L339.0 507.3 L341.9 507.3 L344.8 507.3 L347.8 507.3 L350.7 507.4 L353.6 507.5 L356.5 507.7 L359.4 508.0 L362.4 508.4 L365.3 508.8 L368.2 509.2 L371.1 509.6 L374.0 510.0 L377.0 510.3 L379.9 510.7 L382.8 511.1 L385.7 511.4 L388.6 511.7 L391.6 512.0 L394.5 512.3 L397.4 512.5 L400.3 512.8 L403.2 513.0 L406.2 513.3 L409.1 513.5 L412.0 513.7 L414.9 513.9 L417.8 514.1 L420.8 514.3 L423.7 514.4 L426.6 514.6 L429.5 514.7 L432.4 514.9 L435.4 515.0 L438.3 515.1 L441.2 515.2 L444.1 515.3 L447.0 515.5 L450.0 515.6 L452.9 515.7 L455.8 515.7 L458.7 515.8 L461.6 515.9 L464.6 516.0 L467.5 516.1 L470.4 516.1 L473.3 516.2 L476.2 516.3 L479.2 516.4 L482.1 516.4 L485.0 516.5 L487.9 516.5 L490.8 516.6 L493.8 516.6 L496.7 516.7 L499.6 516.7 L502.5 516.8 L505.4 516.8 L508.4 516.9 L511.3 516.9 L514.2 517.0 L517.1 517.0 L520.0 517.1 L523.0 517.1 L525.9 517.2 L528.8 517.2 L531.7 517.3 L534.6 517.3 L537.6 517.4 L540.5 517.4 L543.4 517.4 L546.3 517.5 L549.2 517.5 L552.2 517.6 L555.1 517.6 L558.0 517.6 L560.9 517.7 L563.8 517.7 L566.8 517.8 L569.7 517.8 L572.6 517.8 L575.5 517.9 L578.4 517.9 L581.3 518.0 L584.3 518.0 L587.2 518.1 L590.1 518.1 L593.0 518.1 L595.9 518.2 L598.9 518.2 L601.8 518.3 L604.7 518.3 L607.6 518.4 L610.5 518.4 L613.5 518.4 L616.4 518.5 L619.3 518.5 L622.2 518.6 L625.1 518.6 L628.1 518.6 L631.0 518.6 L633.9 518.7 L636.8 518.7 L639.7 518.7 L642.7 518.8 L645.6 518.8 L648.5 518.8 L651.4 518.8 L654.3 518.9 L657.3 518.9 L660.2 518.9 L663.1 519.0 L666.0 519.0 L668.9 519.0 L671.9 519.0 L674.8 519.1 L677.7 519.1"/>
<path d="M94.7 425.2 L95.1 425.2 L95.5 425.1 L95.9 424.8 L96.3 424.5 L96.6 425.1 L97.0 426.5 L97.4 427.8 L97.8 426.3 L98.2 423.0 L98.6 418.1 L99.0 412.5 L99.4 406.5 L99.8 400.4 L100.2 394.3 L100.5 388.5 L100.9 383.1 L101.3 378.3 L101.7 375.2 L102.1 373.4 L102.5 372.8 L102.9 372.6 L103.3 372.0 L103.7 370.8 L104.0 368.8 L104.4 365.1 L104.8 359.1 L105.2 351.0 L105.6 342.4 L106.0 334.4 L106.4 329.1 L106.8 326.7 L107.2 327.5 L107.5 330.0 L107.9 334.2 L108.3 338.3 L108.7 341.4 L109.1 343.1 L109.5 341.8 L109.9 338.4 L110.3 332.4 L110.7 326.1 L111.1 318.7 L111.4 311.6 L111.8 307.3 L112.2 302.7 L112.6 300.7 L113.0 302.1 L113.4 305.5 L113.8 309.8 L114.2 312.2 L114.6 314.1 L114.9 313.0 L115.3 309.4 L115.7 303.2 L116.1 295.6 L116.5 287.6 L116.9 279.3 L117.3 272.7 L117.7 268.3 L118.1 267.5 L118.4 268.5 L118.8 270.9 L119.2 274.4 L119.6 277.7 L120.0 282.4 L120.4 287.3 L120.8 291.9 L121.2 295.9 L121.6 299.0 L122.0 300.9 L122.3 301.7 L122.7 300.9 L123.1 299.3 L123.5 294.8 L123.9 289.1 L124.3 282.6 L124.7 275.9 L125.1 269.7 L125.5 264.7 L125.8 261.7 L126.2 261.5 L126.6 263.7 L127.0 267.5 L127.4 272.4 L127.8 278.2 L128.2 283.8 L128.6 289.2 L129.0 293.5 L129.3 297.5 L129.7 300.4 L130.1 301.8 L130.5 301.6 L130.9 300.8 L131.3 299.0 L131.7 296.8 L132.1 293.9 L132.5 290.6 L132.9 286.7 L133.2 282.4 L133.6 276.8 L134.0 271.7 L134.4 266.3 L134.8 260.9 L135.2 255.6 L135.6 252.6 L136.0 247.6 L136.4 243.2 L136.7 238.6 L137.1 235.7 L137.5 233.6 L137.9 232.4 L138.3 232.1 L138.7 232.4 L139.1 233.4 L139.5 234.9 L139.9 237.0 L140.3 239.4 L140.6 242.1 L141.0 245.1 L141.4 248.7 L141.8 252.1 L142.2 255.7 L142.6 259.3 L143.0 263.1 L143.4 267.4 L143.8 271.5 L144.1 275.8 L144.5 280.2 L144.9 284.6 L145.3 289.0 L145.7 293.3 L146.1 297.6 L146.5 301.6 L146.9 305.4 L147.3 308.9 L147.6 312.2 L148.0 315.3 L148.4 318.3 L148.8 321.2 L149.2 324.0 L149.6 326.6 L150.0 329.0 L150.4 331.3 L150.8 333.4 L151.2 333.9 L151.5 335.8 L151.9 337.5 L152.3 339.0 L152.7 340.4 L153.1 341.6 L153.5 342.8 L153.9 343.8 L154.3 344.8 L154.7 345.8 L155.0 346.0 L155.4 347.7 L155.8 349.5 L156.2 350.5 L156.6 352.5 L157.0 353.7 L157.4 355.9 L157.8 358.1 L158.2 359.5 L158.5 361.8 L158.9 363.0 L159.3 365.2 L159.7 367.7 L160.1 369.0 L160.5 371.2 L160.9 372.6 L161.3 374.6 L161.7 376.2 L162.1 378.0 L162.4 379.8 L162.8 381.9 L163.8 385.0 L164.8 388.0 L165.8 389.7 L166.7 390.2 L167.7 389.6 L168.7 388.4 L169.6 386.7 L170.6 384.7 L171.6 382.5 L172.6 380.3 L173.5 377.5 L174.5 374.7 L175.5 372.2 L176.5 369.1 L177.4 367.7 L178.4 367.4 L179.4 368.3 L180.4 370.7 L181.3 374.1 L182.3 378.4 L183.3 383.1 L184.2 387.9 L185.2 392.7 L186.2 397.2 L187.2 401.2 L188.1 404.6 L189.1 407.1 L190.1 408.7 L191.1 409.1 L192.0 408.8 L193.0 408.7 L194.0 407.9 L194.9 407.0 L195.9 405.9 L196.9 404.7 L197.9 403.5 L198.8 402.4 L199.8 401.3 L200.8 400.3 L201.8 399.2 L202.7 398.2 L203.7 397.3 L204.7 396.5 L205.7 395.8 L206.6 395.3 L207.6 395.0 L208.6 394.4 L209.5 394.6 L210.5 395.1 L211.5 395.9 L212.5 397.1 L213.4 398.5 L214.4 400.3 L215.4 402.3 L216.4 404.6 L217.3 407.1 L218.3 409.9 L219.3 412.7 L220.3 415.6 L221.2 418.3 L222.2 421.0 L223.2 423.6 L224.1 426.1 L225.1 428.8 L226.1 431.1 L227.1 433.2 L228.0 435.2 L229.0 436.9 L230.0 438.5 L231.0 439.9 L231.9 441.0 L232.9 442.2 L233.9 442.9 L234.9 443.6 L235.8 444.2 L236.8 444.8 L237.8 445.3 L238.7 445.8 L239.7 446.2 L240.7 446.6 L241.7 447.0 L242.6 447.5 L243.6 448.1 L244.6 448.7 L245.6 449.4 L246.5 450.1 L247.5 450.9 L248.5 451.6 L249.5 451.9 L250.4 452.7 L251.4 453.4 L252.4 454.1 L253.3 454.8 L254.3 455.5 L255.3 456.3 L256.3 457.1 L257.2 457.4 L258.2 458.1 L259.2 458.9 L260.2 459.7 L261.1 460.4 L262.1 461.1 L263.1 461.9 L264.1 462.6 L265.0 463.2 L266.0 463.6 L267.0 464.1 L267.9 464.6 L268.9 465.0 L269.9 465.7 L270.9 466.3 L271.8 466.5 L272.8 467.1 L273.8 467.6 L274.8 468.1 L275.7 468.6 L276.7 468.8 L277.7 469.3 L278.7 469.7 L279.6 469.9 L280.6 470.3 L281.6 470.8 L282.5 471.2 L283.5 471.5 L284.5 471.7 L285.5 472.1 L286.4 472.4 L287.4 472.6 L288.4 472.8 L289.4 473.3 L292.3 474.1 L295.2 474.8 L298.1 475.6 L301.0 476.2 L304.0 476.8 L306.9 477.4 L309.8 478.0 L312.7 478.8 L315.6 479.4 L318.6 480.1 L321.5 480.7 L324.4 481.4 L327.3 482.1 L330.2 482.8 L333.2 483.5 L336.1 484.3 L339.0 484.9 L341.9 485.8 L344.8 486.8 L347.8 487.7 L350.7 488.6 L353.6 489.6 L356.5 490.7 L359.4 491.8 L362.4 493.1 L365.3 494.3 L368.2 495.3 L371.1 496.4 L374.0 497.3 L377.0 498.2 L379.9 499.0 L382.8 499.7 L385.7 500.3 L388.6 501.0 L391.6 501.5 L394.5 501.9 L397.4 502.3 L400.3 502.7 L403.2 503.1 L406.2 503.5 L409.1 503.9 L412.0 504.2 L414.9 504.5 L417.8 504.9 L420.8 505.2 L423.7 505.5 L426.6 505.9 L429.5 506.2 L432.4 506.6 L435.4 506.8 L438.3 507.2 L441.2 507.7 L444.1 508.1 L447.0 508.6 L450.0 509.0 L452.9 509.5 L455.8 509.9 L458.7 510.3 L461.6 510.7 L464.6 511.1 L467.5 511.4 L470.4 511.7 L473.3 512.0 L476.2 512.3 L479.2 512.5 L482.1 512.7 L485.0 512.8 L487.9 513.0 L490.8 513.1 L493.8 513.2 L496.7 513.3 L499.6 513.4 L502.5 513.5 L505.4 513.6 L508.4 513.7 L511.3 513.8 L514.2 513.9 L517.1 513.9 L520.0 514.0 L523.0 514.1 L525.9 514.2 L528.8 514.3 L531.7 514.3 L534.6 514.4 L537.6 514.5 L540.5 514.5 L543.4 514.6 L546.3 514.7 L549.2 514.7 L552.2 514.8 L555.1 514.9 L558.0 514.9 L560.9 515.0 L563.8 515.1 L566.8 515.1 L569.7 515.2 L572.6 515.2 L575.5 515.3 L578.4 515.4 L581.3 515.4 L584.3 515.5 L587.2 515.6 L590.1 515.6 L593.0 515.7 L595.9 515.8 L598.9 515.9 L601.8 515.9 L604.7 516.0 L607.6 516.1 L610.5 516.2 L613.5 516.2 L616.4 516.3 L619.3 516.3 L622.2 516.4 L625.1 516.4 L628.1 516.5 L631.0 516.5 L633.9 516.6 L636.8 516.6 L639.7 516.6 L642.7 516.7 L645.6 516.7 L648.5 516.8 L651.4 516.8 L654.3 516.8 L657.3 516.9 L660.2 516.9 L663.1 517.0 L666.0 517.0 L668.9 517.0 L671.9 517.1 L674.8 517.1 L677.7 517.2"/>
<path d="M94.7 413.0 L95.1 413.1 L95.5 412.9 L95.9 412.7 L96.3 412.2 L96.6 412.6 L97.0 413.4 L97.4 412.1 L97.8 405.2 L98.2 395.0 L98.6 381.7 L99.0 371.0 L99.4 360.9 L99.8 351.7 L100.2 344.0 L100.5 338.0 L100.9 334.1 L101.3 333.5 L101.7 337.5 L102.1 343.7 L102.5 350.7 L102.9 356.9 L103.3 361.0 L103.7 362.5 L104.0 360.3 L104.4 353.2 L104.8 342.0 L105.2 327.5 L105.6 312.3 L106.0 299.0 L106.4 291.5 L106.8 291.6 L107.2 299.9 L107.5 312.8 L107.9 328.4 L108.3 343.3 L108.7 355.6 L109.1 364.3 L109.5 367.2 L109.9 364.6 L110.3 357.4 L110.7 347.6 L111.1 334.7 L111.4 319.9 L111.8 305.9 L112.2 290.2 L112.6 276.1 L113.0 265.4 L113.4 260.1 L113.8 261.6 L114.2 266.6 L114.6 276.1 L114.9 286.4 L115.3 296.2 L115.7 302.9 L116.1 305.5 L116.5 302.5 L116.9 293.5 L117.3 279.5 L117.7 260.9 L118.1 238.6 L118.4 213.5 L118.8 187.4 L119.2 165.5 L119.6 148.1 L120.0 138.6 L120.4 137.8 L120.8 145.6 L121.2 159.1 L121.6 176.7 L122.0 199.5 L122.3 221.6 L122.7 241.4 L123.1 258.9 L123.5 270.3 L123.9 276.2 L124.3 276.0 L124.7 271.5 L125.1 263.4 L125.5 252.5 L125.8 239.5 L126.2 225.2 L126.6 210.0 L127.0 195.0 L127.4 181.0 L127.8 169.6 L128.2 161.8 L128.6 159.2 L129.0 159.6 L129.3 162.9 L129.7 168.5 L130.1 176.4 L130.5 185.6 L130.9 195.7 L131.3 205.8 L131.7 216.1 L132.1 226.3 L132.5 236.0 L132.9 244.9 L133.2 252.9 L133.6 258.9 L134.0 264.6 L134.4 269.0 L134.8 271.9 L135.2 272.9 L135.6 274.6 L136.0 273.7 L136.4 272.3 L136.7 269.8 L137.1 267.9 L137.5 265.7 L137.9 263.3 L138.3 260.7 L138.7 258.1 L139.1 255.2 L139.5 252.2 L139.9 249.1 L140.3 245.9 L140.6 242.7 L141.0 239.5 L141.4 236.8 L141.8 234.1 L142.2 231.6 L142.6 229.4 L143.0 227.9 L143.4 227.6 L143.8 227.9 L144.1 229.2 L144.5 231.8 L144.9 235.4 L145.3 239.9 L145.7 245.1 L146.1 250.8 L146.5 256.8 L146.9 262.9 L147.3 268.9 L147.6 274.9 L148.0 280.6 L148.4 285.9 L148.8 290.9 L149.2 295.3 L149.6 299.0 L150.0 301.9 L150.4 304.0 L150.8 305.1 L151.2 303.5 L151.5 302.8 L151.9 301.2 L152.3 298.8 L152.7 295.7 L153.1 291.9 L153.5 287.5 L153.9 282.4 L154.3 276.8 L154.7 270.7 L155.0 263.2 L155.4 257.5 L155.8 251.8 L156.2 244.9 L156.6 239.6 L157.0 233.1 L157.4 228.6 L157.8 224.9 L158.2 220.3 L158.5 218.4 L158.9 215.7 L159.3 216.0 L159.7 217.8 L160.1 218.2 L160.5 220.9 L160.9 223.0 L161.3 226.9 L161.7 230.5 L162.1 235.3 L162.4 240.4 L162.8 246.6 L163.8 259.7 L164.8 274.3 L165.8 287.9 L166.7 300.0 L167.7 309.9 L168.7 317.3 L169.6 321.8 L170.6 323.4 L171.6 323.8 L172.6 323.4 L173.5 321.0 L174.5 317.9 L175.5 314.2 L176.5 308.4 L177.4 303.6 L178.4 298.7 L179.4 293.8 L180.4 289.1 L181.3 285.1 L182.3 282.2 L183.3 280.7 L184.2 280.7 L185.2 282.8 L186.2 286.3 L187.2 290.8 L188.1 296.1 L189.1 301.8 L190.1 307.9 L191.1 313.9 L192.0 319.7 L193.0 326.1 L194.0 331.2 L194.9 335.9 L195.9 340.0 L196.9 343.5 L197.9 346.2 L198.8 348.2 L199.8 349.8 L200.8 351.1 L201.8 351.8 L202.7 352.2 L203.7 352.4 L204.7 352.2 L205.7 351.7 L206.6 351.1 L207.6 350.4 L208.6 348.8 L209.5 347.9 L210.5 347.0 L211.5 346.1 L212.5 345.2 L213.4 344.4 L214.4 343.7 L215.4 343.2 L216.4 343.2 L217.3 343.5 L218.3 344.5 L219.3 345.8 L220.3 347.4 L221.2 349.5 L222.2 352.2 L223.2 355.5 L224.1 359.2 L225.1 363.9 L226.1 368.4 L227.1 372.9 L228.0 377.5 L229.0 382.1 L230.0 386.4 L231.0 390.6 L231.9 394.5 L232.9 398.6 L233.9 401.9 L234.9 404.7 L235.8 407.2 L236.8 409.3 L237.8 410.9 L238.7 412.1 L239.7 413.2 L240.7 414.2 L241.7 414.8 L242.6 415.5 L243.6 416.1 L244.6 416.6 L245.6 417.1 L246.5 417.5 L247.5 417.7 L248.5 417.9 L249.5 417.2 L250.4 417.2 L251.4 417.0 L252.4 416.8 L253.3 416.5 L254.3 416.2 L255.3 415.9 L256.3 415.7 L257.2 414.7 L258.2 414.4 L259.2 414.2 L260.2 414.0 L261.1 413.8 L262.1 413.7 L263.1 413.6 L264.1 413.5 L265.0 413.6 L266.0 413.4 L267.0 413.7 L267.9 414.1 L268.9 414.7 L269.9 415.9 L270.9 417.3 L271.8 418.1 L272.8 419.6 L273.8 421.1 L274.8 422.6 L275.7 424.2 L276.7 425.2 L277.7 426.8 L278.7 428.3 L279.6 429.3 L280.6 430.8 L281.6 432.4 L282.5 433.7 L283.5 435.0 L284.5 436.0 L285.5 437.1 L286.4 438.2 L287.4 439.1 L288.4 440.1 L289.4 441.4 L292.3 443.7 L295.2 445.3 L298.1 446.6 L301.0 447.3 L304.0 448.0 L306.9 448.7 L309.8 449.4 L312.7 450.2 L315.6 450.9 L318.6 451.4 L321.5 452.0 L324.4 452.6 L327.3 453.3 L330.2 454.0 L333.2 454.9 L336.1 456.0 L339.0 456.7 L341.9 457.9 L344.8 459.2 L347.8 460.3 L350.7 461.4 L353.6 462.5 L356.5 463.6 L359.4 464.8 L362.4 466.4 L365.3 467.5 L368.2 468.6 L371.1 469.7 L374.0 470.8 L377.0 471.7 L379.9 472.7 L382.8 473.5 L385.7 474.4 L388.6 475.6 L391.6 476.4 L394.5 477.2 L397.4 478.0 L400.3 478.8 L403.2 479.6 L406.2 480.5 L409.1 481.3 L412.0 482.1 L414.9 482.9 L417.8 483.6 L420.8 484.4 L423.7 485.2 L426.6 486.1 L429.5 486.9 L432.4 487.7 L435.4 488.4 L438.3 489.2 L441.2 490.1 L444.1 491.0 L447.0 491.9 L450.0 492.7 L452.9 493.5 L455.8 494.3 L458.7 495.1 L461.6 495.8 L464.6 496.4 L467.5 497.1 L470.4 497.7 L473.3 498.2 L476.2 498.6 L479.2 499.0 L482.1 499.4 L485.0 499.7 L487.9 499.9 L490.8 500.1 L493.8 500.3 L496.7 500.4 L499.6 500.6 L502.5 500.7 L505.4 500.9 L508.4 501.1 L511.3 501.2 L514.2 501.4 L517.1 501.6 L520.0 501.7 L523.0 501.9 L525.9 502.1 L528.8 502.2 L531.7 502.4 L534.6 502.6 L537.6 502.7 L540.5 502.9 L543.4 503.1 L546.3 503.3 L549.2 503.5 L552.2 503.7 L555.1 503.9 L558.0 504.1 L560.9 504.3 L563.8 504.6 L566.8 504.8 L569.7 505.0 L572.6 505.3 L575.5 505.5 L578.4 505.7 L581.3 506.0 L584.3 506.2 L587.2 506.5 L590.1 506.7 L593.0 506.9 L595.9 507.2 L598.9 507.4 L601.8 507.7 L604.7 507.9 L607.6 508.2 L610.5 508.4 L613.5 508.6 L616.4 508.9 L619.3 509.0 L622.2 509.2 L625.1 509.4 L628.1 509.5 L631.0 509.6 L633.9 509.8 L636.8 509.9 L639.7 510.1 L642.7 510.2 L645.6 510.3 L648.5 510.5 L651.4 510.6 L654.3 510.7 L657.3 510.8 L660.2 511.0 L663.1 511.1 L666.0 511.2 L668.9 511.4 L671.9 511.5 L674.8 511.6 L677.7 511.8"/>
<path d="M94.7 380.5 L95.1 380.2 L95.5 379.9 L95.9 379.4 L96.3 378.9 L96.6 376.9 L97.0 372.7 L97.4 373.3 L97.8 378.7 L98.2 385.4 L98.6 392.1 L99.0 395.0 L99.4 395.9 L99.8 394.9 L100.2 392.2 L100.5 387.7 L100.9 381.5 L101.3 372.1 L101.7 359.7 L102.1 345.8 L102.5 331.8 L102.9 318.6 L103.3 307.6 L103.7 300.8 L104.0 299.8 L104.4 306.2 L104.8 317.3 L105.2 329.5 L105.6 340.7 L106.0 348.7 L106.4 352.4 L106.8 349.0 L107.2 339.5 L107.5 324.6 L107.9 307.0 L108.3 287.8 L108.7 269.9 L109.1 257.5 L109.5 253.1 L109.9 259.3 L110.3 270.3 L110.7 283.8 L111.1 294.3 L111.4 299.2 L111.8 298.8 L112.2 292.7 L112.6 283.8 L113.0 273.0 L113.4 261.3 L113.8 250.1 L114.2 239.5 L114.6 234.3 L114.9 234.6 L115.3 240.5 L115.7 249.1 L116.1 259.5 L116.5 270.1 L116.9 279.0 L117.3 285.8 L117.7 289.1 L118.1 288.3 L118.4 284.9 L118.8 279.5 L119.2 272.6 L119.6 263.5 L120.0 254.4 L120.4 244.9 L120.8 235.4 L121.2 226.0 L121.6 217.4 L122.0 210.3 L122.3 205.3 L122.7 203.3 L123.1 205.6 L123.5 208.1 L123.9 212.2 L124.3 217.8 L124.7 224.5 L125.1 232.2 L125.5 240.6 L125.8 249.6 L126.2 259.1 L126.6 268.5 L127.0 277.5 L127.4 285.7 L127.8 293.3 L128.2 299.3 L128.6 304.2 L129.0 307.2 L129.3 309.3 L129.7 309.5 L130.1 307.8 L130.5 304.3 L130.9 299.5 L131.3 293.1 L131.7 285.7 L132.1 277.6 L132.5 269.0 L132.9 260.3 L133.2 251.8 L133.6 243.1 L134.0 236.5 L134.4 231.8 L134.8 229.1 L135.2 227.6 L135.6 229.6 L136.0 230.1 L136.4 231.6 L136.7 233.3 L137.1 236.5 L137.5 240.3 L137.9 244.4 L138.3 248.7 L138.7 253.0 L139.1 257.0 L139.5 260.8 L139.9 263.9 L140.3 266.5 L140.6 268.2 L141.0 268.9 L141.4 269.0 L141.8 267.4 L142.2 264.1 L142.6 259.4 L143.0 253.6 L143.4 247.3 L143.8 240.1 L144.1 232.4 L144.5 224.5 L144.9 216.6 L145.3 208.9 L145.7 201.9 L146.1 195.8 L146.5 191.1 L146.9 187.9 L147.3 186.7 L147.6 187.9 L148.0 191.4 L148.4 196.0 L148.8 201.7 L149.2 208.1 L149.6 215.2 L150.0 222.8 L150.4 230.7 L150.8 238.8 L151.2 244.8 L151.5 253.1 L151.9 261.3 L152.3 269.3 L152.7 277.0 L153.1 284.3 L153.5 291.2 L153.9 297.7 L154.3 303.7 L154.7 309.2 L155.0 313.3 L155.4 318.5 L155.8 323.3 L156.2 326.5 L156.6 330.1 L157.0 332.0 L157.4 334.3 L157.8 336.0 L158.2 335.8 L158.5 336.1 L158.9 334.6 L159.3 333.6 L159.7 332.5 L160.1 329.6 L160.5 327.2 L160.9 323.5 L161.3 320.4 L161.7 316.2 L162.1 312.4 L162.4 308.3 L162.8 304.7 L163.8 292.5 L164.8 281.4 L165.8 271.3 L166.7 263.5 L167.7 259.5 L168.7 260.6 L169.6 265.8 L170.6 274.1 L171.6 285.0 L172.6 297.9 L173.5 311.0 L174.5 324.2 L175.5 337.0 L176.5 347.8 L177.4 358.6 L178.4 368.1 L179.4 376.2 L180.4 382.7 L181.3 387.7 L182.3 391.1 L183.3 392.8 L184.2 393.2 L185.2 392.8 L186.2 391.8 L187.2 390.4 L188.1 388.9 L189.1 387.5 L190.1 386.4 L191.1 385.9 L192.0 386.2 L193.0 388.1 L194.0 390.1 L194.9 392.6 L195.9 395.5 L196.9 398.7 L197.9 402.0 L198.8 405.3 L199.8 408.6 L200.8 411.7 L201.8 414.3 L202.7 416.6 L203.7 418.4 L204.7 419.6 L205.7 420.2 L206.6 420.2 L207.6 419.9 L208.6 418.9 L209.5 418.0 L210.5 416.9 L211.5 415.5 L212.5 413.9 L213.4 412.1 L214.4 410.2 L215.4 408.2 L216.4 406.3 L217.3 404.5 L218.3 402.9 L219.3 401.4 L220.3 400.0 L221.2 398.7 L222.2 397.7 L223.2 396.9 L224.1 396.5 L225.1 396.9 L226.1 397.3 L227.1 398.2 L228.0 399.5 L229.0 401.0 L230.0 402.9 L231.0 404.9 L231.9 407.1 L232.9 409.9 L233.9 412.4 L234.9 414.9 L235.8 417.5 L236.8 420.2 L237.8 422.8 L238.7 425.4 L239.7 427.9 L240.7 430.4 L241.7 432.6 L242.6 434.9 L243.6 437.2 L244.6 439.3 L245.6 441.3 L246.5 443.2 L247.5 445.0 L248.5 446.5 L249.5 447.4 L250.4 448.6 L251.4 449.6 L252.4 450.4 L253.3 451.1 L254.3 451.6 L255.3 451.9 L256.3 452.1 L257.2 451.7 L258.2 451.6 L259.2 451.4 L260.2 451.0 L261.1 450.6 L262.1 450.0 L263.1 449.3 L264.1 448.5 L265.0 447.6 L266.0 446.5 L267.0 445.5 L267.9 444.4 L268.9 443.3 L269.9 442.5 L270.9 441.8 L271.8 440.6 L272.8 439.8 L273.8 439.0 L274.8 438.4 L275.7 437.7 L276.7 436.7 L277.7 436.2 L278.7 435.8 L279.6 435.0 L280.6 434.8 L281.6 434.8 L282.5 434.8 L283.5 434.7 L284.5 434.5 L285.5 434.6 L286.4 434.8 L287.4 434.8 L288.4 435.0 L289.4 435.8 L292.3 436.8 L295.2 438.2 L298.1 440.2 L301.0 442.1 L304.0 444.2 L306.9 446.5 L309.8 448.7 L312.7 451.0 L315.6 452.9 L318.6 454.4 L321.5 455.7 L324.4 456.9 L327.3 458.0 L330.2 458.9 L333.2 459.7 L336.1 460.4 L339.0 460.6 L341.9 461.3 L344.8 462.0 L347.8 462.6 L350.7 463.2 L353.6 464.0 L356.5 465.0 L359.4 466.3 L362.4 468.1 L365.3 469.7 L368.2 471.5 L371.1 473.3 L374.0 475.1 L377.0 476.9 L379.9 478.7 L382.8 480.3 L385.7 481.8 L388.6 483.5 L391.6 484.8 L394.5 486.1 L397.4 487.3 L400.3 488.5 L403.2 489.5 L406.2 490.5 L409.1 491.4 L412.0 492.2 L414.9 492.9 L417.8 493.6 L420.8 494.2 L423.7 494.7 L426.6 495.2 L429.5 495.6 L432.4 496.0 L435.4 496.2 L438.3 496.6 L441.2 496.9 L444.1 497.2 L447.0 497.5 L450.0 497.7 L452.9 498.0 L455.8 498.2 L458.7 498.5 L461.6 498.7 L464.6 498.9 L467.5 499.2 L470.4 499.4 L473.3 499.7 L476.2 499.9 L479.2 500.1 L482.1 500.4 L485.0 500.6 L487.9 500.8 L490.8 501.0 L493.8 501.2 L496.7 501.3 L499.6 501.5 L502.5 501.7 L505.4 501.9 L508.4 502.1 L511.3 502.3 L514.2 502.5 L517.1 502.7 L520.0 502.8 L523.0 503.0 L525.9 503.2 L528.8 503.4 L531.7 503.6 L534.6 503.8 L537.6 504.0 L540.5 504.2 L543.4 504.4 L546.3 504.5 L549.2 504.7 L552.2 504.9 L555.1 505.1 L558.0 505.3 L560.9 505.5 L563.8 505.7 L566.8 505.8 L569.7 506.0 L572.6 506.2 L575.5 506.4 L578.4 506.6 L581.3 506.8 L584.3 507.0 L587.2 507.2 L590.1 507.4 L593.0 507.6 L595.9 507.8 L598.9 508.0 L601.8 508.2 L604.7 508.4 L607.6 508.6 L610.5 508.9 L613.5 509.1 L616.4 509.3 L619.3 509.4 L622.2 509.6 L625.1 509.7 L628.1 509.9 L631.0 510.0 L633.9 510.1 L636.8 510.3 L639.7 510.4 L642.7 510.6 L645.6 510.7 L648.5 510.8 L651.4 511.0 L654.3 511.1 L657.3 511.2 L660.2 511.4 L663.1 511.5 L666.0 511.6 L668.9 511.8 L671.9 511.9 L674.8 512.1 L677.7 512.2"/>
<path d="M94.7 374.9 L95.1 373.2 L95.5 371.9 L95.9 371.0 L96.3 370.5 L96.6 368.7 L97.0 366.4 L97.4 371.0 L97.8 377.2 L98.2 384.4 L98.6 391.0 L99.0 394.0 L99.4 395.3 L99.8 395.0 L100.2 392.7 L100.5 386.8 L100.9 379.4 L101.3 371.2 L101.7 365.3 L102.1 363.6 L102.5 366.0 L102.9 370.3 L103.3 375.9 L103.7 382.0 L104.0 387.7 L104.4 392.3 L104.8 395.3 L105.2 395.9 L105.6 393.9 L106.0 389.9 L106.4 384.7 L106.8 377.9 L107.2 370.3 L107.5 362.0 L107.9 354.8 L108.3 348.9 L108.7 345.2 L109.1 345.8 L109.5 350.5 L109.9 357.6 L110.3 364.5 L110.7 371.1 L111.1 375.3 L111.4 376.5 L111.8 375.3 L112.2 370.7 L112.6 364.1 L113.0 356.0 L113.4 346.7 L113.8 336.9 L114.2 326.1 L114.6 317.3 L114.9 310.5 L115.3 307.2 L115.7 306.3 L116.1 307.5 L116.5 310.5 L116.9 314.4 L117.3 319.3 L117.7 324.4 L118.1 329.7 L118.4 334.4 L118.8 338.6 L119.2 341.9 L119.6 343.5 L120.0 344.5 L120.4 343.5 L120.8 340.7 L121.2 336.4 L121.6 331.0 L122.0 325.3 L122.3 319.9 L122.7 315.6 L123.1 314.2 L123.5 313.2 L123.9 313.0 L124.3 313.4 L124.7 314.4 L125.1 316.0 L125.5 317.9 L125.8 320.1 L126.2 322.6 L126.6 325.1 L127.0 327.2 L127.4 328.7 L127.8 329.7 L128.2 329.4 L128.6 328.5 L129.0 326.4 L129.3 324.3 L129.7 321.5 L130.1 318.3 L130.5 314.7 L130.9 310.7 L131.3 306.3 L131.7 301.8 L132.1 297.3 L132.5 292.9 L132.9 288.7 L133.2 284.8 L133.6 280.6 L134.0 277.9 L134.4 276.2 L134.8 275.9 L135.2 277.0 L135.6 281.3 L136.0 284.5 L136.4 288.5 L136.7 292.5 L137.1 297.6 L137.5 302.9 L137.9 308.1 L138.3 313.0 L138.7 317.5 L139.1 321.4 L139.5 324.5 L139.9 326.5 L140.3 327.9 L140.6 328.9 L141.0 329.6 L141.4 330.3 L141.8 330.6 L142.2 330.6 L142.6 330.5 L143.0 330.3 L143.4 330.6 L143.8 330.8 L144.1 331.1 L144.5 331.6 L144.9 332.2 L145.3 333.1 L145.7 334.2 L146.1 335.6 L146.5 337.3 L146.9 339.3 L147.3 341.7 L147.6 344.3 L148.0 347.1 L148.4 350.0 L148.8 353.1 L149.2 356.3 L149.6 359.5 L150.0 362.7 L150.4 365.9 L150.8 369.0 L151.2 370.8 L151.5 373.7 L151.9 376.5 L152.3 379.2 L152.7 381.6 L153.1 383.9 L153.5 386.0 L153.9 387.9 L154.3 389.6 L154.7 391.1 L155.0 391.8 L155.4 393.5 L155.8 395.0 L156.2 395.6 L156.6 396.7 L157.0 396.9 L157.4 397.6 L157.8 398.0 L158.2 397.4 L158.5 397.4 L158.9 396.2 L159.3 395.6 L159.7 395.1 L160.1 393.5 L160.5 392.4 L160.9 390.6 L161.3 389.2 L161.7 387.4 L162.1 385.8 L162.4 384.1 L162.8 382.9 L163.8 378.1 L164.8 374.4 L165.8 371.4 L166.7 369.6 L167.7 369.6 L168.7 371.5 L169.6 375.1 L170.6 380.0 L171.6 386.0 L172.6 392.6 L173.5 399.0 L174.5 405.0 L175.5 410.4 L176.5 414.2 L177.4 417.8 L178.4 420.3 L179.4 421.9 L180.4 422.8 L181.3 423.1 L182.3 422.9 L183.3 422.5 L184.2 421.7 L185.2 420.9 L186.2 420.2 L187.2 419.7 L188.1 419.3 L189.1 419.2 L190.1 419.6 L191.1 420.4 L192.0 421.6 L193.0 423.7 L194.0 425.6 L194.9 427.8 L195.9 430.1 L196.9 432.6 L197.9 435.1 L198.8 437.6 L199.8 439.9 L200.8 442.1 L201.8 444.0 L202.7 445.7 L203.7 447.0 L204.7 447.9 L205.7 448.4 L206.6 448.5 L207.6 448.2 L208.6 447.1 L209.5 446.0 L210.5 444.7 L211.5 443.1 L212.5 441.2 L213.4 439.2 L214.4 437.2 L215.4 435.1 L216.4 433.2 L217.3 431.5 L218.3 430.2 L219.3 429.3 L220.3 428.8 L221.2 428.7 L222.2 429.2 L223.2 430.2 L224.1 431.8 L225.1 434.0 L226.1 436.4 L227.1 438.9 L228.0 441.6 L229.0 444.4 L230.0 447.2 L231.0 450.0 L231.9 452.6 L232.9 455.4 L233.9 457.7 L234.9 459.9 L235.8 461.8 L236.8 463.5 L237.8 465.0 L238.7 466.2 L239.7 467.1 L240.7 467.8 L241.7 468.4 L242.6 469.0 L243.6 469.6 L244.6 470.1 L245.6 470.6 L246.5 471.0 L247.5 471.4 L248.5 471.7 L249.5 471.6 L250.4 471.8 L251.4 472.0 L252.4 472.1 L253.3 472.1 L254.3 472.2 L255.3 472.2 L256.3 472.3 L257.2 471.9 L258.2 471.9 L259.2 471.9 L260.2 471.8 L261.1 471.8 L262.1 471.7 L263.1 471.7 L264.1 471.6 L265.0 471.5 L266.0 471.3 L267.0 471.3 L267.9 471.3 L268.9 471.3 L269.9 471.6 L270.9 472.0 L271.8 472.1 L272.8 472.5 L273.8 473.0 L274.8 473.5 L275.7 474.1 L276.7 474.5 L277.7 475.2 L278.7 475.8 L279.6 476.4 L280.6 477.1 L281.6 477.9 L282.5 478.7 L283.5 479.4 L284.5 480.0 L285.5 480.8 L286.4 481.5 L287.4 482.1 L288.4 482.8 L289.4 483.7 L292.3 485.5 L295.2 487.1 L298.1 488.6 L301.0 489.7 L304.0 490.8 L306.9 491.9 L309.8 492.8 L312.7 493.8 L315.6 494.6 L318.6 495.4 L321.5 496.0 L324.4 496.7 L327.3 497.3 L330.2 497.9 L333.2 498.5 L336.1 499.2 L339.0 499.7 L341.9 500.4 L344.8 501.2 L347.8 501.9 L350.7 502.6 L353.6 503.4 L356.5 504.3 L359.4 505.2 L362.4 506.1 L365.3 507.0 L368.2 507.8 L371.1 508.5 L374.0 509.2 L377.0 509.8 L379.9 510.3 L382.8 510.7 L385.7 511.0 L388.6 511.4 L391.6 511.6 L394.5 511.8 L397.4 512.1 L400.3 512.2 L403.2 512.4 L406.2 512.6 L409.1 512.7 L412.0 512.9 L414.9 513.0 L417.8 513.1 L420.8 513.2 L423.7 513.3 L426.6 513.4 L429.5 513.6 L432.4 513.7 L435.4 513.7 L438.3 513.9 L441.2 514.0 L444.1 514.1 L447.0 514.3 L450.0 514.4 L452.9 514.5 L455.8 514.6 L458.7 514.7 L461.6 514.8 L464.6 514.9 L467.5 515.0 L470.4 515.0 L473.3 515.1 L476.2 515.2 L479.2 515.3 L482.1 515.3 L485.0 515.3 L487.9 515.4 L490.8 515.4 L493.8 515.4 L496.7 515.5 L499.6 515.5 L502.5 515.5 L505.4 515.5 L508.4 515.5 L511.3 515.6 L514.2 515.6 L517.1 515.6 L520.0 515.6 L523.0 515.6 L525.9 515.7 L528.8 515.7 L531.7 515.7 L534.6 515.7 L537.6 515.7 L540.5 515.7 L543.4 515.8 L546.3 515.8 L549.2 515.8 L552.2 515.8 L555.1 515.9 L558.0 515.9 L560.9 515.9 L563.8 516.0 L566.8 516.0 L569.7 516.1 L572.6 516.1 L575.5 516.1 L578.4 516.2 L581.3 516.2 L584.3 516.3 L587.2 516.3 L590.1 516.4 L593.0 516.4 L595.9 516.5 L598.9 516.5 L601.8 516.6 L604.7 516.6 L607.6 516.7 L610.5 516.7 L613.5 516.8 L616.4 516.9 L619.3 516.9 L622.2 516.9 L625.1 517.0 L628.1 517.0 L631.0 517.0 L633.9 517.0 L636.8 517.1 L639.7 517.1 L642.7 517.1 L645.6 517.2 L648.5 517.2 L651.4 517.2 L654.3 517.3 L657.3 517.3 L660.2 517.3 L663.1 517.4 L666.0 517.4 L668.9 517.4 L671.9 517.5 L674.8 517.5 L677.7 517.6"/>
</g>
<path d="M94.7 385.1 L95.1 383.8 L95.7 382.0 L96.3 379.8 L97.0 377.2 L97.6 374.2 L98.2 370.7 L98.8 366.5 L99.4 362.1 L100.0 357.8 L100.5 353.8 L101.0 350.3 L101.4 346.9 L101.8 343.7 L102.2 340.6 L102.6 337.3 L103.1 334.0 L103.6 330.6 L104.1 327.2 L104.7 323.8 L105.1 320.5 L105.5 317.1 L105.8 313.8 L106.1 310.5 L106.4 307.1 L106.8 303.8 L107.1 300.3 L107.4 296.7 L107.7 293.1 L108.2 289.8 L108.8 287.1 L109.7 285.3 L110.8 284.2 L111.9 283.4 L113.1 282.3 L114.2 280.3 L115.1 276.9 L116.0 272.4 L116.8 267.7 L117.6 263.9 L118.5 261.9 L119.5 262.5 L120.4 264.9 L121.4 268.1 L122.5 271.1 L123.6 272.8 L124.9 273.1 L126.3 272.5 L127.7 271.5 L129.1 270.4 L130.3 269.4 L131.3 268.8 L132.2 268.3 L133.0 267.8 L133.7 266.8 L134.5 265.4 L135.4 262.6 L136.2 258.8 L137.1 254.9 L137.9 251.9 L138.7 250.9 L139.4 252.4 L140.0 255.6 L140.6 259.9 L141.2 264.4 L142.0 268.4 L142.9 271.8 L143.9 275.1 L145.0 278.4 L146.0 281.8 L147.1 285.4 L148.1 289.5 L149.1 293.9 L150.1 298.3 L151.1 302.3 L152.1 305.5 L153.1 307.8 L154.1 309.6 L155.1 310.8 L156.0 311.6 L157.1 312.1 L158.2 312.1 L159.4 311.4 L160.5 310.4 L161.7 309.7 L162.8 309.6 L163.9 310.1 L164.9 311.1 L165.9 312.3 L166.9 313.8 L168.0 315.5 L169.1 317.5 L170.4 319.8 L171.6 322.3 L172.8 324.8 L173.9 327.3 L175.0 329.6 L175.9 331.8 L176.8 334.1 L177.8 336.5 L178.9 339.0 L180.1 341.6 L181.4 344.3 L182.8 347.1 L184.3 350.0 L185.7 353.1 L187.2 356.5 L188.7 360.2 L190.2 364.0 L191.8 367.6 L193.3 370.8 L194.8 373.7 L196.2 376.5 L197.7 379.0 L199.2 381.2 L200.8 383.1 L202.5 384.3 L204.2 385.1 L206.0 385.7 L207.8 386.2 L209.5 387.1 L211.3 388.3 L213.0 389.6 L214.8 391.0 L216.5 392.7 L218.3 394.6 L220.1 397.0 L222.0 399.7 L223.9 402.5 L225.7 405.5 L227.3 408.2 L228.6 410.9 L229.6 413.5 L230.6 416.1 L231.8 418.6 L233.3 421.2 L235.2 423.7 L237.3 426.3 L239.6 428.8 L242.0 431.2 L244.6 433.4 L247.2 435.4 L249.9 437.1 L252.8 438.8 L255.9 440.5 L259.2 442.3 L262.9 444.1 L266.8 446.0 L271.0 448.0 L275.2 450.0 L279.2 452.1 L283.2 454.5 L287.2 457.0 L291.2 459.5 L295.1 462.0 L299.1 464.4 L303.0 466.6 L306.9 468.7 L310.7 470.8 L314.6 472.7 L318.6 474.4 L322.7 476.0 L327.1 477.4 L331.5 478.6 L335.5 479.7 L339.0 480.7 L341.7 481.4 L343.7 481.8 L345.5 482.2 L347.3 482.6 L349.7 483.1 L352.3 483.7 L354.8 484.4 L357.7 485.1 L361.4 486.0 L366.3 487.2 L372.7 488.7 L380.4 490.6 L388.8 492.6 L397.4 494.6 L405.7 496.2 L413.6 497.5 L421.5 498.7 L429.4 499.7 L437.2 500.6 L445.1 501.4 L453.0 502.2 L460.8 502.9 L468.7 503.5 L476.4 504.1 L484.0 504.6 L491.0 505.1 L497.4 505.5 L503.9 505.9 L511.3 506.3 L520.0 506.7 L530.1 507.2 L541.0 507.7 L553.0 508.2 L566.4 508.7 L581.4 509.3 L600.1 509.9 L622.4 510.5 L645.0 511.1 L664.9 511.6 L678.7 512.0" fill="none" stroke="#ff0000" stroke-width="4.8" stroke-dasharray="7 11.5" stroke-linecap="round" stroke-linejoin="round"/>
<path d="M94.7 418.4 L103.5 265.4 L138.5 265.4 L139.5 270.9 L141.4 281.3 L143.4 290.9 L145.3 299.7 L147.3 307.9 L149.2 315.5 L151.2 322.5 L153.1 329.1 L155.0 335.3 L157.0 341.1 L158.9 346.5 L160.9 351.7 L162.8 356.5 L164.8 361.0 L166.7 365.3 L168.7 369.4 L170.6 373.3 L172.6 377.0 L174.5 380.5 L176.5 383.8 L178.4 387.0 L180.4 390.0 L182.3 392.9 L184.2 395.7 L186.2 398.4 L188.1 400.9 L190.1 403.3 L192.0 405.7 L194.0 407.9 L195.9 410.1 L197.9 412.2 L199.8 414.2 L201.8 416.1 L203.7 418.0 L205.7 419.8 L207.6 421.5 L209.5 423.2 L211.5 424.8 L213.4 426.4 L215.4 427.9 L217.3 429.4 L219.3 430.8 L221.2 432.2 L223.2 433.5 L225.1 434.8 L227.1 436.1 L229.0 437.3 L231.0 438.5 L232.9 439.6 L234.9 440.8 L236.8 441.9 L238.7 442.9 L240.7 444.0 L242.6 445.0 L244.6 445.9 L246.5 446.9 L248.5 447.8 L250.4 448.7 L252.4 449.6 L254.3 450.5 L256.3 451.3 L258.2 452.2 L260.2 453.0 L262.1 453.7 L264.1 454.5 L266.0 455.3 L267.9 456.0 L269.9 456.7 L271.8 457.4 L273.8 458.1 L275.7 458.8 L277.7 459.4 L279.6 460.1 L281.6 460.7 L283.5 461.3 L285.5 461.9 L287.4 462.5 L289.4 463.1 L291.3 463.7 L293.3 464.2 L295.2 464.8 L297.1 465.3 L299.1 465.8 L301.0 466.3 L303.0 466.8 L304.9 467.3 L306.9 467.8 L308.8 468.3 L310.8 468.8 L312.7 469.2 L314.7 469.7 L316.6 470.1 L318.6 470.6 L320.5 471.0 L322.5 471.4 L324.4 471.8 L326.3 472.3 L328.3 472.7 L330.2 473.1 L332.2 473.4 L334.1 473.8 L336.1 474.2 L338.0 474.6 L340.0 474.9 L341.9 475.3 L343.9 475.6 L345.8 476.0 L347.8 476.3 L349.7 476.7 L351.7 477.0 L353.6 477.3 L355.5 477.7 L357.5 478.0 L359.4 478.3 L361.4 478.6 L363.3 478.9 L365.3 479.2 L367.2 479.5 L369.2 479.8 L371.1 480.1 L373.1 480.4 L375.0 480.6 L377.0 480.9 L378.9 481.2 L380.9 481.4 L382.8 481.7 L384.7 482.0 L386.7 482.2 L388.6 482.5 L390.6 482.7 L392.5 483.0 L394.5 483.2 L396.4 483.5 L398.4 483.7 L400.3 483.9 L402.3 484.2 L404.2 484.4 L406.2 484.6 L408.1 484.8 L410.0 485.1 L412.0 485.3 L413.9 485.5 L415.9 485.7 L417.8 485.9 L419.8 486.1 L421.7 486.3 L423.7 486.5 L425.6 486.7 L427.6 486.9 L429.5 487.1 L431.5 487.3 L433.4 487.5 L435.4 487.7 L437.3 487.9 L439.2 488.1 L441.2 488.2 L443.1 488.4 L445.1 488.6 L447.0 488.8 L449.0 489.0 L450.9 489.1 L452.9 489.3 L454.8 489.5 L456.8 489.6 L458.7 489.8 L460.7 490.0 L462.6 490.1 L464.6 490.3 L466.5 490.4 L468.4 490.6 L470.4 490.8 L472.3 490.9 L474.3 491.1 L476.2 491.2 L478.2 491.4 L480.1 491.5 L482.1 491.7 L484.0 491.8 L486.0 491.9 L487.9 492.1 L489.9 492.2 L491.8 492.4 L493.8 492.5 L495.7 492.6 L497.6 492.8 L499.6 492.9 L501.5 493.0 L503.5 493.2 L505.4 493.3 L507.4 493.4 L509.3 493.5 L511.3 493.7 L513.2 493.8 L515.2 493.9 L517.1 494.0 L519.1 494.2 L521.0 494.3 L523.0 494.4 L524.9 494.5 L526.8 494.6 L528.8 494.8 L530.7 494.9 L532.7 495.0 L534.6 495.1 L536.6 495.2 L538.5 495.3 L540.5 495.4 L542.4 495.5 L544.4 495.6 L546.3 495.8 L548.3 495.9 L550.2 496.0 L552.2 496.1 L554.1 496.2 L556.0 496.3 L558.0 496.4 L559.9 496.5 L561.9 496.6 L563.8 496.7 L565.8 496.8 L567.7 496.9 L569.7 497.0 L571.6 497.1 L573.6 497.2 L575.5 497.3 L577.5 497.4 L579.4 497.4 L581.4 497.5 L583.3 497.6 L585.2 497.7 L587.2 497.8 L589.1 497.9 L591.1 498.0 L593.0 498.1 L595.0 498.2 L596.9 498.2 L598.9 498.3 L600.8 498.4 L602.8 498.5 L604.7 498.6 L606.7 498.7 L608.6 498.8 L610.5 498.8 L612.5 498.9 L614.4 499.0 L616.4 499.1 L618.3 499.2 L620.3 499.2 L622.2 499.3 L624.2 499.4 L626.1 499.5 L628.1 499.5 L630.0 499.6 L632.0 499.7 L633.9 499.8 L635.9 499.8 L637.8 499.9 L639.7 500.0 L641.7 500.1 L643.6 500.1 L645.6 500.2 L647.5 500.3 L649.5 500.4 L651.4 500.4 L653.4 500.5 L655.3 500.6 L657.3 500.6 L659.2 500.7 L661.2 500.8 L663.1 500.8 L665.1 500.9 L667.0 501.0 L668.9 501.0 L670.9 501.1 L672.8 501.2 L674.8 501.2 L676.7 501.3 L678.7 501.4" fill="none" stroke="#000" stroke-width="4" stroke-linejoin="round"/>
</g>
<rect x="94.7" y="10.2" width="584.05" height="510.5" fill="none" stroke="#000" stroke-width="2.7"/>
<g class="b" filter="url(#gs)"><text x="94.7" y="564.7" text-anchor="middle">0</text><text x="192.0" y="564.7" text-anchor="middle">1</text><text x="289.4" y="564.7" text-anchor="middle">2</text><text x="386.7" y="564.7" text-anchor="middle">3</text><text x="484.0" y="564.7" text-anchor="middle">4</text><text x="581.4" y="564.7" text-anchor="middle">5</text><text x="678.7" y="564.7" text-anchor="middle">6</text><text x="68.9" y="529.8" text-anchor="end">0</text><text x="68.9" y="359.7" text-anchor="end">0.5</text><text x="68.9" y="189.6" text-anchor="end">1</text><text x="68.9" y="19.5" text-anchor="end">1.5</text></g>
<g class="t" filter="url(#gs)"><text x="415.1" y="589.6" text-anchor="middle">T(s)</text>
<text transform="translate(20.4,254.3) rotate(-90)" text-anchor="middle">Sa(g)</text>
</g>
<line x1="289.4" x2="337.8" y1="30.35" y2="30.35" stroke="#bcbcbc" stroke-width="1.5" stroke-dasharray="4.1 1.3"/>
<line x1="290.3" x2="337" y1="71.1" y2="71.1" stroke="#ff0000" stroke-width="5" stroke-dasharray="9.2 9.3" stroke-linecap="round"/>
<line x1="290.3" x2="337" y1="111.4" y2="111.4" stroke="#000" stroke-width="4" stroke-linecap="round"/>
<g class="lg" filter="url(#gs)">
<text x="342.3" y="38.4">Independent response spectrum</text>
<text x="342.3" y="78.7">Mean response spectrum</text>
<text x="342.3" y="118.6">Design response spectrum</text>
</g>
</svg>
</body></html>
